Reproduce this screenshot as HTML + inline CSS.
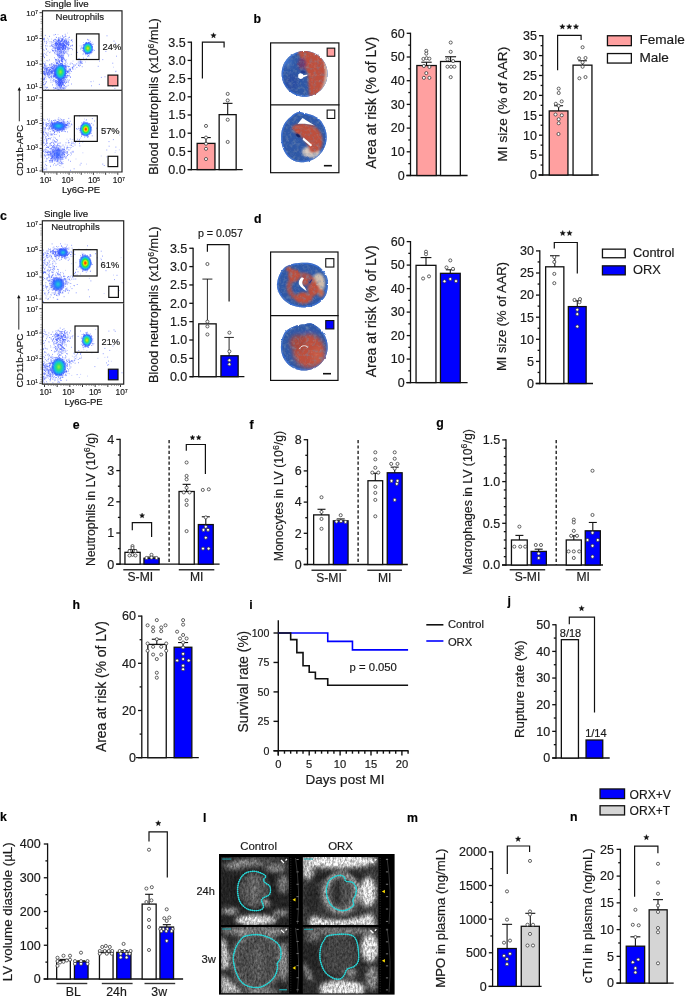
<!DOCTYPE html><html><head><meta charset="utf-8"><style>html,body{margin:0;padding:0;background:#fff;}svg{display:block;will-change:transform}text{stroke:#1a1a1a;stroke-width:0.18px}</style></head><body><svg width="685" height="998" viewBox="0 0 685 998" font-family='"Liberation Sans", sans-serif'>
<rect width="685" height="998" fill="#fff"/>
<defs><filter id="b05" x="-20%" y="-20%" width="140%" height="140%"><feGaussianBlur stdDeviation="0.5"/></filter><filter id="b1" x="-30%" y="-30%" width="160%" height="160%"><feGaussianBlur stdDeviation="1"/></filter><filter id="b2" x="-50%" y="-50%" width="200%" height="200%"><feGaussianBlur stdDeviation="2"/></filter><filter id="b3" x="-50%" y="-50%" width="200%" height="200%"><feGaussianBlur stdDeviation="3"/></filter><radialGradient id="gcore"><stop offset="0" stop-color="#f5f000"/><stop offset="0.3" stop-color="#50e050"/><stop offset="0.55" stop-color="#10d0e0"/><stop offset="0.8" stop-color="#2060ff" stop-opacity="0.7"/><stop offset="1" stop-color="#3050ff" stop-opacity="0"/></radialGradient><radialGradient id="gcoreR"><stop offset="0" stop-color="#ff2800"/><stop offset="0.12" stop-color="#ff5a00"/><stop offset="0.26" stop-color="#e8e800"/><stop offset="0.44" stop-color="#30e040"/><stop offset="0.62" stop-color="#10c8e0"/><stop offset="0.8" stop-color="#2060ff" stop-opacity="0.75"/><stop offset="1" stop-color="#3050ff" stop-opacity="0"/></radialGradient><radialGradient id="gcyan"><stop offset="0" stop-color="#20d0d0"/><stop offset="0.45" stop-color="#2080ff"/><stop offset="0.8" stop-color="#3050ff" stop-opacity="0.6"/><stop offset="1" stop-color="#3050ff" stop-opacity="0"/></radialGradient><radialGradient id="gblue"><stop offset="0" stop-color="#3060ff" stop-opacity="0.85"/><stop offset="0.7" stop-color="#4060ff" stop-opacity="0.4"/><stop offset="1" stop-color="#4060ff" stop-opacity="0"/></radialGradient><radialGradient id="ggreen"><stop offset="0" stop-color="#a0f030"/><stop offset="0.28" stop-color="#30e070"/><stop offset="0.55" stop-color="#10c0e0"/><stop offset="0.8" stop-color="#2060ff" stop-opacity="0.7"/><stop offset="1" stop-color="#3050ff" stop-opacity="0"/></radialGradient></defs>
<g>
<defs><linearGradient id="axg" x1="0" x2="1" y1="0" y2="0"><stop offset="0" stop-color="#1c3a8a"/><stop offset="0.4" stop-color="#1e6a3a"/><stop offset="0.75" stop-color="#2a4a6a"/><stop offset="1" stop-color="#222"/></linearGradient></defs>
<text x="44.5" y="7" font-size="9.7" text-anchor="start" fill="#111">Single live</text>
<text x="55.6" y="19.7" font-size="9.6" text-anchor="start" fill="#222">Neutrophils</text>
<clipPath id="clip1"><rect x="41.9" y="10.2" width="80.69999999999999" height="80.7"/></clipPath>
<g clip-path="url(#clip1)">
<path d="M61.2 75.2h0M59.9 41.5h0M60.4 45.0h0M85.3 49.5h0M62.6 59.5h0M61.1 83.5h0M64.6 37.2h0M54.6 75.4h0M68.2 66.7h0M65.8 49.4h0M52.2 71.1h0M64.5 45.0h0M63.3 86.3h0M92.1 51.0h0M61.3 69.5h0M56.8 80.9h0M58.1 48.6h0M58.7 42.8h0M87.5 44.3h0M59.4 69.4h0M55.1 53.9h0M86.5 42.4h0M52.8 82.2h0M66.6 45.3h0M64.5 45.0h0M85.8 46.1h0M65.7 65.5h0M62.0 71.6h0M54.2 70.7h0M61.8 66.7h0M56.8 44.8h0M44.7 75.1h0M59.5 41.9h0M60.1 42.6h0M60.7 47.8h0M48.2 77.8h0M52.7 72.5h0M53.2 67.0h0M58.1 88.9h0M66.2 87.1h0M88.1 48.4h0M90.0 51.8h0M60.5 41.4h0M53.2 68.3h0M54.4 75.0h0M56.0 66.4h0M54.8 64.6h0M59.0 81.8h0M88.5 45.3h0M62.4 72.9h0M85.3 50.7h0M48.1 72.1h0M52.4 71.6h0M48.1 68.0h0M59.2 72.5h0M61.8 43.6h0M55.8 45.8h0M47.3 69.7h0M55.9 60.4h0M48.9 69.8h0M59.7 85.4h0M65.3 42.6h0M62.0 88.8h0M55.4 41.9h0M45.0 77.7h0M85.3 44.0h0M90.8 47.7h0M63.0 67.1h0M69.0 68.8h0M55.3 67.5h0M62.8 42.6h0M58.8 69.8h0M69.0 47.0h0M60.3 73.3h0M58.6 65.4h0M66.5 75.6h0M89.8 50.0h0M44.1 42.9h0M58.2 44.9h0M64.7 70.9h0M52.6 63.6h0M59.0 46.1h0M61.2 69.7h0M59.5 76.0h0M87.9 52.1h0M56.6 48.3h0M73.0 61.1h0M84.6 48.2h0M92.6 48.0h0M55.3 76.3h0M85.8 44.8h0M87.8 48.9h0M44.3 66.1h0M58.2 61.6h0M63.9 74.4h0M88.4 52.1h0M62.9 74.4h0M45.8 70.1h0M51.1 71.9h0M64.1 42.0h0M61.2 41.4h0M58.1 83.5h0M65.7 72.7h0M61.6 69.7h0M61.7 85.0h0M58.4 73.2h0M66.9 76.5h0M58.5 64.4h0M56.6 72.4h0M86.3 49.9h0M65.7 51.6h0M89.0 47.9h0M84.9 47.2h0M57.9 42.2h0M87.8 48.1h0M44.6 70.1h0M60.3 75.1h0M64.0 81.9h0M57.4 52.6h0M58.7 61.4h0M59.9 82.8h0M70.5 69.3h0M55.9 42.6h0M62.6 49.6h0M87.0 51.2h0M58.6 39.6h0M44.6 73.3h0M51.8 68.2h0M87.2 45.1h0M60.8 47.7h0M49.0 72.7h0M57.1 86.2h0M64.5 73.5h0M68.2 44.4h0M62.7 44.0h0M63.8 46.4h0M62.4 63.9h0M49.4 74.0h0M44.4 81.3h0M88.3 47.7h0M50.4 73.5h0M43.6 68.2h0M64.5 44.8h0M87.5 49.3h0M89.5 49.5h0M80.6 62.2h0M63.2 80.6h0M55.7 71.6h0M93.6 81.2h0M61.7 66.6h0M56.9 61.6h0M47.5 74.3h0M63.2 77.7h0M59.6 78.8h0M52.7 42.9h0M56.0 82.8h0M61.0 53.8h0M60.8 46.7h0M54.6 77.1h0M43.1 82.7h0M82.9 47.8h0M64.8 69.4h0M62.2 82.6h0M87.8 49.5h0M61.5 66.1h0M63.8 73.0h0M53.4 71.2h0M65.6 75.4h0M60.8 69.4h0M91.8 52.4h0M68.0 71.5h0M64.1 47.1h0M58.0 84.9h0M58.9 50.2h0M55.8 42.0h0M50.7 71.9h0M67.6 63.4h0M57.7 44.0h0M65.6 43.7h0M87.0 51.7h0M45.0 79.4h0M60.8 71.7h0M63.0 46.1h0M53.7 71.9h0M44.4 85.1h0M60.3 68.6h0M45.0 68.5h0M51.6 43.1h0M64.2 80.2h0M53.7 79.3h0M59.4 71.1h0M59.0 80.5h0M51.5 72.0h0M43.7 71.4h0M62.6 88.1h0M56.6 70.4h0M89.4 50.2h0M56.9 78.1h0M44.3 74.4h0M88.6 50.3h0M66.1 73.7h0M59.8 37.7h0M54.1 73.5h0M59.5 54.9h0M89.0 56.3h0M51.9 68.5h0M73.4 66.5h0M59.0 81.5h0M90.1 50.5h0M80.7 63.7h0M50.4 69.5h0M57.6 44.1h0M44.0 71.8h0M49.4 75.2h0M56.6 77.6h0M55.9 68.9h0M64.3 42.0h0M88.3 47.9h0M80.0 45.9h0M55.4 69.1h0M52.8 80.7h0M50.7 71.6h0M52.3 69.6h0M61.2 60.2h0M52.8 68.3h0M63.9 70.2h0M88.0 44.2h0M59.5 49.6h0M58.0 34.5h0M86.3 50.8h0M54.7 74.4h0M58.8 81.1h0M60.3 83.0h0M43.5 84.9h0M62.9 75.7h0M49.2 74.8h0M65.2 42.5h0M57.7 81.3h0M60.5 68.7h0M53.1 41.9h0M46.0 69.9h0M62.2 66.0h0M48.9 72.6h0M54.8 63.9h0M56.2 37.1h0M62.1 39.7h0M58.7 46.7h0M90.3 48.1h0M56.6 67.2h0M87.1 43.6h0M52.8 49.2h0M62.5 82.4h0M61.1 87.5h0M86.7 50.2h0M93.0 49.4h0M53.6 76.4h0M60.5 88.1h0M54.3 76.5h0M59.6 48.2h0M55.0 47.2h0M65.4 65.1h0M56.1 39.8h0M52.8 71.6h0M58.6 82.5h0M89.2 47.2h0M57.9 55.0h0M56.0 76.7h0M68.9 47.7h0M62.1 44.9h0M89.1 44.5h0M61.9 74.7h0M86.1 51.2h0M45.7 54.5h0M46.3 72.4h0M63.2 51.3h0M72.4 67.0h0M58.6 78.3h0M86.4 49.1h0M63.1 80.4h0M70.1 40.6h0M91.3 44.0h0M92.2 42.3h0M58.4 82.1h0M58.6 46.7h0M67.4 75.2h0M52.3 73.6h0M52.2 73.7h0M62.3 43.5h0M58.6 82.5h0M60.3 62.1h0M55.5 83.0h0M88.9 43.0h0M86.1 48.6h0M62.1 51.2h0M54.8 79.8h0M60.0 68.5h0M70.7 45.8h0M56.0 46.5h0M58.4 66.7h0M58.9 74.6h0M47.1 65.7h0M62.6 62.4h0M85.2 52.1h0M91.2 44.4h0M57.2 62.7h0M56.4 74.6h0M58.5 87.4h0M63.5 37.6h0M46.8 67.3h0M64.6 39.6h0M63.9 49.5h0M86.3 46.9h0M60.6 45.3h0M59.8 75.8h0M60.8 70.1h0M62.4 57.6h0M56.2 84.5h0M55.8 81.6h0M48.3 70.6h0M62.9 75.7h0M89.5 42.1h0M63.3 43.1h0M84.3 48.5h0M60.1 70.5h0M61.6 57.5h0M74.1 66.4h0M51.6 72.9h0M55.6 65.7h0M59.1 63.3h0M57.0 60.3h0M65.6 82.6h0M65.7 73.8h0M59.8 79.3h0M91.0 47.4h0M67.1 43.5h0M62.0 43.5h0M55.8 47.7h0M55.6 72.9h0M64.4 74.8h0M62.2 61.6h0M54.7 70.9h0M53.7 62.6h0M50.7 52.0h0M57.5 47.4h0M46.4 88.5h0M65.3 67.2h0M53.5 42.2h0M64.5 42.2h0M61.6 59.0h0M88.2 47.6h0M58.1 89.3h0M46.8 68.1h0M61.3 57.3h0M86.3 46.5h0M45.3 84.1h0M55.6 47.4h0M55.9 71.1h0M67.5 44.6h0M78.7 65.3h0M68.8 72.0h0M60.3 49.9h0M87.5 47.8h0M56.5 42.7h0M91.5 52.4h0M60.9 41.2h0M91.2 51.7h0M84.5 47.3h0M58.3 86.6h0M60.2 51.5h0M89.1 41.0h0M52.2 71.2h0M63.0 54.1h0M60.2 50.9h0M71.3 54.4h0M55.9 53.7h0M61.9 45.0h0M64.8 40.4h0M67.6 44.6h0M47.3 68.1h0M68.2 44.5h0M58.4 60.8h0M61.6 89.0h0M62.7 84.1h0M64.7 70.2h0M89.2 42.6h0M60.5 68.6h0M90.1 48.7h0M58.5 76.0h0M69.5 44.5h0M85.4 45.9h0M59.8 61.2h0M63.7 72.7h0M58.9 72.8h0M59.9 85.2h0M60.1 58.6h0M60.3 73.2h0M55.9 48.8h0M45.7 54.3h0M115.6 71.7h0M63.2 47.4h0M65.4 66.8h0M87.8 49.4h0M88.7 44.8h0M62.2 80.1h0M85.5 62.0h0M63.7 83.0h0M88.7 50.4h0M61.5 67.2h0M59.5 51.3h0M54.8 45.6h0M59.0 68.7h0M84.8 51.2h0M61.7 48.2h0M55.4 44.2h0M44.7 73.1h0M48.5 39.3h0M57.0 89.7h0M55.6 75.0h0M56.6 73.4h0M88.1 46.4h0M59.1 82.0h0M63.7 57.2h0M87.1 50.8h0M66.0 36.4h0M55.8 49.8h0M89.5 42.8h0M62.4 77.7h0M48.3 71.2h0M85.2 51.7h0M62.3 55.2h0M90.5 48.0h0M85.9 46.8h0M65.2 65.3h0M88.6 43.8h0M61.1 56.0h0M87.6 54.1h0M62.9 52.3h0M48.2 76.3h0M62.8 39.3h0M88.3 48.8h0M89.2 45.3h0M88.9 39.7h0M58.8 63.0h0M69.4 71.0h0M51.9 75.6h0M57.4 58.3h0M44.1 68.2h0M64.8 80.3h0M52.8 51.4h0M87.6 49.8h0M58.7 48.6h0M44.0 71.1h0M62.6 72.4h0M51.7 39.1h0M57.6 81.0h0M89.6 50.7h0M68.2 48.1h0M44.1 73.7h0M86.1 50.0h0M59.0 39.6h0M89.2 51.9h0M43.5 73.4h0M83.4 44.7h0M55.9 67.8h0M62.1 53.5h0M86.7 48.4h0M62.4 65.3h0M59.6 73.0h0M60.7 73.2h0M56.1 74.6h0M57.8 87.6h0M61.1 52.0h0M89.4 48.3h0M89.5 48.8h0M59.5 84.4h0M60.7 67.1h0M54.8 64.2h0M65.7 63.3h0M51.4 74.5h0M58.0 72.5h0M90.6 42.8h0M61.8 56.8h0M63.0 69.9h0M86.5 43.0h0M52.8 47.0h0M64.4 78.9h0M64.2 63.8h0M88.0 53.2h0M61.9 40.5h0M63.6 48.4h0M51.1 66.1h0M58.8 42.7h0M90.0 47.2h0M68.7 41.6h0M43.5 80.0h0M59.7 43.9h0M60.9 73.9h0M62.9 83.8h0M59.1 57.3h0M54.5 76.5h0M73.6 69.2h0M46.2 71.3h0M90.1 52.1h0M60.1 70.9h0M54.7 75.5h0M60.5 60.4h0M63.8 73.5h0M64.5 47.3h0M61.4 50.1h0M63.8 80.0h0M70.4 68.2h0M63.6 37.1h0M62.9 46.4h0M72.2 68.2h0M57.5 54.9h0M55.9 85.2h0M58.7 64.0h0M58.1 44.4h0M63.1 81.4h0M61.5 69.1h0M60.7 54.6h0M91.8 50.9h0M57.0 77.7h0M61.8 77.6h0M59.0 44.8h0M58.5 50.0h0M88.6 45.3h0M87.3 48.5h0M90.1 48.9h0M82.0 48.0h0M61.9 85.7h0M52.8 48.5h0M85.7 54.2h0M59.9 67.2h0M60.7 41.6h0M88.9 45.3h0M85.8 44.4h0M63.4 48.2h0M56.3 78.4h0M45.2 66.8h0M118.4 85.9h0M59.4 70.6h0M46.4 78.9h0M62.2 75.7h0M62.0 43.8h0M68.6 73.2h0M59.9 43.2h0M67.4 33.1h0M90.8 47.8h0M79.9 61.9h0M47.7 73.6h0M66.3 70.5h0M68.6 67.2h0M47.5 38.3h0M58.7 85.9h0M56.8 84.3h0M88.3 45.4h0M44.5 64.2h0M45.3 68.2h0M61.8 54.1h0M60.5 66.3h0M60.5 88.4h0M67.4 79.4h0M63.1 77.0h0M59.7 57.8h0M60.8 83.0h0M59.6 78.4h0M62.2 69.7h0M60.5 68.9h0M92.6 47.1h0M83.5 42.5h0M65.3 77.2h0M68.0 43.9h0M60.9 72.6h0M59.2 85.7h0M89.4 45.0h0M83.7 44.7h0M86.3 47.3h0M61.7 74.9h0M89.2 45.1h0M88.8 52.6h0M60.0 75.8h0M48.9 74.1h0M59.5 44.8h0M88.5 52.4h0M55.1 81.6h0M59.6 84.9h0M89.3 46.6h0M60.2 77.1h0M53.5 69.3h0M67.0 43.0h0M113.4 67.2h0M66.2 73.9h0M44.7 71.7h0M64.2 44.4h0M88.9 50.6h0M49.3 41.6h0M46.8 52.4h0M64.7 42.4h0M48.1 61.0h0M64.8 72.7h0M57.1 70.9h0M59.4 78.9h0M85.5 45.4h0M58.0 71.9h0M83.8 48.5h0M58.4 61.3h0M55.8 69.3h0M58.0 78.1h0M86.9 43.5h0M58.5 66.9h0M86.5 47.8h0M65.5 48.7h0M56.7 47.0h0M44.8 76.1h0M60.0 80.2h0M79.3 59.3h0M63.2 47.4h0M57.1 48.7h0M60.3 73.3h0M48.1 71.3h0M87.0 44.9h0M47.1 42.5h0M89.5 52.1h0M60.3 50.7h0M60.9 81.4h0M51.1 42.8h0M89.5 44.4h0M61.5 70.6h0M58.9 49.3h0M56.7 54.5h0M46.5 74.5h0M44.8 66.2h0M60.9 63.9h0M67.8 46.5h0M62.6 78.7h0M45.4 47.0h0M87.6 45.7h0M69.4 69.9h0M65.1 77.4h0M69.2 39.6h0M68.5 43.6h0M86.8 46.8h0M60.4 68.3h0M58.8 67.7h0M85.4 47.9h0M60.5 43.9h0M49.9 70.4h0M48.1 40.8h0M46.3 42.6h0M63.8 84.8h0M56.2 72.5h0M68.0 45.1h0M86.7 50.4h0M61.2 84.7h0M63.1 85.3h0M62.9 67.3h0M64.9 59.9h0M52.3 69.9h0M61.9 88.7h0M49.3 65.0h0M62.7 44.0h0M66.1 78.8h0M56.8 48.5h0M64.6 72.2h0M57.8 72.3h0M61.1 73.3h0M53.9 70.3h0M89.0 44.4h0M68.7 44.2h0M65.1 52.1h0M65.8 70.1h0M88.7 45.9h0M86.5 47.5h0M45.1 74.5h0M59.6 64.8h0M57.3 71.7h0M86.5 44.2h0M45.5 68.0h0M70.2 71.4h0M88.1 52.1h0M67.9 49.3h0M86.5 49.0h0M52.7 74.3h0M59.1 78.4h0M64.3 59.0h0M85.2 49.6h0M49.9 43.2h0M55.1 65.0h0M57.6 53.2h0M88.0 51.8h0M56.0 67.2h0M47.1 72.3h0M62.1 75.6h0M58.5 83.3h0M65.3 75.7h0M57.7 83.9h0M58.0 78.9h0M49.9 70.0h0M52.8 73.6h0M66.8 86.3h0M61.5 79.8h0M64.7 46.3h0M44.8 61.5h0M75.2 69.0h0M54.6 76.3h0M44.4 70.0h0M57.0 46.0h0M57.5 81.8h0M57.8 84.8h0M85.7 54.9h0M62.8 49.9h0M66.1 66.3h0M59.0 67.1h0M65.5 72.2h0M60.4 74.3h0M66.8 86.2h0M57.8 39.1h0M64.1 80.3h0M61.1 75.1h0M87.4 52.4h0M53.7 75.0h0M88.9 44.9h0M44.5 39.3h0M87.9 49.1h0M88.0 47.9h0M56.4 43.5h0M58.1 74.5h0M53.7 77.5h0M58.6 59.2h0M55.2 69.2h0M63.1 44.6h0M58.5 73.4h0M89.5 48.7h0M51.7 49.4h0M83.0 54.6h0M50.8 76.4h0M54.4 72.9h0M65.4 82.0h0M59.9 86.4h0M66.7 77.4h0M65.8 46.5h0M59.5 86.0h0M58.3 84.4h0M89.8 51.2h0M58.3 43.1h0M44.2 86.2h0M55.9 82.8h0M52.1 42.4h0M64.6 48.6h0M79.7 64.8h0M57.8 41.5h0M46.3 53.8h0M49.9 65.6h0M54.7 71.2h0M56.9 53.4h0M59.8 46.9h0M86.8 42.9h0M56.2 52.2h0M58.4 68.8h0M57.7 68.7h0M52.4 64.4h0M54.1 79.2h0M60.3 73.6h0M91.5 53.0h0M59.3 77.0h0M68.3 44.8h0M90.9 52.6h0M61.2 52.3h0M61.2 71.3h0M58.3 67.2h0M81.5 61.1h0M56.6 63.1h0M52.8 72.5h0M60.6 36.8h0M58.7 70.5h0M62.2 43.8h0M58.5 81.1h0M53.8 68.0h0M43.2 77.0h0" stroke="#7f90ff" stroke-width="0.65" stroke-linecap="round" opacity="0.8"/>
<path d="M45.8 72.8h0M55.8 61.8h0M87.4 45.8h0M62.0 38.7h0M66.5 44.1h0M58.5 40.1h0M61.6 72.2h0M64.4 73.9h0M49.0 77.5h0M61.0 81.7h0M86.2 42.8h0M86.5 44.9h0M63.6 46.1h0M83.6 48.0h0M62.0 68.5h0M65.1 36.6h0M55.0 69.0h0M86.9 50.1h0M55.9 66.2h0M53.4 75.3h0M60.0 84.0h0M56.1 59.7h0M61.3 79.9h0M50.6 67.7h0M89.1 45.6h0M63.0 45.6h0M60.8 74.0h0M62.8 38.3h0M88.3 48.4h0M58.6 85.5h0M114.9 88.4h0M59.3 56.4h0M56.8 68.4h0M57.4 67.9h0M51.9 68.9h0M64.7 40.6h0M58.6 79.7h0M51.7 73.5h0M62.7 65.5h0M59.9 40.5h0M62.0 81.8h0M61.5 63.6h0M47.1 68.2h0M63.3 45.2h0M55.9 68.3h0M46.9 69.6h0M55.9 59.5h0M60.7 48.2h0M60.3 73.3h0M59.3 43.5h0M59.9 39.0h0M68.1 41.6h0M48.9 70.6h0M53.8 76.0h0M89.4 46.7h0M66.9 52.1h0M59.1 70.5h0M85.5 47.1h0M44.6 72.2h0M48.3 72.4h0M88.2 48.0h0M51.4 64.2h0M59.9 47.1h0M57.8 46.5h0M88.2 48.4h0M54.6 66.2h0M88.1 47.1h0M61.3 69.6h0M59.8 55.5h0M88.8 45.2h0M59.4 70.6h0M62.2 82.2h0M52.4 50.4h0M66.2 51.0h0M86.7 46.6h0M56.8 78.7h0M66.7 73.4h0M58.6 79.8h0M59.2 75.1h0M74.8 65.0h0M62.7 84.3h0M62.7 72.3h0M86.0 50.6h0M64.6 65.5h0M66.7 40.7h0M53.9 79.6h0M51.9 44.9h0M89.1 49.2h0M59.6 57.6h0M81.8 46.1h0M55.1 74.7h0M58.3 69.4h0M57.8 40.9h0M87.3 47.2h0M62.9 87.4h0M54.4 47.1h0M59.7 51.1h0M65.3 45.5h0M52.7 68.4h0M90.0 47.2h0M60.7 77.1h0M61.2 86.6h0M61.4 58.1h0M53.8 48.1h0M44.3 74.4h0M52.5 84.9h0M65.8 47.6h0M60.2 70.6h0M62.6 35.8h0M60.9 41.1h0M58.6 44.9h0M53.4 76.9h0M47.1 67.3h0M61.9 60.7h0M89.4 45.6h0M63.2 46.8h0M88.8 47.3h0M59.1 51.6h0M47.6 73.3h0M44.1 79.9h0M67.5 71.4h0M58.3 59.7h0M65.9 69.3h0M44.8 71.3h0M55.4 69.3h0M54.6 71.5h0M63.2 58.5h0M69.9 73.4h0M45.1 73.2h0M61.9 77.2h0M63.7 51.8h0M54.5 52.7h0M86.6 49.7h0M58.2 48.3h0M58.5 83.0h0M62.0 44.2h0M86.4 50.5h0M85.2 44.5h0M51.1 78.9h0M60.8 84.9h0M60.9 82.6h0M62.3 45.0h0M50.7 72.8h0M60.4 56.6h0M71.4 71.5h0M58.0 71.1h0M58.6 73.6h0M60.4 83.5h0M65.5 83.6h0M68.1 51.0h0M80.4 65.3h0M61.1 67.6h0M62.7 72.2h0M61.6 70.6h0M55.9 74.8h0M55.7 48.1h0M60.8 67.2h0M61.3 45.1h0M89.8 47.2h0M59.0 68.8h0M68.5 41.1h0M52.8 66.8h0M89.1 47.9h0M63.9 71.1h0M61.8 45.6h0M72.4 67.6h0M61.3 52.5h0M61.4 41.1h0M105.0 76.8h0M57.4 70.9h0M61.4 65.5h0M58.0 67.3h0M90.0 52.6h0M49.8 69.6h0M68.5 45.3h0M58.1 81.1h0M46.1 71.0h0M57.5 44.0h0M62.0 72.3h0M61.1 41.2h0M44.7 64.3h0M60.6 82.8h0M89.0 45.6h0M62.2 75.1h0M89.4 49.5h0M58.8 48.3h0M53.2 46.6h0M64.7 70.4h0M86.2 50.2h0M55.4 73.1h0M52.0 71.6h0M54.6 65.8h0M49.6 36.4h0M62.3 64.0h0M47.7 74.9h0M63.5 41.8h0M65.2 34.3h0M91.7 46.3h0M69.5 69.0h0M61.0 82.7h0M87.7 51.7h0M88.3 48.7h0M80.1 62.8h0M55.2 72.0h0M60.8 80.0h0M81.5 63.2h0M56.9 86.1h0M69.9 69.8h0M90.3 51.9h0M60.0 80.0h0M62.5 48.5h0M64.6 85.6h0M63.1 48.0h0M62.3 78.5h0M63.3 47.2h0M68.1 48.7h0M85.2 48.4h0M92.0 47.1h0M90.1 44.1h0M43.9 71.7h0M61.1 58.1h0M51.5 63.8h0M64.0 50.1h0M57.1 63.4h0M66.3 66.7h0M62.4 48.1h0M62.1 68.8h0M58.3 47.2h0M115.7 43.3h0M60.8 73.5h0M59.1 55.2h0M57.2 77.8h0M61.1 41.9h0M61.6 67.3h0M58.7 80.5h0M64.6 77.9h0M57.5 81.6h0M61.3 47.7h0M63.2 53.3h0M66.0 70.8h0M61.5 40.3h0M66.2 43.0h0M60.1 89.0h0M86.3 58.7h0M63.7 46.9h0M59.0 56.9h0M61.0 45.3h0M60.1 80.8h0M58.7 42.2h0M58.9 52.1h0M54.7 67.0h0M89.2 46.3h0M59.0 73.5h0M57.7 77.2h0M62.8 40.3h0M89.2 51.7h0M60.0 71.7h0M87.1 52.0h0M56.6 37.5h0M61.4 75.6h0M47.2 74.0h0M70.0 48.4h0M60.8 44.6h0M51.6 70.3h0M92.3 44.6h0M54.3 41.3h0M49.6 70.3h0M116.4 56.2h0M66.1 41.6h0M55.8 88.1h0M61.6 61.1h0M56.3 62.6h0M55.6 75.7h0M64.1 79.1h0M64.0 75.3h0M62.4 64.6h0M60.9 50.1h0M50.4 69.5h0M56.2 75.0h0M57.1 77.1h0M55.3 44.1h0M59.7 49.0h0M58.7 42.8h0M89.5 47.1h0M47.1 76.1h0M57.7 89.0h0M57.0 73.8h0M63.4 68.8h0M56.5 65.5h0M57.1 67.4h0M87.3 52.6h0M59.2 54.1h0M63.8 73.3h0M62.8 58.2h0M61.0 79.7h0M57.5 72.5h0M61.0 47.6h0M58.8 49.3h0M66.5 77.3h0M45.3 75.6h0M56.6 44.1h0M55.0 45.6h0M54.7 74.8h0M65.3 71.1h0M68.1 38.9h0M61.7 39.1h0M59.7 43.9h0M45.9 69.6h0M54.7 70.0h0M89.8 52.3h0M64.4 53.5h0M54.9 66.7h0M64.2 81.6h0M53.1 70.4h0M53.1 45.9h0M62.5 39.9h0M61.4 85.3h0M86.3 47.4h0M63.6 78.0h0M58.1 64.6h0M62.7 74.6h0M64.1 82.7h0M65.3 43.3h0M43.5 38.9h0M58.3 68.5h0M84.1 50.4h0M68.4 56.0h0M59.0 53.2h0M60.4 64.9h0M60.7 86.2h0M52.1 70.9h0M57.6 50.9h0M91.0 47.9h0M52.6 46.4h0M82.0 61.7h0M88.0 50.5h0M59.3 68.5h0M60.0 44.9h0M58.1 77.3h0M59.2 48.2h0M82.2 66.7h0M63.1 54.2h0M47.7 70.4h0M61.6 77.8h0M57.9 55.9h0M58.7 78.3h0M61.2 51.5h0M59.1 68.0h0M52.4 71.7h0M65.1 39.9h0M45.7 77.1h0M52.9 76.1h0M60.9 82.0h0M90.6 44.2h0M57.6 48.3h0M60.5 77.1h0M90.8 45.1h0M63.7 38.0h0M55.8 78.6h0M59.5 74.4h0M55.6 74.7h0M89.7 48.4h0M59.5 85.8h0M64.2 74.6h0M56.4 42.5h0M57.7 51.7h0M57.3 71.1h0M44.6 38.3h0M91.0 43.3h0M62.9 43.9h0M66.0 75.7h0M62.5 45.7h0M52.1 73.7h0M64.1 43.2h0M57.7 44.1h0M81.6 62.8h0M60.7 79.9h0M62.1 72.6h0M50.9 67.2h0M58.6 79.1h0M86.0 43.0h0M49.2 73.8h0M90.0 45.3h0M61.0 71.4h0M55.2 48.8h0M57.8 71.1h0M58.7 67.3h0M60.0 79.7h0M58.7 74.3h0M84.7 50.3h0M88.7 48.6h0M67.7 71.8h0M43.7 79.6h0M56.9 47.6h0M59.1 81.1h0M53.4 67.7h0M86.6 49.4h0M51.5 72.9h0M61.4 70.8h0M53.4 87.5h0M53.8 66.0h0M51.5 45.4h0M64.9 52.5h0M52.6 68.7h0M62.4 59.1h0M88.9 49.5h0M89.2 47.7h0M56.6 43.6h0M46.7 70.4h0M65.0 43.8h0M68.1 75.6h0M88.0 48.2h0M90.0 49.3h0M72.4 49.7h0M61.5 68.7h0M91.0 81.7h0M88.3 51.6h0M59.8 81.0h0M71.7 40.4h0M88.5 42.6h0M55.9 48.7h0M62.8 46.4h0M101.3 77.4h0M86.8 47.0h0M80.4 60.8h0M51.1 65.3h0M55.5 45.0h0M55.6 50.2h0M59.4 67.5h0M65.7 36.0h0M48.5 67.4h0M64.3 49.9h0M55.8 82.7h0M60.7 72.6h0M57.3 49.8h0M47.0 68.7h0M62.0 72.6h0M59.7 69.3h0M56.9 75.4h0M85.0 46.4h0M55.1 71.7h0M88.2 40.2h0M86.5 48.0h0M49.5 70.1h0M90.7 52.2h0M66.4 67.2h0M53.9 81.4h0M59.2 55.9h0M85.0 47.7h0M63.2 49.6h0M86.7 50.7h0M56.1 41.5h0M83.8 48.0h0M73.4 65.0h0M83.2 53.8h0M71.8 48.5h0M55.0 44.8h0M78.4 65.4h0M45.3 74.8h0M61.4 76.1h0M59.0 89.3h0M57.0 83.0h0M88.3 48.7h0M61.9 73.4h0M61.5 71.4h0M86.7 52.1h0M62.8 71.4h0M65.4 48.4h0M51.6 72.5h0M87.7 45.2h0M72.2 45.8h0M47.0 60.6h0M69.6 37.2h0M52.6 66.6h0M59.9 85.6h0M59.4 52.9h0M58.5 74.1h0M66.1 53.2h0M60.4 50.0h0M65.2 41.7h0M56.1 77.5h0M57.0 46.4h0M46.3 72.2h0M61.1 44.7h0M85.5 48.4h0M66.7 42.2h0M67.6 42.5h0M58.7 49.5h0M58.0 75.4h0M57.5 63.4h0M68.2 82.6h0M65.9 80.2h0M46.1 68.7h0M56.1 80.7h0M59.4 61.4h0M61.0 46.0h0M89.7 49.2h0M59.2 47.5h0M57.8 49.6h0M55.9 81.1h0M70.6 69.3h0M55.2 39.2h0M63.0 58.3h0M48.8 76.6h0M84.4 45.8h0M59.6 84.9h0M57.1 44.7h0M51.6 75.8h0M68.8 70.0h0M54.0 89.2h0M66.0 68.8h0M55.7 51.0h0M79.3 66.1h0M65.6 79.4h0M67.1 71.5h0M58.6 82.4h0M53.2 80.3h0M44.0 87.9h0M87.3 45.7h0M61.6 68.8h0M61.9 57.7h0M61.7 53.1h0M46.0 82.0h0M87.7 56.5h0M63.6 48.1h0M49.4 74.2h0M61.7 74.7h0M46.5 70.9h0M55.0 75.5h0M50.0 77.7h0M45.1 65.2h0M57.1 43.5h0M62.6 80.1h0M57.2 70.8h0M58.7 50.1h0M65.3 47.9h0M60.3 70.8h0M61.9 87.6h0M61.2 74.1h0M61.9 66.7h0M87.7 48.9h0M61.9 68.2h0M61.1 89.8h0M64.1 41.6h0M58.3 70.2h0M43.9 63.7h0M86.2 44.0h0M57.8 69.5h0M85.5 47.9h0M60.0 68.3h0M66.0 39.5h0M62.0 47.4h0M63.1 78.2h0M65.1 71.5h0M55.9 45.0h0M85.5 46.7h0M60.6 53.2h0M51.8 71.8h0M60.6 80.7h0M60.5 67.5h0M59.7 77.0h0M62.2 39.5h0M58.9 39.2h0M59.4 81.6h0M87.8 48.7h0M58.8 82.0h0M87.8 49.0h0M70.3 70.0h0M62.9 49.8h0M88.1 47.1h0M66.8 43.6h0M58.8 40.2h0M63.8 88.1h0M85.6 53.7h0M62.1 40.7h0M86.4 49.2h0M61.8 46.0h0M88.7 42.9h0M59.9 71.4h0M63.1 39.6h0M70.1 64.2h0M65.6 73.0h0M61.7 76.1h0M60.4 83.4h0M60.9 82.6h0M51.4 71.9h0M59.4 80.5h0M62.1 57.6h0M63.5 71.4h0M60.0 82.4h0M62.3 49.3h0M59.8 76.0h0M67.5 72.6h0M56.5 82.4h0M57.0 69.7h0M53.5 65.5h0M67.7 53.9h0M62.1 66.2h0M88.4 52.6h0M55.3 43.6h0M88.7 50.2h0M63.8 47.8h0M88.9 55.9h0M68.9 76.0h0M55.0 76.0h0M47.1 68.8h0M57.5 83.0h0M59.9 83.9h0M46.5 69.7h0M56.8 68.6h0M43.3 82.4h0M90.9 53.8h0M60.6 73.3h0M80.3 61.5h0M61.6 47.4h0M61.2 82.0h0M87.8 48.7h0M87.4 52.1h0M55.8 48.0h0M85.0 48.2h0M61.6 50.7h0M57.8 43.3h0M64.1 60.1h0M59.7 66.5h0M62.5 38.9h0M68.9 72.2h0M87.2 54.9h0M56.4 45.3h0M55.3 74.6h0M60.4 72.9h0M87.2 50.4h0M83.9 51.6h0M43.7 39.1h0M55.5 73.4h0M70.2 76.6h0M86.8 44.0h0M61.2 55.7h0M58.5 40.3h0M69.4 75.2h0M59.9 66.2h0M54.5 70.5h0M52.5 50.5h0M44.3 39.9h0M64.3 53.9h0M64.2 87.6h0M59.3 71.0h0M61.7 69.6h0M54.9 69.6h0M58.6 69.7h0M62.7 83.2h0M54.9 75.8h0M56.1 50.5h0M90.4 48.0h0M54.0 71.9h0M61.5 73.2h0M87.0 47.8h0M87.3 49.2h0M56.7 45.2h0M50.8 80.1h0M88.2 44.4h0M69.1 42.8h0M85.5 48.2h0M60.0 76.2h0M62.6 73.2h0M48.0 51.2h0M57.8 78.3h0M58.7 47.1h0M55.5 34.5h0M61.8 61.1h0M61.5 80.6h0M58.2 56.7h0M58.5 68.2h0M55.7 73.8h0M88.0 53.1h0M57.0 47.7h0M55.5 75.4h0M91.6 85.8h0M61.8 69.6h0M62.3 75.3h0M65.8 49.7h0M88.2 44.6h0M65.8 42.4h0M50.7 69.6h0M59.3 75.5h0M59.9 46.8h0M62.3 57.2h0M46.5 72.1h0M85.8 46.5h0M64.4 45.5h0M61.7 60.3h0M69.7 48.7h0M59.6 74.7h0M57.9 43.2h0M61.9 69.8h0M66.4 46.1h0M62.1 69.5h0M60.9 78.4h0M54.0 35.0h0M56.9 65.2h0M60.1 82.9h0M87.8 53.3h0M88.6 48.5h0M59.1 72.8h0M60.7 75.7h0M61.7 63.5h0M90.7 51.7h0M60.3 67.3h0M86.3 45.7h0M54.7 74.0h0M64.6 68.5h0M64.6 85.3h0M61.2 67.9h0M49.7 71.7h0M46.1 73.4h0M58.0 54.7h0M93.2 44.2h0M65.0 77.2h0M62.0 81.5h0M57.9 71.1h0M45.7 87.1h0M61.3 74.2h0M72.4 63.7h0M69.0 37.5h0M65.8 38.5h0M64.7 42.0h0M61.0 59.9h0M62.5 72.2h0M62.4 49.6h0M63.5 43.2h0M48.0 70.1h0M67.2 76.9h0M55.9 42.8h0M60.2 78.9h0M63.7 80.1h0M54.2 73.9h0M61.7 40.2h0M57.3 77.3h0M58.1 76.6h0M58.2 41.4h0M45.9 71.2h0M45.9 68.4h0M78.1 63.9h0M62.1 47.0h0M54.1 76.7h0M59.3 53.8h0M88.2 53.1h0M64.6 69.9h0M61.0 84.5h0M89.0 45.9h0M78.2 62.2h0M86.1 46.1h0M87.6 39.4h0M56.1 66.1h0M62.3 69.4h0M60.8 46.3h0M46.3 43.6h0M54.1 69.5h0M59.4 68.8h0M63.1 43.0h0M66.5 44.4h0M66.4 47.6h0M86.2 48.2h0M63.4 58.1h0M45.1 65.2h0M55.5 77.1h0M64.0 89.8h0M64.9 45.2h0M59.5 62.4h0M64.0 46.3h0M62.5 59.3h0M71.6 40.3h0M65.6 88.1h0M48.1 74.6h0M56.3 40.8h0M61.0 51.9h0M83.0 48.6h0M65.0 48.7h0M56.2 72.8h0M61.4 67.6h0M56.8 75.7h0M44.8 74.6h0M59.7 42.4h0M49.2 73.0h0M57.0 83.1h0M68.8 54.9h0M87.6 52.0h0M58.3 70.4h0M58.9 77.2h0M67.2 42.2h0M59.9 51.2h0M42.9 74.3h0M59.3 48.9h0M63.0 41.1h0M65.3 77.2h0M89.6 51.0h0M59.5 42.1h0M65.2 66.4h0M45.3 35.4h0M61.0 70.4h0M64.8 79.2h0M68.2 85.3h0M61.3 86.3h0M65.2 66.4h0M59.2 55.5h0M58.6 84.4h0M66.2 62.0h0M67.0 43.6h0M61.7 70.2h0M49.1 71.4h0M49.7 70.6h0M58.8 68.4h0M69.6 80.1h0M56.5 45.7h0M43.6 84.3h0M66.5 41.8h0M90.4 47.8h0M51.5 70.9h0M54.4 57.8h0M60.6 73.1h0M66.2 43.9h0M58.0 69.7h0M64.3 82.0h0M58.3 47.3h0M63.9 51.2h0M65.5 46.5h0M59.7 73.0h0M58.6 76.2h0M43.0 39.7h0M58.1 84.2h0M54.6 74.4h0M61.3 43.7h0M52.3 72.8h0M63.1 81.2h0M61.9 70.8h0M49.4 59.9h0M62.4 82.3h0M85.2 50.3h0M57.2 75.6h0M62.4 84.1h0M63.0 83.1h0M46.5 81.8h0M45.7 45.6h0M54.2 68.4h0M44.6 57.2h0M90.8 47.3h0M65.7 76.1h0M62.1 55.7h0M58.8 72.4h0M59.1 74.3h0M49.7 52.6h0M77.6 52.4h0M47.6 72.4h0M88.1 49.2h0M60.4 52.9h0M62.8 76.4h0M57.6 70.3h0M51.1 46.1h0M63.0 46.0h0M60.2 80.4h0M88.6 55.5h0M62.4 66.8h0M57.1 71.3h0M44.7 65.5h0M87.1 43.4h0M89.5 48.9h0M66.1 46.3h0M58.7 84.4h0M58.0 54.8h0M54.9 43.2h0M63.6 68.9h0M91.4 49.6h0M59.7 84.3h0M56.7 70.1h0M61.0 56.9h0M60.8 56.4h0M86.3 51.5h0M50.0 64.3h0M58.9 70.5h0M65.3 75.9h0M62.7 80.7h0M56.3 69.9h0M102.8 59.6h0M58.8 53.1h0M62.6 45.3h0M62.6 72.3h0M62.8 66.4h0M89.8 48.0h0M90.2 45.8h0M71.0 63.1h0M54.1 76.1h0M59.5 75.9h0M59.7 80.4h0M65.2 86.5h0M57.4 70.6h0M87.0 48.2h0M85.9 50.3h0M49.4 64.8h0M57.5 69.7h0M92.8 49.5h0M56.2 81.9h0M59.4 46.8h0M86.0 51.8h0M64.0 70.2h0M54.1 73.3h0M87.7 48.5h0M66.9 77.0h0M67.2 71.1h0M62.2 63.8h0M64.2 78.1h0M61.3 72.0h0M63.4 45.4h0M89.9 44.1h0M55.8 77.3h0M58.7 78.5h0M90.6 50.9h0M57.0 54.4h0M53.4 71.3h0M62.2 60.3h0M89.3 54.2h0M66.5 41.8h0M63.1 73.7h0M59.1 40.4h0M88.9 42.8h0M59.3 67.6h0M59.8 72.4h0M62.7 65.4h0M62.2 61.8h0M56.0 88.5h0M59.5 67.5h0M81.9 47.7h0M64.8 74.0h0M62.3 46.5h0M43.2 78.7h0M65.2 46.9h0M87.8 52.9h0M58.8 73.3h0M57.1 74.9h0M66.8 68.9h0M62.0 59.9h0M89.7 50.2h0M61.1 83.3h0M59.0 79.3h0M60.8 80.8h0M63.2 56.3h0M58.5 40.5h0M55.7 65.4h0M48.7 67.6h0M55.7 43.5h0M55.3 74.5h0M61.4 81.0h0M87.3 50.0h0M50.3 76.4h0M44.4 84.3h0M59.9 85.9h0M105.9 51.4h0M44.3 78.1h0M57.2 83.4h0M43.8 67.7h0M51.2 68.0h0M53.6 40.4h0M63.0 76.0h0M53.6 50.7h0M46.9 68.7h0M56.9 84.7h0M54.6 72.5h0M62.1 41.8h0M94.3 50.4h0M63.0 49.4h0M55.3 70.6h0M89.4 51.2h0M65.6 60.5h0M69.0 71.7h0M63.5 71.0h0M58.1 59.9h0M64.9 63.7h0M68.3 71.9h0M57.8 55.2h0M46.2 66.1h0M62.0 49.2h0M56.8 63.1h0M60.9 49.2h0M53.7 74.0h0M59.4 78.0h0M49.6 77.8h0M58.7 77.2h0M64.7 74.5h0M83.4 58.1h0M44.6 74.0h0M92.6 46.5h0M63.8 47.3h0M56.1 60.4h0M57.5 68.5h0M56.9 45.3h0M59.6 66.5h0M62.2 48.2h0M55.9 88.3h0M63.0 66.8h0M50.5 71.2h0M85.9 47.2h0M54.2 66.2h0M62.4 67.8h0M90.7 49.2h0M62.7 67.8h0M92.3 50.4h0M51.2 72.5h0M87.0 51.3h0M46.6 49.5h0M57.6 79.4h0M59.6 48.0h0M99.3 84.4h0M59.0 43.9h0M75.4 65.2h0M70.4 77.5h0M66.2 59.9h0M47.1 46.0h0M59.8 76.8h0M59.9 44.4h0M58.9 47.6h0M58.0 44.2h0M87.1 48.5h0M89.0 45.6h0M86.9 47.9h0M86.3 52.1h0M58.8 37.9h0M64.4 40.5h0M65.7 48.9h0M56.9 63.5h0M88.2 48.0h0M89.2 46.7h0M56.9 80.9h0M84.3 44.9h0M63.5 79.3h0M62.4 67.1h0M91.0 45.3h0M58.6 38.1h0M59.1 76.0h0M59.9 77.8h0M51.6 67.6h0M67.4 71.9h0M55.4 43.4h0M60.7 47.6h0M51.9 66.4h0M43.1 49.4h0M88.3 51.4h0M60.2 84.4h0M62.8 76.4h0M54.1 70.0h0M60.6 45.7h0M61.4 55.8h0M88.2 50.3h0M48.2 69.3h0M68.0 49.7h0M51.3 67.8h0M58.2 79.7h0M85.3 53.1h0M47.2 72.0h0M59.3 43.8h0M63.9 65.9h0M65.5 47.4h0M90.2 46.8h0M61.0 87.0h0M53.6 68.9h0M51.3 71.3h0M45.2 66.8h0M61.2 54.4h0M50.5 71.3h0M54.8 52.9h0M54.7 50.1h0M63.3 77.6h0M55.1 51.3h0M81.0 48.2h0M68.6 45.4h0M66.0 78.0h0M54.3 73.2h0M62.2 83.1h0M65.9 40.4h0M90.8 50.2h0M59.9 72.2h0M98.2 66.3h0M60.1 43.5h0M65.9 64.8h0M84.2 49.9h0M67.8 75.4h0M99.5 61.1h0M58.5 45.5h0M61.2 65.3h0M85.1 50.7h0M65.7 71.7h0M58.5 70.8h0M65.7 69.6h0M63.5 84.9h0M85.5 45.2h0M60.5 79.5h0M59.7 79.3h0M76.9 67.4h0M59.3 66.2h0M48.1 75.0h0M58.0 51.1h0M116.0 71.2h0M60.8 41.6h0M56.1 70.5h0M87.1 53.5h0M55.0 43.9h0M90.4 51.0h0M65.7 40.8h0M62.3 84.7h0M90.8 48.9h0M88.5 48.3h0M62.6 83.2h0M65.2 66.4h0M62.8 42.1h0M60.3 43.6h0M51.7 76.6h0M49.8 72.1h0M60.9 85.7h0M58.5 40.6h0M82.6 63.3h0M87.2 48.3h0M92.0 47.9h0M57.3 41.4h0M57.4 76.0h0M88.0 46.0h0M61.5 83.4h0M86.8 47.6h0M49.0 71.7h0M60.6 73.1h0M45.4 83.3h0M66.1 81.1h0M52.1 68.0h0M63.4 43.6h0M68.1 80.3h0M62.9 62.0h0M58.6 46.2h0M60.6 75.8h0M44.5 57.7h0M63.9 48.6h0M59.8 76.6h0M61.0 67.4h0M89.8 53.0h0M86.6 45.8h0M63.4 71.8h0M61.1 66.0h0M59.3 41.0h0M65.1 72.2h0M58.2 68.6h0M44.4 69.6h0M79.0 58.5h0M59.7 45.3h0M64.7 75.6h0M61.0 66.0h0M49.6 69.2h0M48.4 72.1h0M62.3 47.0h0M64.6 75.4h0M51.5 77.3h0M57.9 75.7h0M61.8 74.2h0M67.0 65.3h0M87.0 49.6h0M47.3 87.4h0M72.3 45.1h0M60.5 87.5h0M60.3 68.8h0M63.7 55.5h0M56.8 72.2h0M61.9 59.2h0M64.3 50.7h0M57.5 71.4h0M60.2 83.4h0M59.7 67.6h0M70.5 46.2h0M63.6 82.6h0M67.4 48.0h0M43.0 67.1h0M92.0 52.3h0M53.9 47.5h0M65.6 73.8h0M56.9 72.9h0M62.5 67.6h0M59.3 40.1h0M62.0 68.7h0M63.9 44.6h0M73.8 66.9h0M61.6 85.5h0M55.6 59.3h0M58.8 45.5h0M57.4 47.8h0M88.2 47.8h0M86.6 51.4h0M65.4 73.9h0M44.2 50.3h0M55.9 74.7h0M53.4 51.0h0M60.2 75.4h0M58.3 41.8h0M48.7 75.3h0M57.7 49.6h0M62.1 55.8h0M51.7 77.2h0M59.5 83.7h0M53.8 75.9h0M55.5 74.5h0M59.6 79.9h0M84.8 59.6h0M65.5 45.5h0M61.4 81.8h0M48.2 89.5h0M56.5 74.0h0M90.4 41.3h0M64.7 44.8h0M85.6 45.0h0M56.0 80.6h0M62.0 69.4h0M53.1 70.9h0M62.8 65.0h0M67.4 75.4h0M43.6 56.2h0M71.5 84.0h0M87.9 46.0h0M87.3 47.1h0M59.9 77.1h0M86.6 44.5h0M56.5 77.3h0M60.8 55.6h0M44.1 72.3h0M45.7 89.5h0M59.8 82.3h0M86.8 51.0h0M55.3 81.2h0M52.8 66.1h0M63.9 59.3h0M59.6 77.4h0M86.3 45.8h0M64.1 80.7h0M56.2 76.7h0M43.1 63.3h0M68.0 44.5h0M90.1 47.8h0M57.2 43.3h0M59.3 73.8h0M54.3 39.7h0M63.7 72.2h0M83.1 45.1h0M58.0 55.6h0M66.5 82.4h0M50.0 46.2h0M66.2 71.4h0M83.8 51.9h0M57.8 49.0h0M62.0 75.7h0M60.6 63.6h0M90.5 45.2h0M58.0 85.8h0M63.4 77.7h0M86.6 48.8h0M53.8 70.4h0M56.1 44.3h0M58.0 44.6h0M44.1 53.4h0M61.6 44.8h0M63.7 44.4h0M112.8 63.2h0M61.3 66.0h0M54.8 65.3h0M65.6 67.3h0M86.9 45.5h0M86.2 53.9h0M56.5 72.5h0M59.6 62.2h0M61.6 81.4h0M85.6 45.8h0M57.0 45.4h0M46.9 69.3h0M79.1 61.1h0M89.5 48.7h0M56.9 63.2h0M49.9 68.7h0M59.3 69.0h0M59.5 44.8h0M58.7 70.6h0M88.9 48.0h0M63.2 84.8h0M63.9 67.2h0M76.4 63.9h0M59.5 86.0h0M72.1 45.5h0M52.0 70.3h0M66.3 41.4h0M53.6 64.5h0M114.0 41.1h0M49.7 67.2h0M67.3 72.6h0M60.7 83.0h0M72.0 39.8h0M64.0 41.4h0M88.5 50.8h0M61.4 60.2h0M61.6 79.7h0M64.0 77.4h0M50.7 73.1h0M68.6 42.6h0M80.7 62.4h0M59.1 82.3h0M64.3 59.1h0M60.8 81.2h0M46.2 48.5h0M44.7 41.4h0M61.0 77.9h0M89.1 43.0h0M85.6 46.4h0M88.3 47.9h0M57.8 61.0h0M45.3 74.0h0M59.0 68.1h0M89.8 52.5h0M64.8 45.7h0M52.7 68.2h0M62.3 78.2h0M87.3 52.2h0M90.5 51.4h0M61.1 78.2h0M59.3 83.4h0M62.3 75.0h0M61.1 79.6h0M44.7 78.7h0M59.0 57.9h0M85.7 43.2h0M60.8 85.0h0M63.1 45.2h0M64.6 82.0h0M59.6 78.1h0M60.5 42.2h0M62.9 88.9h0M66.3 82.1h0M80.8 49.1h0M58.3 40.0h0M50.2 74.6h0M46.0 73.4h0M89.4 51.4h0M58.8 80.1h0M60.5 73.0h0M52.8 70.0h0M58.7 78.4h0M63.9 75.1h0M58.9 54.7h0M83.8 44.7h0M59.4 82.9h0M60.7 57.4h0M59.6 44.6h0M44.9 68.8h0M54.6 76.1h0M58.2 63.3h0M63.7 75.4h0M44.1 73.5h0M53.2 68.0h0M57.6 62.8h0M86.7 53.4h0M55.3 39.6h0M61.5 71.8h0M54.8 71.8h0M57.8 40.9h0M56.1 69.6h0M63.5 52.0h0M90.7 43.7h0M61.1 82.0h0M87.0 44.0h0M58.8 71.8h0M65.3 61.9h0M56.5 71.6h0M46.8 87.4h0M67.8 47.5h0M87.8 47.3h0M65.8 46.3h0M58.5 76.6h0M68.9 42.9h0M54.2 88.1h0M63.5 83.2h0M60.7 63.5h0M49.8 75.1h0M61.9 70.7h0M60.4 43.9h0M57.4 47.9h0M59.6 84.7h0M62.7 49.0h0M72.3 41.8h0M64.0 72.1h0M60.2 76.5h0M90.6 51.0h0M61.0 44.0h0M83.9 47.9h0M62.4 82.6h0M61.7 71.8h0M88.9 46.6h0M55.8 43.0h0M51.1 41.5h0M86.3 43.8h0M59.6 81.6h0M107.0 35.8h0M43.5 71.4h0M55.6 76.2h0M56.0 46.6h0M53.8 69.8h0M67.1 71.0h0M65.1 45.3h0M65.9 67.4h0M87.7 48.3h0M61.9 48.2h0M59.1 49.4h0M56.6 64.1h0M46.3 41.4h0M63.1 43.9h0M45.0 68.0h0M89.3 50.0h0M57.4 75.4h0M90.1 47.1h0M64.9 48.6h0M87.9 46.6h0M47.2 74.0h0M58.4 78.6h0M61.0 52.0h0M43.4 73.2h0M61.5 86.1h0M63.7 45.3h0M59.5 71.8h0M62.9 39.8h0M53.6 44.4h0M60.9 43.0h0M54.6 71.1h0M86.8 48.1h0M43.6 54.9h0M58.7 81.9h0M60.1 48.6h0M60.7 84.3h0M64.1 45.2h0M85.8 49.6h0M56.7 71.6h0M62.7 36.2h0M64.4 75.3h0M42.9 45.1h0M86.3 47.4h0M56.2 72.4h0M57.1 87.6h0M60.2 79.8h0M44.0 67.3h0M68.7 44.8h0M62.4 76.8h0M63.6 52.7h0M59.9 42.9h0M59.7 48.6h0M56.9 42.7h0M85.9 53.6h0M63.4 65.6h0M58.8 83.3h0M55.2 77.2h0M59.3 61.2h0M62.5 71.4h0M65.2 65.9h0M45.7 63.1h0M59.0 76.2h0M61.4 85.0h0M47.3 74.1h0M61.4 71.8h0M72.2 67.4h0M64.2 69.9h0M59.3 46.8h0M56.1 40.1h0M57.6 53.2h0M65.9 73.0h0M82.7 50.6h0M60.9 38.3h0M64.2 88.4h0M48.8 73.4h0M58.8 89.3h0M60.2 77.4h0M55.6 88.0h0M89.5 46.9h0M61.9 61.7h0M51.0 82.2h0M61.6 59.2h0M59.6 81.6h0M62.3 61.5h0M93.0 50.9h0M62.5 51.9h0M91.1 45.8h0M60.0 45.1h0M63.0 55.1h0M72.8 68.1h0M61.3 82.7h0M53.6 40.8h0M61.3 77.4h0M68.1 66.5h0M52.8 78.2h0M58.8 69.2h0M56.3 69.1h0M66.9 40.2h0M68.1 66.3h0M54.9 68.1h0M43.8 72.8h0M54.6 67.3h0M52.4 72.2h0M61.1 84.9h0M63.2 46.8h0M70.3 70.3h0M63.9 45.3h0M61.5 79.9h0M83.1 48.6h0M64.8 41.6h0M57.7 49.3h0M44.2 78.3h0M58.5 69.5h0M46.9 55.5h0M63.5 88.3h0M62.2 81.2h0M86.6 42.7h0M72.5 69.0h0M63.8 48.3h0M59.4 87.4h0M64.3 44.6h0M79.9 63.3h0M61.6 58.2h0M59.5 60.3h0M89.1 49.9h0M58.2 71.3h0M112.8 86.4h0M54.3 73.3h0M55.8 71.3h0M60.5 44.1h0M60.0 72.1h0M54.0 68.0h0M69.3 66.5h0M63.7 57.4h0M64.7 68.3h0M59.8 71.9h0M62.7 56.8h0M55.3 70.9h0M65.2 51.9h0M56.3 51.8h0M87.2 46.6h0M56.2 59.7h0M60.1 81.9h0M62.2 65.8h0M60.7 71.4h0M55.2 80.3h0M60.1 49.5h0M60.1 88.2h0M88.8 48.7h0M44.2 79.4h0M64.3 47.1h0M48.9 73.1h0M68.2 49.0h0M52.2 44.9h0M62.5 43.3h0M68.1 81.5h0M58.7 85.2h0M68.3 70.7h0M67.5 43.9h0M64.1 65.8h0M88.6 46.5h0M54.8 48.4h0M63.5 43.1h0" stroke="#2440ff" stroke-width="0.7" stroke-linecap="round" opacity="0.85"/>
<ellipse cx="87.8" cy="48.3" rx="5.6" ry="6.6" fill="url(#gcore)" filter="url(#b05)"/>
<ellipse cx="60.5" cy="72" rx="6.5" ry="9" fill="url(#ggreen)" filter="url(#b05)"/>
</g>
<rect x="42.5" y="10.8" width="79.5" height="79.5" fill="none" stroke="#222" stroke-width="1.2"/>
<line x1="43.1" y1="90.3" x2="101.9" y2="90.3" stroke="url(#axg)" stroke-width="1.2"/>
<rect x="76.5" y="33.9" width="22.5" height="25.6" fill="none" stroke="#111" stroke-width="1.2"/>
<text x="102.6" y="50.2" font-size="9.3" text-anchor="start" fill="#222">24%</text>
<rect x="108" y="75.1" width="9.8" height="10.7" fill="#ffa0a0" stroke="#111" stroke-width="1.2"/>
<line x1="39.5" y1="12.7" x2="41.9" y2="12.7" stroke="#222" stroke-width="0.9"/>
<line x1="39.5" y1="38.5" x2="41.9" y2="38.5" stroke="#222" stroke-width="0.9"/>
<line x1="39.5" y1="64.2" x2="41.9" y2="64.2" stroke="#222" stroke-width="0.9"/>
<line x1="39.5" y1="87.6" x2="41.9" y2="87.6" stroke="#222" stroke-width="0.9"/>
<line x1="40.6" y1="16.45" x2="41.9" y2="16.45" stroke="#555" stroke-width="0.6"/>
<line x1="40.6" y1="19.19" x2="41.9" y2="19.19" stroke="#555" stroke-width="0.6"/>
<line x1="40.6" y1="21.44" x2="41.9" y2="21.44" stroke="#555" stroke-width="0.6"/>
<line x1="40.6" y1="23.31" x2="41.9" y2="23.31" stroke="#555" stroke-width="0.6"/>
<line x1="40.6" y1="28.93" x2="41.9" y2="28.93" stroke="#555" stroke-width="0.6"/>
<line x1="40.6" y1="31.67" x2="41.9" y2="31.67" stroke="#555" stroke-width="0.6"/>
<line x1="40.6" y1="33.92" x2="41.9" y2="33.92" stroke="#555" stroke-width="0.6"/>
<line x1="40.6" y1="35.79" x2="41.9" y2="35.79" stroke="#555" stroke-width="0.6"/>
<line x1="40.6" y1="41.41" x2="41.9" y2="41.41" stroke="#555" stroke-width="0.6"/>
<line x1="40.6" y1="44.16" x2="41.9" y2="44.16" stroke="#555" stroke-width="0.6"/>
<line x1="40.6" y1="46.4" x2="41.9" y2="46.4" stroke="#555" stroke-width="0.6"/>
<line x1="40.6" y1="48.28" x2="41.9" y2="48.28" stroke="#555" stroke-width="0.6"/>
<line x1="40.6" y1="53.89" x2="41.9" y2="53.89" stroke="#555" stroke-width="0.6"/>
<line x1="40.6" y1="56.64" x2="41.9" y2="56.64" stroke="#555" stroke-width="0.6"/>
<line x1="40.6" y1="58.89" x2="41.9" y2="58.89" stroke="#555" stroke-width="0.6"/>
<line x1="40.6" y1="60.76" x2="41.9" y2="60.76" stroke="#555" stroke-width="0.6"/>
<line x1="40.6" y1="66.38" x2="41.9" y2="66.38" stroke="#555" stroke-width="0.6"/>
<line x1="40.6" y1="69.12" x2="41.9" y2="69.12" stroke="#555" stroke-width="0.6"/>
<line x1="40.6" y1="71.37" x2="41.9" y2="71.37" stroke="#555" stroke-width="0.6"/>
<line x1="40.6" y1="73.24" x2="41.9" y2="73.24" stroke="#555" stroke-width="0.6"/>
<line x1="40.6" y1="78.86" x2="41.9" y2="78.86" stroke="#555" stroke-width="0.6"/>
<line x1="40.6" y1="81.61" x2="41.9" y2="81.61" stroke="#555" stroke-width="0.6"/>
<line x1="40.6" y1="83.85" x2="41.9" y2="83.85" stroke="#555" stroke-width="0.6"/>
<line x1="40.6" y1="85.73" x2="41.9" y2="85.73" stroke="#555" stroke-width="0.6"/>
<text x="35.2" y="15.6" font-size="8" text-anchor="end" fill="#1a1a1a">10</text>
<text x="35.3" y="13.6" font-size="4.6" fill="#1a1a1a">7</text>
<text x="35.2" y="40.57" font-size="8" text-anchor="end" fill="#1a1a1a">10</text>
<text x="35.3" y="38.57" font-size="4.6" fill="#1a1a1a">5</text>
<text x="35.2" y="65.53" font-size="8" text-anchor="end" fill="#1a1a1a">10</text>
<text x="35.3" y="63.53" font-size="4.6" fill="#1a1a1a">3</text>
<text x="35.2" y="89.4" font-size="8" text-anchor="end" fill="#1a1a1a">10</text>
<text x="35.3" y="87.4" font-size="4.6" fill="#1a1a1a">1</text>
<clipPath id="clip2"><rect x="41.9" y="90.9" width="80.69999999999999" height="81.69999999999999"/></clipPath>
<g clip-path="url(#clip2)">
<path d="M86.0 132.9h0M45.6 124.7h0M63.3 129.0h0M56.3 127.4h0M59.1 123.5h0M44.9 128.2h0M59.0 131.5h0M52.2 153.3h0M45.4 138.2h0M65.6 125.2h0M85.0 133.7h0M56.0 158.2h0M57.7 129.7h0M86.5 129.2h0M45.1 123.5h0M82.6 128.5h0M46.1 167.6h0M85.3 122.3h0M48.7 157.3h0M58.1 125.1h0M60.2 130.4h0M57.6 132.9h0M47.0 133.9h0M83.4 130.6h0M84.0 129.8h0M50.4 135.2h0M64.0 153.9h0M52.9 160.6h0M69.6 150.0h0M63.7 129.2h0M57.8 154.8h0M63.0 144.6h0M60.9 130.6h0M68.3 126.1h0M58.0 162.4h0M56.3 153.6h0M62.6 128.5h0M84.5 128.3h0M54.5 124.2h0M57.9 163.8h0M58.3 155.2h0M77.8 141.7h0M52.1 127.5h0M54.5 137.3h0M44.3 158.3h0M80.2 128.3h0M64.3 125.9h0M54.3 125.5h0M86.2 123.6h0M57.4 151.7h0M51.2 122.5h0M63.2 155.0h0M57.7 144.7h0M88.1 128.4h0M64.1 123.0h0M44.0 135.7h0M55.5 149.7h0M63.7 126.4h0M76.0 159.0h0M52.8 152.6h0M87.5 122.4h0M64.3 147.8h0M73.1 142.8h0M53.9 142.3h0M73.2 142.3h0M64.3 150.2h0M87.2 133.7h0M66.1 156.3h0M88.5 129.5h0M87.7 129.5h0M58.3 131.1h0M65.9 153.7h0M83.9 127.2h0M56.9 150.3h0M86.4 128.2h0M55.0 127.8h0M49.8 148.8h0M52.3 157.4h0M84.6 122.8h0M83.4 129.7h0M55.0 125.0h0M60.0 127.5h0M51.5 126.0h0M59.2 129.6h0M87.1 131.9h0M50.5 126.4h0M85.2 129.8h0M44.0 128.1h0M44.0 120.1h0M65.0 155.7h0M55.6 153.5h0M45.2 157.0h0M63.0 127.9h0M90.3 125.9h0M85.2 126.7h0M80.4 138.0h0M86.0 120.3h0M57.6 119.3h0M57.3 127.1h0M85.1 127.4h0M86.8 132.6h0M46.5 142.7h0M85.6 123.9h0M61.9 123.0h0M86.6 164.1h0M86.8 128.6h0M53.0 153.4h0M85.2 131.2h0M56.2 130.2h0M59.2 153.2h0M67.9 123.7h0M84.6 128.4h0M71.5 145.3h0M57.9 125.3h0M54.5 132.8h0M83.4 128.5h0M85.4 128.3h0M59.4 126.3h0M61.1 126.3h0M59.5 123.8h0M60.1 123.6h0M85.1 126.1h0M50.2 129.5h0M106.4 156.8h0M84.4 131.5h0M62.2 149.8h0M55.4 127.7h0M80.7 126.2h0M55.4 128.5h0M87.2 128.1h0M81.1 129.8h0M87.6 131.0h0M85.1 130.0h0M50.4 144.7h0M64.0 120.1h0M87.4 126.5h0M58.8 122.6h0M60.9 165.9h0M49.2 155.8h0M69.8 142.6h0M59.5 126.1h0M83.8 129.8h0M53.3 137.1h0M60.2 157.4h0M86.0 125.8h0M85.0 125.7h0M51.9 121.4h0M50.5 153.4h0M53.5 127.2h0M57.9 153.4h0M88.2 131.6h0M67.2 124.4h0M70.7 126.1h0M63.1 126.8h0M86.0 131.4h0M57.6 140.8h0M58.4 143.3h0M51.6 160.6h0M85.5 126.9h0M89.7 129.9h0M60.8 123.2h0M59.4 143.0h0M86.3 126.0h0M43.7 162.2h0M52.5 124.3h0M53.0 127.7h0M90.1 125.5h0M83.8 129.8h0M49.7 152.5h0M85.0 131.4h0M54.8 155.2h0M44.6 154.4h0M56.0 128.2h0M69.9 124.9h0M66.2 124.8h0M72.2 143.1h0M54.4 153.1h0M61.2 129.2h0M55.2 125.9h0M63.5 128.1h0M82.6 133.9h0M63.0 158.3h0M82.9 152.8h0M55.9 148.1h0M57.2 129.0h0M60.0 127.9h0M65.8 126.5h0M86.5 135.7h0M83.4 130.4h0M46.5 141.9h0M56.2 155.4h0M58.4 126.7h0M84.9 129.2h0M85.2 125.5h0M84.0 129.6h0M83.5 141.4h0M87.6 130.4h0M87.4 133.0h0M58.4 153.7h0M88.4 131.6h0M86.4 127.5h0M50.8 126.8h0M65.6 157.0h0M54.1 153.3h0M88.3 136.7h0M64.4 125.5h0M91.4 127.6h0M44.5 131.9h0M85.4 124.9h0M60.8 125.6h0M56.6 150.0h0M65.5 144.9h0M58.4 126.3h0M53.5 152.5h0M51.7 121.3h0M59.3 127.5h0M84.1 127.3h0M63.4 125.0h0M68.4 126.9h0M50.7 154.0h0M51.4 123.6h0M46.9 165.6h0M45.3 138.1h0M45.7 153.2h0M63.8 125.7h0M45.1 156.2h0M88.2 131.8h0M61.3 164.2h0M51.7 152.7h0M48.6 154.9h0M82.0 133.8h0M87.6 132.9h0M79.8 142.3h0M43.1 123.0h0M53.8 147.6h0M52.3 157.4h0M57.6 156.4h0M86.8 128.4h0M63.5 163.6h0M46.4 123.6h0M89.3 128.6h0M55.7 151.5h0M47.7 140.7h0M62.4 150.6h0M65.8 125.4h0M63.3 152.1h0M69.7 126.4h0M43.3 125.1h0M51.4 123.0h0M46.8 125.8h0M56.8 123.3h0M65.0 124.3h0M60.0 129.0h0M46.1 147.4h0M49.5 128.3h0M67.0 139.2h0M82.0 132.7h0M60.5 123.1h0M88.0 132.6h0M45.0 135.1h0M83.0 130.7h0M87.6 131.6h0M63.0 130.7h0M89.3 125.7h0M50.8 126.9h0M58.4 128.4h0M86.6 130.4h0M86.6 126.3h0M59.9 157.6h0M66.4 152.7h0M72.2 139.5h0M50.5 166.3h0M63.2 167.3h0M86.8 124.9h0M63.9 128.5h0M45.9 150.4h0M64.9 128.7h0M60.4 123.5h0M50.6 150.2h0M53.5 127.5h0M51.9 135.4h0M58.0 150.5h0M63.7 124.4h0M82.8 128.8h0M83.9 130.1h0M63.2 149.1h0M115.9 150.7h0M63.1 154.8h0M84.4 119.0h0M89.5 131.7h0M83.2 127.8h0M87.3 128.0h0M51.8 128.9h0M58.6 125.9h0M56.2 126.3h0M52.2 123.6h0M119.7 135.0h0M52.6 156.7h0M83.4 131.6h0M82.9 125.5h0M87.6 133.4h0M115.1 152.5h0M50.2 158.9h0M46.7 159.6h0M54.6 122.1h0M57.8 159.6h0M59.2 124.1h0M57.0 124.3h0M57.8 123.9h0M60.7 118.5h0M64.1 129.5h0M54.9 158.7h0M88.7 131.8h0M50.0 138.2h0M85.1 127.8h0M50.0 144.4h0M89.0 130.4h0M54.8 154.6h0M81.1 131.5h0M63.6 149.7h0M59.9 123.7h0M53.3 127.7h0M66.3 151.3h0M53.6 123.9h0M87.3 130.6h0M57.2 159.3h0M58.0 155.1h0M54.3 160.5h0M51.3 151.1h0M64.5 157.0h0M101.2 156.0h0M47.5 153.1h0M89.0 128.5h0M59.1 123.7h0M60.2 129.9h0M84.1 126.8h0M83.3 129.6h0M85.3 126.8h0M54.1 158.3h0M84.0 130.2h0M45.5 143.9h0M58.8 125.6h0M55.0 124.9h0M82.6 127.0h0M64.2 152.7h0M54.0 120.5h0M59.1 154.8h0M51.7 128.3h0M57.6 124.9h0M52.8 154.4h0M66.8 128.6h0M83.4 131.2h0M60.5 123.1h0M52.3 146.1h0M46.5 170.1h0M61.8 127.7h0M46.8 152.5h0M54.7 120.1h0M64.6 152.0h0M55.0 155.3h0M81.3 128.0h0M63.1 161.6h0M89.9 134.6h0M59.6 128.3h0M68.8 123.2h0M49.9 148.9h0M52.2 150.9h0M58.0 127.2h0M87.4 129.9h0M63.7 159.5h0M119.3 149.8h0M48.6 123.5h0M87.5 136.0h0M61.0 127.4h0M47.6 146.4h0M86.7 127.9h0M72.7 143.3h0M87.7 132.1h0M84.5 133.5h0M55.1 126.8h0M62.7 126.4h0M85.2 129.5h0M57.3 146.2h0M58.1 149.9h0M51.9 149.2h0M44.7 166.2h0M43.3 141.7h0M85.4 130.4h0M54.4 128.2h0M56.4 127.8h0M83.1 126.5h0M86.0 127.5h0M105.6 129.3h0M56.8 145.7h0M55.8 165.2h0M84.0 126.2h0M71.8 141.4h0M57.5 132.0h0M57.9 143.1h0M51.5 127.7h0M50.8 133.2h0M89.0 131.7h0M61.0 127.5h0M62.8 130.0h0M57.5 125.7h0M64.8 122.3h0M60.4 158.0h0M86.2 127.4h0M87.1 125.0h0M87.9 137.3h0M58.6 128.3h0M43.7 134.6h0M52.3 149.2h0M55.9 131.1h0M50.2 154.6h0M56.0 158.1h0M59.0 126.2h0M58.5 130.0h0M83.9 129.4h0M50.6 143.1h0M86.9 127.3h0M49.5 123.0h0M90.1 127.6h0M48.7 128.4h0M43.4 140.6h0M55.4 152.6h0M87.4 131.8h0M85.8 132.1h0M58.9 143.7h0M66.6 152.0h0M60.5 159.2h0M58.9 158.3h0M89.3 133.0h0M51.5 161.1h0M70.7 155.6h0M44.4 134.6h0M87.4 133.7h0M52.7 124.6h0M84.0 124.9h0M61.8 159.9h0M81.1 125.5h0M61.7 163.8h0M85.3 127.4h0M67.2 153.4h0M70.5 148.8h0M69.9 127.1h0M78.8 127.0h0M43.6 128.2h0M49.4 118.9h0M83.0 134.7h0M51.6 137.6h0M85.3 125.6h0M52.1 130.6h0M53.4 139.2h0M60.0 123.3h0M44.2 135.1h0M46.3 140.2h0M85.6 128.5h0M50.8 125.0h0M59.7 124.5h0M85.9 134.8h0M85.9 129.9h0M58.9 155.4h0M88.0 129.9h0M60.6 127.8h0M46.1 160.6h0M43.0 150.2h0M89.5 132.7h0M74.9 135.3h0M82.6 125.2h0M83.1 126.7h0M54.5 120.3h0M82.3 131.6h0M90.4 127.9h0M60.8 162.8h0M67.4 125.9h0M58.4 125.8h0M45.7 131.0h0M83.7 127.1h0M51.6 135.0h0" stroke="#7f90ff" stroke-width="0.65" stroke-linecap="round" opacity="0.8"/>
<path d="M59.7 126.0h0M51.6 126.2h0M52.6 146.5h0M48.5 138.6h0M57.4 158.3h0M85.3 131.4h0M70.4 170.3h0M62.2 123.9h0M58.1 145.5h0M46.1 122.6h0M80.1 129.7h0M54.1 150.9h0M53.0 155.5h0M57.9 126.2h0M55.7 126.3h0M46.1 136.5h0M83.7 131.4h0M85.2 129.2h0M88.5 126.8h0M89.6 129.8h0M44.1 139.6h0M44.1 150.0h0M57.0 121.5h0M87.0 135.0h0M55.8 120.7h0M84.7 126.5h0M50.7 152.0h0M70.2 139.0h0M83.2 134.3h0M60.2 163.5h0M64.7 151.8h0M87.9 123.8h0M60.4 123.9h0M58.1 128.3h0M61.1 126.4h0M62.3 120.2h0M55.8 142.0h0M64.3 154.6h0M91.2 133.2h0M86.8 132.6h0M55.1 124.9h0M51.6 145.4h0M83.1 131.0h0M62.0 154.2h0M63.9 121.8h0M56.3 161.6h0M90.2 129.0h0M56.3 157.7h0M86.3 134.1h0M57.5 127.1h0M51.3 125.9h0M53.0 130.9h0M54.9 151.2h0M56.8 141.8h0M46.5 139.1h0M82.5 128.1h0M55.3 150.6h0M87.2 129.6h0M83.4 130.5h0M52.2 125.5h0M52.2 147.5h0M87.0 131.4h0M88.0 131.3h0M81.5 125.5h0M85.9 124.1h0M58.8 117.9h0M64.5 149.3h0M70.4 161.3h0M84.4 126.6h0M86.3 130.5h0M58.4 124.2h0M77.7 139.2h0M61.9 125.8h0M46.4 155.0h0M59.9 129.8h0M85.2 128.7h0M88.4 127.5h0M82.2 123.1h0M58.1 129.8h0M80.1 165.0h0M62.9 121.9h0M65.3 158.0h0M56.1 153.8h0M48.4 151.9h0M61.1 150.8h0M54.7 144.3h0M84.0 128.6h0M50.5 160.1h0M63.2 151.8h0M86.5 119.8h0M81.1 163.3h0M66.1 124.9h0M87.4 134.6h0M46.1 124.4h0M46.0 133.1h0M61.4 162.4h0M53.1 126.8h0M84.7 124.2h0M92.2 135.8h0M58.1 152.9h0M61.0 123.7h0M50.8 143.4h0M88.6 129.5h0M87.8 128.0h0M52.8 123.4h0M57.9 150.9h0M45.1 149.8h0M53.6 151.3h0M60.2 159.2h0M113.3 139.6h0M87.0 133.1h0M51.5 153.7h0M50.9 125.1h0M49.5 127.3h0M88.8 127.9h0M43.1 143.2h0M58.5 157.5h0M59.2 150.3h0M64.3 149.2h0M86.0 131.3h0M109.0 141.6h0M53.0 149.7h0M84.5 129.4h0M54.7 147.9h0M83.7 126.2h0M52.7 155.4h0M85.3 128.0h0M57.9 147.2h0M88.0 127.1h0M59.4 146.1h0M54.8 156.2h0M84.8 131.4h0M56.1 129.7h0M84.1 131.3h0M51.6 157.9h0M58.1 156.1h0M51.7 123.1h0M86.5 130.8h0M52.1 123.7h0M68.8 154.5h0M94.6 121.0h0M50.6 153.8h0M53.3 145.5h0M63.5 124.4h0M59.6 127.0h0M52.9 150.0h0M47.4 152.3h0M87.1 128.2h0M90.6 128.8h0M52.3 129.0h0M53.9 126.3h0M48.7 121.1h0M86.5 125.1h0M61.4 131.5h0M86.4 128.7h0M54.1 126.0h0M71.7 145.2h0M51.5 122.6h0M59.1 126.2h0M61.4 122.8h0M58.9 125.1h0M84.3 129.7h0M55.9 126.4h0M65.1 150.6h0M81.0 128.3h0M57.9 153.0h0M52.7 160.0h0M83.5 130.6h0M55.5 138.2h0M57.2 127.0h0M60.8 129.6h0M56.1 156.8h0M56.9 152.7h0M87.4 131.3h0M88.2 126.2h0M53.1 133.5h0M57.2 126.5h0M84.4 129.0h0M46.6 145.5h0M87.7 130.5h0M58.4 121.6h0M57.9 155.6h0M58.5 119.8h0M56.2 125.7h0M61.1 128.1h0M63.8 153.3h0M82.4 131.3h0M53.5 151.4h0M86.7 133.3h0M56.9 154.5h0M44.3 155.2h0M52.2 122.7h0M64.1 149.7h0M77.1 129.4h0M45.3 127.8h0M60.6 124.0h0M56.7 155.3h0M106.8 150.0h0M54.7 157.5h0M50.5 126.7h0M48.2 123.5h0M64.5 154.5h0M46.8 143.2h0M54.2 124.8h0M55.0 147.5h0M60.1 126.0h0M49.0 126.7h0M58.4 154.6h0M83.2 130.5h0M67.7 125.6h0M59.5 130.1h0M82.2 132.6h0M87.3 128.2h0M81.8 122.9h0M85.8 129.9h0M96.7 128.2h0M45.2 169.1h0M58.1 148.6h0M50.2 131.6h0M52.7 158.8h0M50.0 122.0h0M58.8 158.3h0M57.4 145.2h0M86.3 127.9h0M44.1 143.0h0M59.4 132.3h0M50.3 139.1h0M50.6 153.4h0M46.5 158.3h0M47.3 147.2h0M64.0 119.6h0M70.2 121.2h0M84.0 130.4h0M43.5 123.2h0M67.0 147.5h0M69.7 123.6h0M63.6 128.8h0M60.4 156.4h0M66.7 125.5h0M57.5 161.4h0M88.1 128.6h0M62.0 126.7h0M57.5 130.5h0M59.5 125.5h0M85.8 131.6h0M58.2 150.8h0M88.7 127.1h0M57.4 152.6h0M43.7 134.1h0M87.8 127.2h0M83.6 121.9h0M65.0 152.3h0M48.9 138.5h0M63.9 125.4h0M84.8 126.8h0M86.5 131.8h0M44.3 145.5h0M49.6 160.7h0M43.5 124.6h0M60.1 124.4h0M86.6 134.4h0M50.5 148.7h0M63.3 123.0h0M52.7 123.4h0M58.6 155.0h0M56.9 157.3h0M59.9 150.9h0M49.3 160.5h0M57.1 130.6h0M51.4 120.7h0M85.8 133.5h0M49.8 162.0h0M63.5 126.8h0M68.9 142.7h0M86.2 129.7h0M54.6 132.5h0M57.3 160.8h0M57.2 156.6h0M67.8 121.3h0M52.9 122.3h0M61.2 125.6h0M60.3 124.3h0M83.6 131.4h0M49.8 154.0h0M46.4 124.4h0M91.6 127.1h0M91.7 123.4h0M83.1 124.7h0M85.2 126.8h0M43.7 137.9h0M85.9 128.8h0M47.8 139.0h0M55.1 127.2h0M61.8 126.2h0M86.0 127.1h0M52.7 156.8h0M53.4 145.3h0M62.9 124.7h0M84.5 133.5h0M53.9 147.4h0M45.5 144.4h0M90.1 132.2h0M54.3 154.9h0M82.2 130.3h0M57.3 154.4h0M47.5 143.0h0M45.4 151.5h0M51.1 148.7h0M48.9 134.0h0M53.2 130.8h0M79.6 115.9h0M83.0 128.6h0M49.3 152.4h0M50.0 145.8h0M64.4 122.2h0M89.9 130.8h0M48.2 154.9h0M68.9 122.4h0M85.3 128.3h0M68.4 140.8h0M83.9 128.0h0M46.9 125.7h0M51.0 134.4h0M47.5 119.2h0M58.6 151.1h0M62.6 125.4h0M90.8 129.7h0M84.6 124.7h0M83.7 123.3h0M75.1 145.0h0M46.3 139.2h0M62.1 130.0h0M45.3 164.4h0M54.8 146.5h0M87.7 133.9h0M86.3 124.3h0M59.2 124.3h0M83.7 129.8h0M85.1 128.7h0M52.3 142.1h0M56.2 124.3h0M83.5 124.7h0M43.4 131.6h0M50.4 124.0h0M67.9 123.4h0M52.1 124.7h0M56.3 150.5h0M85.9 126.0h0M86.3 127.0h0M88.2 136.6h0M59.7 149.4h0M61.4 163.0h0M51.2 145.6h0M89.5 131.8h0M58.3 149.1h0M54.1 140.7h0M49.8 151.8h0M56.7 131.0h0M59.8 165.4h0M61.1 125.6h0M59.5 153.2h0M84.7 129.1h0M89.2 131.0h0M50.7 125.2h0M84.9 133.5h0M104.2 165.5h0M59.3 149.9h0M84.6 127.6h0M46.1 125.8h0M89.0 129.5h0M56.5 150.2h0M67.1 151.8h0M65.2 152.2h0M84.1 128.2h0M68.5 125.0h0M45.7 128.7h0M56.3 146.3h0M54.2 126.5h0M56.3 126.1h0M55.7 120.1h0M88.3 125.4h0M48.1 132.9h0M86.3 131.2h0M52.3 161.4h0M46.6 140.5h0M62.6 163.1h0M52.2 124.4h0M60.6 127.6h0M85.2 131.4h0M42.9 127.3h0M56.1 148.4h0M85.9 134.2h0M54.6 141.1h0M52.9 147.4h0M48.0 147.4h0M55.1 159.4h0M86.9 134.0h0M87.5 131.1h0M51.6 158.5h0M74.1 168.8h0M64.0 127.4h0M62.2 127.5h0M85.0 125.7h0M57.0 122.5h0M67.7 151.9h0M88.0 127.0h0M67.5 155.5h0M49.4 128.8h0M84.4 121.9h0M60.9 124.0h0M84.7 127.1h0M43.9 151.1h0M56.2 152.6h0M51.8 147.9h0M61.4 151.0h0M47.7 135.1h0M45.8 132.5h0M52.9 123.4h0M86.4 129.1h0M67.2 123.2h0M68.8 118.4h0M49.6 125.5h0M63.0 149.6h0M62.9 149.1h0M84.4 133.6h0M45.8 137.1h0M83.6 130.0h0M85.7 124.5h0M62.2 123.5h0M83.5 130.0h0M83.6 127.6h0M86.2 131.4h0M47.6 123.6h0M50.2 162.0h0M85.3 125.5h0M59.0 145.7h0M86.0 129.3h0M86.1 132.6h0M59.7 150.9h0M79.2 140.9h0M59.2 154.1h0M88.3 129.1h0M86.2 132.0h0M89.5 129.4h0M86.7 128.0h0M48.9 146.4h0M74.0 143.7h0M81.5 136.4h0M50.7 160.6h0M66.1 129.1h0M64.9 126.4h0M61.3 124.7h0M62.2 158.9h0M70.2 145.1h0M63.6 120.2h0M85.3 125.7h0M86.3 130.0h0M62.1 159.4h0M82.7 134.5h0M52.3 157.9h0M61.5 119.8h0M86.4 129.4h0M88.2 126.9h0M81.8 135.1h0M64.0 126.7h0M84.8 130.0h0M85.1 128.3h0M82.8 129.1h0M87.1 130.4h0M45.3 156.0h0M51.2 156.6h0M64.4 131.1h0M88.3 129.3h0M86.4 126.8h0M91.1 128.3h0M85.4 128.7h0M51.1 129.2h0M50.7 155.9h0M45.1 128.2h0M52.9 126.8h0M51.9 159.6h0M64.8 126.7h0M58.1 161.2h0M61.0 128.0h0M54.8 161.0h0M60.0 155.9h0M60.0 124.9h0M54.6 124.2h0M55.1 131.3h0M55.1 127.1h0M52.6 128.8h0M54.7 145.1h0M47.9 151.5h0M58.0 149.3h0M88.9 128.5h0M82.8 133.1h0M60.1 123.8h0M67.9 127.8h0M84.3 131.1h0M49.1 127.1h0M67.1 124.0h0M56.8 155.9h0M51.9 160.7h0M64.4 129.7h0M52.4 160.5h0M59.3 162.2h0M65.5 124.9h0M60.3 127.7h0M53.7 143.1h0M54.0 128.0h0M90.2 127.5h0M64.8 128.9h0M90.2 124.8h0M83.4 122.8h0M75.5 142.6h0M76.7 128.5h0M86.7 130.3h0M82.8 124.8h0M59.1 120.0h0M87.2 128.8h0M46.5 147.5h0M63.5 127.9h0M48.7 136.1h0M57.1 157.7h0M87.0 125.4h0M54.7 123.8h0M53.5 165.0h0M69.0 147.5h0M53.9 147.0h0M53.8 159.1h0M82.4 129.9h0M54.4 134.5h0M85.1 126.1h0M56.3 153.2h0M48.4 129.9h0M53.8 124.3h0M84.8 126.8h0M66.4 125.2h0M55.9 142.3h0M82.7 125.7h0M62.9 153.5h0M84.2 131.3h0M54.7 150.7h0M65.6 127.6h0M57.0 124.9h0M57.1 122.3h0M88.6 126.0h0M87.1 136.0h0M93.2 125.0h0M54.3 131.0h0M59.3 130.2h0M110.6 162.0h0M83.3 130.1h0M54.0 125.3h0M59.5 123.0h0M89.4 128.4h0M66.7 124.7h0M58.0 154.6h0M55.5 160.0h0M44.0 130.3h0M86.2 124.0h0M84.9 125.5h0M87.1 135.6h0M87.5 130.8h0M54.4 123.9h0M71.0 147.4h0M58.8 148.4h0M51.3 158.3h0M60.5 160.9h0M57.2 149.4h0M91.8 130.0h0M43.7 127.1h0M59.5 152.0h0M51.4 148.8h0M80.1 132.2h0M89.8 123.7h0M88.0 132.6h0M55.9 125.8h0M60.9 146.2h0M52.8 134.7h0M61.2 126.3h0M88.9 130.0h0M82.4 128.2h0M56.9 153.0h0M55.2 123.5h0M51.9 134.6h0M88.1 129.8h0M86.3 133.6h0M54.7 122.1h0M87.0 126.4h0M53.4 120.5h0M88.0 128.5h0M56.5 128.2h0M49.1 128.7h0M57.4 144.1h0M79.9 130.5h0M89.6 127.9h0M83.8 124.2h0M85.4 126.3h0M59.9 129.4h0M83.1 126.1h0M78.6 128.7h0M89.2 132.7h0M57.5 127.0h0M59.2 127.0h0M87.6 127.7h0M66.4 125.3h0M63.0 152.8h0M83.9 130.1h0M50.4 166.2h0M43.2 129.2h0M56.4 147.5h0M46.4 126.4h0M87.5 124.5h0M109.1 146.2h0M58.3 124.7h0M61.4 126.7h0M62.7 129.0h0M51.9 128.4h0M86.8 129.8h0M70.7 152.9h0M46.3 151.9h0M67.4 131.9h0M56.7 157.2h0M58.3 126.2h0M53.3 146.6h0M62.0 157.5h0M57.7 149.9h0M48.0 150.7h0M54.0 154.5h0M82.8 130.1h0M66.1 158.1h0M86.9 124.8h0M43.4 151.4h0M61.2 130.4h0M58.8 128.2h0M46.5 141.6h0M86.0 128.7h0M53.6 130.5h0M52.9 129.1h0M82.5 130.8h0M82.3 127.2h0M62.2 152.5h0M56.1 165.2h0M84.6 126.8h0M43.2 133.8h0M83.8 129.2h0M47.6 125.2h0M43.5 132.5h0M85.3 131.4h0M62.0 124.5h0M57.5 155.8h0M65.5 131.6h0M43.5 169.9h0M45.0 129.6h0M61.5 157.7h0M71.4 154.0h0M85.2 130.7h0M52.4 151.1h0M63.6 121.7h0M61.8 125.5h0M50.0 138.3h0M53.8 143.2h0M83.9 125.7h0M85.0 128.5h0M86.8 126.8h0M53.6 127.7h0M61.1 126.1h0M60.7 151.9h0M62.0 125.8h0M48.9 157.3h0M59.2 123.9h0M68.4 160.0h0M83.1 128.8h0M62.2 163.9h0M73.0 146.4h0M64.3 125.7h0M80.6 130.2h0M57.9 164.3h0M82.8 128.9h0M48.2 152.5h0M85.8 128.1h0M55.2 148.3h0M50.9 155.0h0M88.5 129.9h0M84.6 130.4h0M58.7 122.9h0M86.9 130.9h0M83.1 130.7h0M62.6 124.3h0M52.3 151.0h0M50.4 158.8h0M85.4 126.8h0M89.3 128.6h0M82.8 142.0h0M45.0 152.5h0M61.4 155.0h0M79.9 145.9h0M115.9 147.1h0M55.1 141.5h0M66.7 156.8h0M52.9 140.1h0M66.5 125.0h0M51.4 156.0h0M87.1 132.7h0M50.1 123.8h0M57.0 131.3h0M65.1 124.4h0M49.3 120.3h0M55.6 129.3h0M60.5 157.3h0M65.6 124.0h0M55.5 129.0h0M53.2 152.6h0M84.2 127.5h0M84.7 137.1h0M84.4 131.6h0M56.0 124.8h0M68.3 142.8h0M66.8 149.0h0M44.9 120.1h0M62.7 128.9h0M83.0 128.7h0M53.0 125.5h0M43.2 168.2h0M55.9 124.0h0M87.6 137.2h0M53.1 130.3h0M49.0 151.4h0M56.1 134.5h0M58.4 149.5h0M87.7 128.6h0M87.2 129.1h0M86.0 131.4h0M83.6 133.9h0M54.4 132.7h0M67.7 147.5h0M56.5 127.6h0M89.7 128.0h0M85.7 125.0h0M64.4 156.3h0M51.6 142.5h0M46.8 168.9h0M57.6 140.1h0M63.4 129.5h0M57.7 150.9h0M50.5 152.2h0M53.7 126.5h0M52.7 161.9h0M83.1 124.4h0M50.1 154.6h0M48.8 154.0h0M81.0 128.0h0M87.8 132.7h0M43.6 122.3h0M89.0 129.7h0M60.3 123.6h0M58.1 157.6h0M61.0 119.8h0M67.6 155.1h0M46.3 165.6h0M53.9 125.4h0M47.9 155.3h0M64.6 123.9h0M57.3 121.6h0M59.6 124.9h0M58.1 128.3h0M86.7 128.5h0M58.9 123.9h0M90.9 133.4h0M85.0 129.0h0M85.2 131.2h0M84.5 129.9h0M60.7 157.0h0M56.7 151.4h0M48.3 154.7h0M56.8 124.1h0M64.2 154.4h0M58.2 148.0h0M58.3 149.9h0M82.8 131.9h0M60.9 150.2h0M45.0 155.2h0M54.4 153.7h0M46.8 143.7h0M44.5 169.7h0M83.5 124.5h0M62.5 155.0h0M52.0 162.3h0M59.9 120.6h0M50.1 124.1h0M46.7 133.9h0M54.9 126.4h0M67.0 148.3h0M83.3 132.3h0M86.4 128.0h0M59.5 136.0h0M80.0 128.6h0M63.8 121.9h0M87.1 130.6h0M60.0 125.5h0M57.1 125.2h0M73.0 151.3h0M43.1 136.6h0M84.5 128.6h0M52.5 124.0h0M54.9 158.6h0M54.4 153.3h0M52.4 124.5h0M72.0 152.1h0M51.5 154.2h0M86.4 125.8h0M81.1 129.2h0M88.3 128.6h0M84.3 135.0h0M51.2 133.9h0M88.8 127.2h0M89.2 123.8h0M57.2 156.5h0M48.5 124.9h0M92.3 118.6h0M86.9 127.5h0M89.8 130.0h0M83.9 134.8h0M87.8 125.2h0M102.8 164.1h0M85.8 132.5h0M49.8 155.0h0M89.2 126.1h0M79.4 143.6h0M58.9 150.9h0M61.5 122.5h0M59.7 127.8h0M67.2 146.1h0M69.1 123.3h0M47.2 152.5h0M57.3 160.4h0M62.4 130.8h0M83.1 131.1h0M52.6 157.0h0M66.0 142.8h0M52.1 155.7h0M48.5 147.6h0M64.3 147.0h0M83.8 129.6h0M54.0 124.2h0M87.1 131.5h0M74.2 139.2h0M88.2 128.9h0M43.6 132.3h0M63.4 151.0h0M63.0 131.1h0M71.5 124.1h0M87.2 131.4h0M68.3 149.9h0M55.2 149.5h0M86.2 123.0h0M67.1 124.7h0M84.2 132.6h0M46.8 149.8h0M82.1 129.7h0M84.5 128.4h0M45.7 149.0h0M62.0 121.5h0M47.4 135.2h0M59.8 154.8h0M66.1 127.5h0M46.0 161.5h0M89.8 127.5h0M57.5 121.5h0M50.2 151.8h0M59.4 122.6h0M57.4 130.1h0M58.0 159.8h0M76.0 141.2h0M66.6 127.2h0M71.5 143.2h0M55.8 124.1h0M43.1 119.1h0M81.2 133.3h0M89.4 132.8h0M86.2 130.6h0M63.3 126.7h0M63.1 153.1h0M48.2 147.5h0M57.0 157.6h0M55.1 126.4h0M87.9 124.7h0M67.5 121.7h0M51.1 128.2h0M47.0 152.5h0M60.9 161.5h0M60.9 122.6h0M87.5 127.8h0M54.2 131.3h0M49.9 143.6h0M86.9 126.9h0M67.0 153.6h0M51.9 121.9h0M58.5 155.5h0M62.0 127.8h0M56.6 156.9h0M90.9 131.3h0M47.8 158.7h0M82.7 129.6h0M53.4 156.5h0M61.6 127.4h0M53.1 151.4h0M54.4 153.4h0M62.8 126.5h0M63.0 157.3h0M85.0 127.9h0M67.4 152.3h0M81.7 134.6h0M60.8 129.0h0M54.6 154.7h0M83.6 130.9h0M90.1 126.7h0M54.7 155.5h0M60.4 125.3h0M60.3 143.0h0M43.7 142.3h0M52.2 156.3h0M73.2 152.1h0M53.3 127.9h0M56.6 139.5h0M89.8 129.2h0M84.1 132.0h0M59.8 150.6h0M54.7 163.4h0M88.3 131.4h0M52.1 157.5h0M62.0 129.7h0M60.8 147.0h0M87.1 129.9h0M62.9 148.9h0M53.5 149.0h0M56.0 145.7h0M53.3 157.9h0M58.6 130.4h0M57.3 150.4h0M54.4 126.0h0M57.6 127.2h0M87.1 125.7h0M63.0 145.8h0M62.9 157.1h0M66.0 122.2h0M52.7 152.3h0M47.5 154.1h0M79.6 139.4h0M59.1 163.1h0M51.3 158.7h0M54.2 152.0h0M59.7 155.9h0M86.8 129.7h0M66.0 125.0h0M59.1 131.8h0M71.9 124.8h0M47.3 128.8h0M83.9 129.6h0" stroke="#2440ff" stroke-width="0.7" stroke-linecap="round" opacity="0.85"/>
<ellipse cx="85.8" cy="129.2" rx="6.4" ry="7.8" fill="url(#gcoreR)" filter="url(#b05)"/>
<ellipse cx="58.5" cy="126" rx="8.5" ry="5" fill="url(#gcyan)" filter="url(#b05)"/>
<ellipse cx="57.5" cy="154" rx="8" ry="8" fill="url(#gblue)" filter="url(#b05)"/>
</g>
<path d="M42.5 90.9 V172 H122 V90.9" fill="none" stroke="#222" stroke-width="1.2"/>
<line x1="43.1" y1="172" x2="101.9" y2="172" stroke="url(#axg)" stroke-width="1.2"/>
<rect x="74.4" y="115.8" width="22.9" height="25.6" fill="none" stroke="#111" stroke-width="1.2"/>
<text x="101" y="133.5" font-size="9.3" text-anchor="start" fill="#222">57%</text>
<rect x="108.1" y="156.3" width="9.6" height="10.3" fill="#fff" stroke="#111" stroke-width="1.2"/>
<line x1="39.5" y1="97.8" x2="41.9" y2="97.8" stroke="#222" stroke-width="0.9"/>
<line x1="39.5" y1="123.5" x2="41.9" y2="123.5" stroke="#222" stroke-width="0.9"/>
<line x1="39.5" y1="148.4" x2="41.9" y2="148.4" stroke="#222" stroke-width="0.9"/>
<line x1="39.5" y1="171" x2="41.9" y2="171" stroke="#222" stroke-width="0.9"/>
<line x1="40.6" y1="101.46" x2="41.9" y2="101.46" stroke="#555" stroke-width="0.6"/>
<line x1="40.6" y1="104.14" x2="41.9" y2="104.14" stroke="#555" stroke-width="0.6"/>
<line x1="40.6" y1="106.34" x2="41.9" y2="106.34" stroke="#555" stroke-width="0.6"/>
<line x1="40.6" y1="108.17" x2="41.9" y2="108.17" stroke="#555" stroke-width="0.6"/>
<line x1="40.6" y1="113.66" x2="41.9" y2="113.66" stroke="#555" stroke-width="0.6"/>
<line x1="40.6" y1="116.34" x2="41.9" y2="116.34" stroke="#555" stroke-width="0.6"/>
<line x1="40.6" y1="118.54" x2="41.9" y2="118.54" stroke="#555" stroke-width="0.6"/>
<line x1="40.6" y1="120.37" x2="41.9" y2="120.37" stroke="#555" stroke-width="0.6"/>
<line x1="40.6" y1="125.86" x2="41.9" y2="125.86" stroke="#555" stroke-width="0.6"/>
<line x1="40.6" y1="128.54" x2="41.9" y2="128.54" stroke="#555" stroke-width="0.6"/>
<line x1="40.6" y1="130.74" x2="41.9" y2="130.74" stroke="#555" stroke-width="0.6"/>
<line x1="40.6" y1="132.57" x2="41.9" y2="132.57" stroke="#555" stroke-width="0.6"/>
<line x1="40.6" y1="138.06" x2="41.9" y2="138.06" stroke="#555" stroke-width="0.6"/>
<line x1="40.6" y1="140.74" x2="41.9" y2="140.74" stroke="#555" stroke-width="0.6"/>
<line x1="40.6" y1="142.94" x2="41.9" y2="142.94" stroke="#555" stroke-width="0.6"/>
<line x1="40.6" y1="144.77" x2="41.9" y2="144.77" stroke="#555" stroke-width="0.6"/>
<line x1="40.6" y1="150.26" x2="41.9" y2="150.26" stroke="#555" stroke-width="0.6"/>
<line x1="40.6" y1="152.94" x2="41.9" y2="152.94" stroke="#555" stroke-width="0.6"/>
<line x1="40.6" y1="155.14" x2="41.9" y2="155.14" stroke="#555" stroke-width="0.6"/>
<line x1="40.6" y1="156.97" x2="41.9" y2="156.97" stroke="#555" stroke-width="0.6"/>
<line x1="40.6" y1="162.46" x2="41.9" y2="162.46" stroke="#555" stroke-width="0.6"/>
<line x1="40.6" y1="165.14" x2="41.9" y2="165.14" stroke="#555" stroke-width="0.6"/>
<line x1="40.6" y1="167.34" x2="41.9" y2="167.34" stroke="#555" stroke-width="0.6"/>
<line x1="40.6" y1="169.17" x2="41.9" y2="169.17" stroke="#555" stroke-width="0.6"/>
<text x="35.2" y="100.7" font-size="8" text-anchor="end" fill="#1a1a1a">10</text>
<text x="35.3" y="98.7" font-size="4.6" fill="#1a1a1a">7</text>
<text x="35.2" y="125.1" font-size="8" text-anchor="end" fill="#1a1a1a">10</text>
<text x="35.3" y="123.1" font-size="4.6" fill="#1a1a1a">5</text>
<text x="35.2" y="149.5" font-size="8" text-anchor="end" fill="#1a1a1a">10</text>
<text x="35.3" y="147.5" font-size="4.6" fill="#1a1a1a">3</text>
<text x="35.2" y="172.8" font-size="8" text-anchor="end" fill="#1a1a1a">10</text>
<text x="35.3" y="170.8" font-size="4.6" fill="#1a1a1a">1</text>
<text x="45.7" y="183" font-size="8.4" text-anchor="middle" fill="#1a1a1a">10<tspan font-size="4.6" dy="-2.4">1</tspan></text>
<text x="67.4" y="183" font-size="8.4" text-anchor="middle" fill="#1a1a1a">10<tspan font-size="4.6" dy="-2.4">3</tspan></text>
<text x="93.9" y="183" font-size="8.4" text-anchor="middle" fill="#1a1a1a">10<tspan font-size="4.6" dy="-2.4">5</tspan></text>
<text x="118.8" y="183" font-size="8.4" text-anchor="middle" fill="#1a1a1a">10<tspan font-size="4.6" dy="-2.4">7</tspan></text>
<line x1="44.7" y1="172.6" x2="44.7" y2="174.8" stroke="#222" stroke-width="0.9"/>
<line x1="48.36" y1="172.6" x2="48.36" y2="173.8" stroke="#555" stroke-width="0.6"/>
<line x1="51.04" y1="172.6" x2="51.04" y2="173.8" stroke="#555" stroke-width="0.6"/>
<line x1="53.23" y1="172.6" x2="53.23" y2="173.8" stroke="#555" stroke-width="0.6"/>
<line x1="55.06" y1="172.6" x2="55.06" y2="173.8" stroke="#555" stroke-width="0.6"/>
<line x1="56.88" y1="172.6" x2="56.88" y2="174.8" stroke="#222" stroke-width="0.9"/>
<line x1="60.54" y1="172.6" x2="60.54" y2="173.8" stroke="#555" stroke-width="0.6"/>
<line x1="63.22" y1="172.6" x2="63.22" y2="173.8" stroke="#555" stroke-width="0.6"/>
<line x1="65.41" y1="172.6" x2="65.41" y2="173.8" stroke="#555" stroke-width="0.6"/>
<line x1="67.24" y1="172.6" x2="67.24" y2="173.8" stroke="#555" stroke-width="0.6"/>
<line x1="69.07" y1="172.6" x2="69.07" y2="174.8" stroke="#222" stroke-width="0.9"/>
<line x1="72.72" y1="172.6" x2="72.72" y2="173.8" stroke="#555" stroke-width="0.6"/>
<line x1="75.4" y1="172.6" x2="75.4" y2="173.8" stroke="#555" stroke-width="0.6"/>
<line x1="77.59" y1="172.6" x2="77.59" y2="173.8" stroke="#555" stroke-width="0.6"/>
<line x1="79.42" y1="172.6" x2="79.42" y2="173.8" stroke="#555" stroke-width="0.6"/>
<line x1="81.25" y1="172.6" x2="81.25" y2="174.8" stroke="#222" stroke-width="0.9"/>
<line x1="84.91" y1="172.6" x2="84.91" y2="173.8" stroke="#555" stroke-width="0.6"/>
<line x1="87.59" y1="172.6" x2="87.59" y2="173.8" stroke="#555" stroke-width="0.6"/>
<line x1="89.78" y1="172.6" x2="89.78" y2="173.8" stroke="#555" stroke-width="0.6"/>
<line x1="91.61" y1="172.6" x2="91.61" y2="173.8" stroke="#555" stroke-width="0.6"/>
<line x1="93.43" y1="172.6" x2="93.43" y2="174.8" stroke="#222" stroke-width="0.9"/>
<line x1="97.09" y1="172.6" x2="97.09" y2="173.8" stroke="#555" stroke-width="0.6"/>
<line x1="99.77" y1="172.6" x2="99.77" y2="173.8" stroke="#555" stroke-width="0.6"/>
<line x1="101.96" y1="172.6" x2="101.96" y2="173.8" stroke="#555" stroke-width="0.6"/>
<line x1="103.79" y1="172.6" x2="103.79" y2="173.8" stroke="#555" stroke-width="0.6"/>
<line x1="105.62" y1="172.6" x2="105.62" y2="174.8" stroke="#222" stroke-width="0.9"/>
<line x1="109.27" y1="172.6" x2="109.27" y2="173.8" stroke="#555" stroke-width="0.6"/>
<line x1="111.95" y1="172.6" x2="111.95" y2="173.8" stroke="#555" stroke-width="0.6"/>
<line x1="114.15" y1="172.6" x2="114.15" y2="173.8" stroke="#555" stroke-width="0.6"/>
<line x1="115.97" y1="172.6" x2="115.97" y2="173.8" stroke="#555" stroke-width="0.6"/>
<line x1="117.8" y1="172.6" x2="117.8" y2="174.8" stroke="#222" stroke-width="0.9"/>
<text x="62" y="193.4" font-size="9.5" text-anchor="start" fill="#111">Ly6G-PE</text>
<text x="22.6" y="150.4" font-size="9.4" text-anchor="middle" fill="#111" transform="rotate(-90 22.6 150.4)">CD11b-APC</text>
<line x1="19.3" y1="121.3" x2="19.3" y2="89.8" stroke="#111" stroke-width="0.9"/>
<path d="M17.6 90.5 L19.3 86.9 L21.0 90.5z" fill="#111"/>
<text x="44" y="216.8" font-size="9.7" text-anchor="start" fill="#111">Single live</text>
<text x="51.2" y="230.1" font-size="9.6" text-anchor="start" fill="#222">Neutrophils</text>
<clipPath id="clip3"><rect x="41.75" y="220.2" width="82.55" height="83.10000000000002"/></clipPath>
<g clip-path="url(#clip3)">
<path d="M53.0 289.8h0M63.7 278.3h0M48.3 277.5h0M60.0 260.3h0M56.6 283.2h0M44.2 292.4h0M85.0 258.5h0M50.7 252.9h0M87.4 255.4h0M85.8 263.3h0M63.1 288.1h0M81.3 266.0h0M85.2 270.0h0M80.8 263.9h0M52.6 261.5h0M65.0 285.0h0M52.7 279.4h0M48.0 280.2h0M46.3 257.8h0M50.3 249.9h0M60.2 279.6h0M50.6 254.9h0M58.4 251.3h0M48.1 250.7h0M80.7 268.8h0M84.6 261.2h0M45.2 252.3h0M69.4 253.6h0M87.0 257.7h0M84.8 259.9h0M67.0 281.7h0M87.4 271.1h0M61.6 279.0h0M86.5 261.8h0M53.2 277.2h0M85.3 260.9h0M54.6 292.3h0M63.4 251.6h0M66.1 282.7h0M86.0 259.2h0M87.1 259.0h0M46.9 262.3h0M60.8 250.5h0M57.9 279.8h0M56.2 263.6h0M70.5 286.8h0M63.8 253.6h0M88.3 264.0h0M47.5 253.4h0M51.8 267.6h0M44.4 269.5h0M52.4 269.2h0M69.4 252.6h0M65.0 255.1h0M60.7 252.4h0M44.3 254.5h0M52.8 258.7h0M48.8 275.2h0M70.6 252.0h0M53.4 283.5h0M54.2 282.5h0M85.4 258.6h0M51.7 287.6h0M88.9 263.6h0M49.1 267.1h0M62.7 252.3h0M65.7 289.0h0M62.4 251.5h0M58.7 275.4h0M82.2 264.0h0M64.5 252.2h0M83.5 264.3h0M65.6 280.3h0M85.0 257.3h0M55.0 281.0h0M119.6 290.5h0M53.4 279.4h0M67.6 249.4h0M122.2 282.7h0M70.0 280.4h0M57.4 284.6h0M65.7 291.0h0M84.4 263.7h0M53.6 288.4h0M66.6 251.6h0M121.1 257.6h0M45.5 273.2h0M47.8 286.4h0M48.4 267.0h0M50.5 277.2h0M87.7 269.8h0M87.0 259.2h0M88.9 267.7h0M55.9 251.2h0M63.6 251.7h0M81.5 260.6h0M47.4 264.8h0M55.7 274.1h0M43.8 266.7h0M43.7 255.2h0M65.1 279.2h0M89.6 263.5h0M66.1 247.6h0M61.6 280.2h0M47.1 251.1h0M56.2 260.0h0M83.6 263.6h0M85.4 263.7h0M61.9 251.8h0M82.4 265.3h0M80.8 260.4h0M48.4 251.1h0M63.0 250.7h0M59.6 252.8h0M62.6 253.7h0M52.3 253.0h0M62.1 285.1h0M60.0 256.8h0M60.2 293.0h0M60.3 283.9h0M87.0 263.7h0M52.9 247.8h0M87.8 267.9h0M88.4 262.4h0M55.4 292.4h0M55.6 284.7h0M58.3 284.1h0M63.8 252.4h0M58.5 274.5h0M84.7 262.3h0M68.3 282.4h0M89.3 278.4h0M57.5 282.5h0M56.1 285.0h0M53.9 294.2h0M67.2 251.7h0M62.5 252.2h0M44.4 259.5h0M104.1 293.5h0M52.3 251.5h0M47.3 264.9h0M58.0 249.1h0M58.3 281.7h0M56.2 287.0h0M85.8 264.3h0M64.7 251.8h0M71.2 251.3h0M57.7 274.7h0M61.7 281.5h0M49.1 254.9h0M59.8 279.7h0M49.2 288.0h0M100.9 258.3h0M49.9 289.3h0M58.3 281.1h0M60.6 286.7h0M67.2 255.8h0M53.5 292.8h0M54.1 266.7h0M84.3 264.9h0M45.4 258.5h0M57.5 251.1h0M60.0 251.3h0M90.7 270.4h0M62.9 253.5h0M83.3 266.9h0M83.6 259.4h0M64.6 252.5h0M85.9 257.2h0M84.3 265.8h0M83.9 264.4h0M61.4 250.3h0M86.9 264.8h0M61.9 281.6h0M43.0 274.8h0M85.4 265.2h0M60.8 253.7h0M47.5 280.5h0M84.7 266.2h0M82.6 257.8h0M90.2 259.6h0M56.7 249.5h0M57.9 253.4h0M55.3 292.7h0M54.7 279.4h0M89.0 265.3h0M85.4 262.5h0M57.7 247.4h0M58.6 249.9h0M45.9 272.3h0M65.4 270.4h0M82.5 259.7h0M62.9 253.8h0M62.4 281.4h0M56.0 277.2h0M55.9 250.7h0M47.9 263.3h0M85.8 264.4h0M45.1 256.6h0M62.6 291.4h0M85.3 265.8h0M60.2 292.4h0M61.3 285.9h0M62.9 272.4h0M54.8 269.0h0M56.6 286.7h0M58.9 250.0h0M60.6 252.8h0M87.1 260.1h0M44.8 260.9h0M84.6 265.3h0M87.4 267.1h0M46.7 277.9h0M62.8 255.0h0M66.0 282.0h0M66.9 283.7h0M42.9 271.0h0M62.1 256.1h0M83.7 270.9h0M46.3 278.9h0M86.8 262.1h0M55.5 263.9h0M54.8 254.5h0M64.1 290.8h0M83.8 262.1h0M60.5 288.2h0M86.5 262.5h0M60.0 284.5h0M86.0 260.8h0M46.8 296.0h0M113.6 275.1h0M56.4 283.2h0M83.0 264.7h0M55.5 286.1h0M65.5 255.5h0M87.2 255.6h0M64.2 284.7h0M60.6 252.8h0M48.6 263.3h0M59.8 277.2h0M82.5 264.6h0M61.6 258.4h0M88.7 259.6h0M53.4 289.2h0M56.8 259.7h0M62.4 254.1h0M59.9 253.4h0M64.9 252.2h0M84.3 263.6h0M62.0 254.4h0M82.3 268.4h0M57.4 273.2h0M45.4 268.3h0M55.3 253.5h0M50.7 285.7h0M82.3 255.1h0M60.5 251.0h0M49.1 280.7h0M52.5 275.8h0M83.1 267.1h0M85.2 265.6h0M65.0 252.2h0M63.6 253.4h0M53.6 252.3h0M49.2 289.3h0M59.9 249.6h0M86.2 266.4h0M84.5 266.2h0M59.7 292.3h0M66.7 253.3h0M82.2 259.7h0M55.3 252.7h0M82.3 256.1h0M88.0 265.1h0M87.6 262.9h0M82.4 262.4h0M83.8 263.3h0M55.5 287.7h0M52.3 286.7h0M54.1 283.4h0M58.6 284.9h0M86.7 259.0h0M84.6 258.3h0M60.6 253.4h0M44.7 269.7h0M53.8 282.1h0M49.0 277.2h0M85.1 266.9h0M89.0 259.3h0M63.8 253.5h0M61.5 281.5h0M50.9 283.6h0M46.6 255.1h0M51.1 288.4h0M85.9 265.5h0M47.1 257.1h0M54.9 248.6h0M71.7 263.7h0M85.7 259.5h0M53.6 288.8h0M82.0 253.0h0M84.7 262.1h0M88.0 264.0h0M43.0 286.6h0M59.0 249.8h0M69.0 290.7h0M81.1 262.2h0M81.6 263.5h0M62.2 293.0h0M61.9 249.9h0M56.0 293.1h0M61.3 254.4h0M59.9 250.2h0M84.1 263.6h0M52.9 250.6h0M64.7 280.7h0M50.2 251.7h0M55.7 262.1h0M69.2 278.6h0M87.3 260.9h0M57.1 251.7h0M60.8 252.7h0M43.1 256.2h0M81.4 261.8h0M87.1 263.0h0M51.5 279.9h0M59.5 294.7h0M58.2 252.3h0M57.1 249.4h0M53.9 280.7h0M83.7 265.9h0M61.3 254.2h0M85.0 260.2h0M85.4 264.4h0M65.6 248.8h0M58.5 285.6h0M65.1 244.2h0M54.7 252.2h0M86.4 258.4h0M53.2 250.9h0M59.0 281.5h0M45.3 287.4h0M66.8 257.7h0M65.7 289.0h0M82.5 256.8h0M56.4 251.1h0M54.2 281.6h0M62.2 251.1h0M88.1 260.3h0M52.6 282.5h0M59.2 253.4h0M87.0 261.9h0M83.6 260.0h0M52.3 290.4h0M61.0 251.7h0M75.9 262.6h0M81.3 263.1h0M64.9 250.0h0M45.8 295.2h0M50.3 260.3h0M62.8 286.0h0M48.0 251.4h0M86.6 258.3h0M55.5 291.1h0M57.8 293.0h0M56.1 255.0h0M56.4 286.9h0M65.7 255.4h0M60.3 290.6h0M82.8 268.9h0M59.3 260.3h0M73.4 285.5h0M54.3 283.6h0M62.7 252.0h0M59.2 252.0h0M56.3 284.3h0M58.1 254.5h0M57.5 277.3h0M63.3 251.7h0M69.1 251.9h0M63.0 287.5h0M86.4 262.5h0M54.2 284.0h0M61.9 285.9h0M45.8 292.8h0M47.8 262.4h0M59.5 253.0h0M86.3 258.3h0M50.3 278.7h0M62.2 252.9h0M85.8 262.3h0M54.1 254.7h0M53.8 290.3h0M61.2 252.8h0M68.8 252.0h0M60.4 283.2h0M81.9 261.2h0M58.3 251.6h0M69.2 277.1h0M66.6 250.7h0M84.2 266.4h0M86.4 267.4h0M63.4 287.9h0M65.5 251.2h0M59.9 286.3h0M59.1 254.3h0M58.2 280.0h0M84.6 254.2h0M58.7 246.5h0M81.0 264.2h0M46.8 251.0h0M66.1 252.1h0M61.6 255.9h0M52.5 277.0h0M87.7 261.9h0M56.9 287.4h0M81.8 257.7h0M57.1 253.0h0M80.4 259.2h0M55.1 289.2h0M82.7 262.2h0M58.9 252.0h0M54.7 283.4h0M85.3 262.8h0M60.0 250.5h0M57.5 251.5h0M59.6 290.5h0M59.3 284.0h0M64.7 252.2h0M83.4 261.3h0M62.1 278.1h0M83.3 267.3h0M55.9 258.1h0M85.4 262.0h0M60.0 273.8h0M78.9 249.0h0M48.4 290.3h0M73.7 250.4h0M48.5 266.9h0M64.5 256.7h0M56.3 254.2h0M69.2 283.1h0M55.6 275.0h0M51.5 284.0h0M82.8 263.4h0M85.2 261.5h0M71.1 275.6h0M89.0 260.5h0M53.7 251.7h0M55.9 287.3h0M52.0 257.5h0M65.6 255.6h0M117.2 291.3h0M88.2 261.5h0M65.2 279.2h0M62.6 250.9h0M84.9 264.3h0M51.6 256.0h0M51.4 295.2h0M57.1 278.1h0M44.0 252.7h0M86.8 264.1h0M45.5 267.1h0M58.7 251.2h0M61.9 251.0h0M85.3 266.9h0M61.2 293.2h0M58.6 253.1h0M43.3 276.1h0M48.9 272.1h0M46.9 251.0h0M84.6 265.3h0M82.0 265.4h0M59.0 257.1h0M63.2 253.6h0M58.3 250.7h0M61.2 290.6h0M51.4 289.6h0M43.9 288.6h0M61.1 279.8h0M58.0 286.5h0M43.8 258.0h0M84.9 268.8h0M61.3 249.8h0M87.5 259.3h0M54.1 293.1h0M85.4 259.0h0M83.7 262.5h0M60.0 292.7h0M55.6 293.7h0M62.0 289.8h0M85.9 267.4h0M85.5 266.0h0M85.9 260.6h0M56.3 252.7h0M54.7 282.5h0M80.6 274.1h0M44.2 272.4h0M54.3 279.6h0M57.5 253.0h0M64.1 257.3h0M54.0 271.3h0M87.0 259.0h0M84.7 266.1h0M60.8 255.4h0M58.6 282.2h0M55.3 286.8h0M61.9 255.0h0M57.0 291.4h0M86.6 263.6h0M85.3 264.1h0M48.8 260.1h0M61.4 252.6h0" stroke="#7f90ff" stroke-width="0.65" stroke-linecap="round" opacity="0.8"/>
<path d="M52.5 288.0h0M83.8 263.2h0M58.2 287.7h0M45.3 264.1h0M83.6 266.3h0M62.1 255.7h0M43.1 267.5h0M63.0 253.8h0M44.7 260.5h0M60.0 292.3h0M87.5 268.5h0M61.4 285.9h0M59.1 254.1h0M57.5 287.5h0M88.6 259.9h0M56.4 288.5h0M83.3 262.1h0M56.9 281.0h0M56.6 289.8h0M64.0 251.7h0M60.3 252.2h0M63.9 276.1h0M85.4 259.5h0M84.7 265.5h0M117.0 275.3h0M48.1 269.4h0M86.8 259.6h0M81.6 262.4h0M55.4 252.5h0M43.8 257.6h0M59.3 252.0h0M74.0 251.7h0M85.6 265.1h0M61.6 254.9h0M87.4 264.2h0M58.1 249.0h0M62.8 279.6h0M86.0 265.5h0M54.9 281.7h0M58.2 253.1h0M63.2 283.4h0M52.2 251.2h0M59.8 291.1h0M45.2 259.6h0M86.8 266.5h0M48.4 248.9h0M43.3 272.3h0M65.2 250.3h0M89.4 296.8h0M53.5 283.5h0M45.5 285.2h0M83.8 261.6h0M87.2 265.3h0M53.4 253.6h0M58.4 273.8h0M87.0 264.8h0M42.9 262.0h0M82.1 268.3h0M49.8 256.7h0M87.8 262.0h0M53.6 281.2h0M82.1 262.3h0M85.4 269.3h0M60.0 249.8h0M63.7 252.1h0M83.2 259.2h0M64.3 250.6h0M49.1 271.4h0M85.5 263.5h0M59.4 254.0h0M86.0 262.9h0M63.5 285.0h0M86.6 262.0h0M86.7 258.5h0M58.1 283.9h0M49.3 273.3h0M55.5 252.8h0M67.9 282.8h0M54.3 284.1h0M65.9 284.0h0M58.7 293.8h0M64.1 255.7h0M87.3 260.2h0M90.1 254.6h0M52.3 286.4h0M86.2 267.5h0M84.2 262.3h0M80.5 255.8h0M60.8 252.0h0M60.5 249.4h0M60.8 283.8h0M54.1 251.7h0M114.6 279.6h0M84.9 266.7h0M59.9 251.7h0M65.6 250.2h0M48.9 281.4h0M84.1 261.7h0M54.5 289.1h0M76.2 292.8h0M64.4 251.7h0M63.1 249.8h0M59.3 278.2h0M87.6 263.1h0M64.7 257.9h0M54.2 248.8h0M82.9 267.8h0M47.2 270.8h0M58.0 284.2h0M68.3 293.0h0M53.9 249.5h0M59.6 285.3h0M64.9 256.6h0M60.5 280.7h0M88.2 262.9h0M63.4 252.1h0M88.0 260.9h0M57.8 255.7h0M66.1 281.3h0M67.4 248.4h0M83.3 260.2h0M65.4 247.8h0M56.8 272.4h0M57.6 269.4h0M52.1 243.9h0M91.5 263.2h0M61.1 286.3h0M65.7 253.7h0M52.1 272.3h0M65.6 251.8h0M52.3 264.0h0M58.4 254.8h0M81.6 266.9h0M64.5 256.1h0M61.2 284.2h0M54.4 266.4h0M86.5 260.9h0M48.3 298.7h0M62.1 254.6h0M85.1 265.1h0M84.0 264.2h0M57.0 284.7h0M97.2 257.8h0M54.5 278.5h0M60.3 252.8h0M50.1 264.3h0M87.9 262.4h0M83.1 259.1h0M64.3 253.9h0M46.5 255.4h0M61.4 253.6h0M63.7 290.7h0M89.4 267.7h0M58.2 252.0h0M65.8 259.0h0M46.8 286.7h0M87.8 264.6h0M82.9 266.5h0M86.2 265.6h0M68.6 276.6h0M68.9 279.2h0M48.4 274.8h0M63.1 253.5h0M55.3 254.1h0M45.0 262.1h0M63.8 253.5h0M48.1 290.7h0M82.0 261.5h0M66.0 248.5h0M83.6 260.8h0M56.8 280.9h0M89.8 262.2h0M51.6 277.5h0M65.8 283.5h0M58.1 288.8h0M86.1 269.5h0M84.0 262.5h0M81.9 257.2h0M50.4 251.5h0M84.0 264.1h0M50.0 255.4h0M64.3 253.4h0M46.7 256.7h0M86.7 264.1h0M83.5 260.9h0M84.7 268.1h0M62.2 289.0h0M53.7 280.8h0M43.1 265.6h0M83.7 264.3h0M84.1 268.2h0M66.4 254.8h0M58.9 255.6h0M58.7 283.2h0M85.4 259.5h0M63.6 249.1h0M50.1 285.7h0M87.1 256.0h0M43.2 273.1h0M58.7 250.6h0M62.9 280.2h0M83.4 263.6h0M63.7 252.5h0M84.8 259.7h0M85.0 259.3h0M56.5 279.7h0M61.8 248.5h0M82.6 260.4h0M53.9 288.8h0M61.3 276.8h0M64.3 278.9h0M88.2 262.3h0M65.0 256.5h0M84.9 262.8h0M51.6 277.2h0M62.8 282.9h0M90.9 255.9h0M87.8 265.0h0M65.8 250.1h0M54.5 251.4h0M61.2 255.5h0M46.6 288.8h0M58.9 281.7h0M89.4 266.6h0M52.7 250.6h0M86.2 261.9h0M86.4 266.5h0M82.8 255.7h0M50.9 294.7h0M52.8 290.0h0M84.6 261.5h0M66.8 252.7h0M53.2 250.9h0M65.7 279.2h0M58.8 279.9h0M49.5 283.5h0M53.8 282.7h0M86.1 265.5h0M50.0 279.8h0M58.1 252.8h0M63.8 279.9h0M55.5 291.0h0M48.8 276.2h0M60.6 253.4h0M60.5 251.8h0M86.9 266.5h0M51.7 283.4h0M59.6 281.2h0M63.9 283.6h0M88.3 289.8h0M85.7 268.5h0M47.9 294.0h0M86.3 261.3h0M58.3 288.8h0M59.6 274.5h0M43.5 262.8h0M58.3 286.3h0M53.2 284.1h0M61.7 257.2h0M82.0 262.2h0M63.6 251.6h0M56.9 286.3h0M51.7 287.1h0M101.3 259.7h0M90.2 254.6h0M59.7 253.2h0M83.8 262.5h0M58.3 279.0h0M75.4 272.7h0M52.7 275.3h0M84.3 261.5h0M64.6 253.9h0M84.2 264.5h0M85.1 264.2h0M70.5 254.6h0M53.1 265.6h0M57.9 295.7h0M61.4 289.6h0M55.2 284.2h0M59.1 253.2h0M115.3 287.6h0M48.2 257.1h0M43.3 255.1h0M69.2 259.1h0M87.2 264.7h0M58.5 280.8h0M84.1 267.5h0M83.3 268.4h0M85.8 259.1h0M62.8 248.0h0M84.9 267.3h0M62.5 253.3h0M88.9 266.3h0M84.4 265.8h0M49.1 274.8h0M66.0 249.0h0M85.7 265.1h0M61.1 277.4h0M83.9 269.6h0M83.0 254.9h0M55.7 283.6h0M58.8 252.1h0M59.0 279.9h0M47.7 255.6h0M56.4 281.7h0M85.0 262.7h0M65.1 291.1h0M69.1 253.2h0M61.0 279.4h0M50.8 283.7h0M88.0 262.2h0M84.8 261.6h0M65.9 254.8h0M84.7 259.6h0M59.1 281.9h0M54.6 294.6h0M49.5 262.1h0M82.5 254.6h0M86.3 249.4h0M80.7 257.8h0M66.1 248.9h0M52.9 263.2h0M64.6 251.8h0M60.1 252.1h0M49.3 276.0h0M58.2 256.8h0M71.8 279.1h0M86.2 272.1h0M51.4 251.4h0M55.7 253.4h0M66.3 288.9h0M56.2 282.4h0M47.0 274.0h0M84.1 268.8h0M83.1 264.3h0M66.8 255.8h0M59.2 286.3h0M90.3 271.5h0M50.7 287.3h0M73.1 256.3h0M46.9 255.4h0M61.7 252.6h0M60.3 274.9h0M87.3 261.8h0M90.7 256.3h0M55.3 255.9h0M61.9 249.3h0M54.8 294.1h0M55.1 281.6h0M87.7 269.6h0M63.0 285.9h0M46.1 253.8h0M53.9 288.4h0M87.3 260.0h0M85.8 266.2h0M52.7 279.5h0M54.3 281.6h0M85.4 262.6h0M85.3 260.1h0M79.5 266.4h0M83.0 257.1h0M61.1 286.4h0M60.6 248.7h0M89.1 261.7h0M60.4 243.8h0M60.1 287.5h0M85.6 263.8h0M87.7 264.5h0M61.6 248.9h0M83.7 257.5h0M84.8 261.2h0M58.6 291.7h0M46.5 265.3h0M79.5 261.0h0M63.1 254.3h0M51.5 285.5h0M57.4 288.1h0M64.1 253.9h0M82.6 259.2h0M57.3 282.0h0M87.6 264.0h0M65.7 281.7h0M74.4 285.7h0M53.3 278.6h0M61.5 250.5h0M80.5 266.2h0M62.4 257.6h0M66.5 246.8h0M55.9 283.1h0M63.2 248.7h0M81.8 263.6h0M58.4 292.8h0M64.4 249.1h0M92.0 264.4h0M85.9 263.8h0M53.1 253.7h0M71.7 245.3h0M52.2 253.9h0M82.5 271.1h0M58.3 284.6h0M43.6 273.4h0M50.0 284.7h0M84.9 260.1h0M60.1 290.6h0M83.3 267.6h0M61.2 249.6h0M49.5 267.2h0M64.9 279.5h0M58.4 253.6h0M65.1 278.5h0M54.4 287.1h0M85.5 264.8h0M63.8 254.9h0M64.0 276.4h0M86.6 262.2h0M49.2 261.0h0M52.2 258.8h0M59.3 293.3h0M44.2 272.0h0M67.6 255.0h0M62.0 255.2h0M57.7 255.5h0M90.3 264.9h0M64.9 250.2h0M66.9 281.1h0M57.2 299.3h0M86.0 263.9h0M88.4 264.4h0M62.8 252.0h0M84.1 262.6h0M83.5 261.5h0M90.9 280.9h0M56.0 277.9h0M55.9 284.7h0M86.5 261.5h0M83.1 253.9h0M84.9 260.7h0M72.1 248.2h0M60.4 280.6h0M68.6 253.7h0M45.4 272.6h0M86.3 258.0h0M83.8 265.3h0M62.6 254.3h0M55.6 284.8h0M84.7 265.0h0M88.9 258.9h0M59.3 250.3h0M85.7 259.1h0M64.5 247.8h0M85.5 263.6h0M61.8 255.2h0M59.6 282.9h0M54.2 261.6h0M55.3 290.4h0M81.9 260.5h0M85.5 264.5h0M43.6 277.6h0M56.1 258.2h0M61.4 245.7h0M53.9 260.3h0M49.5 280.6h0M83.8 266.0h0M61.8 284.5h0M65.7 284.2h0M91.1 262.9h0M62.6 292.6h0M64.6 250.3h0M61.0 255.2h0M85.0 261.4h0M63.0 254.2h0M47.4 263.0h0M86.4 267.0h0M54.2 278.6h0M52.1 252.7h0M83.2 261.3h0M46.2 279.0h0M77.1 275.0h0M66.8 252.5h0M65.7 252.5h0M64.5 249.1h0M60.3 252.4h0M51.1 285.9h0M87.6 261.8h0M56.3 294.9h0M102.7 262.3h0M44.6 293.7h0M53.3 297.7h0M60.6 253.8h0M64.1 255.4h0M85.4 264.3h0M61.2 253.9h0M65.5 250.9h0M68.1 276.6h0M90.6 260.6h0M63.4 273.8h0M59.9 291.5h0M59.1 255.2h0M70.8 283.5h0M81.0 261.4h0M86.9 260.2h0M82.0 257.4h0M83.3 267.9h0M87.4 260.5h0M53.5 253.4h0M64.2 257.8h0M81.4 265.0h0M65.2 251.0h0M60.7 272.6h0M43.5 253.6h0M60.9 253.6h0M46.3 287.3h0M65.9 280.3h0M55.8 289.0h0M65.2 251.0h0M58.7 252.9h0M85.8 259.6h0M52.7 275.1h0M75.5 272.2h0M61.9 281.0h0M61.4 286.3h0M88.8 257.2h0M53.0 282.2h0M66.4 255.1h0M57.2 280.9h0M67.6 277.5h0M47.9 299.3h0M54.4 289.1h0M102.5 256.1h0M61.6 285.0h0M55.2 254.1h0M58.2 279.4h0M64.9 255.5h0M74.9 254.5h0M60.8 249.2h0M59.5 294.9h0M89.6 256.1h0M57.4 250.3h0M57.6 283.2h0M83.9 259.3h0M65.3 256.8h0M51.2 281.5h0M55.4 281.7h0M61.1 279.6h0M56.7 246.5h0M68.2 260.4h0M58.5 271.8h0M51.8 284.9h0M60.7 253.4h0M67.1 255.0h0M72.6 276.6h0M59.1 248.8h0M67.6 255.1h0M45.9 286.4h0M55.3 256.5h0M53.0 272.8h0M57.5 251.9h0M89.3 266.3h0M53.2 274.6h0M43.8 264.9h0M86.9 268.0h0M81.9 259.6h0M46.9 264.9h0M63.3 256.4h0M46.0 298.1h0M51.6 256.6h0M95.4 253.7h0M53.2 281.2h0M55.2 252.7h0M57.5 255.0h0M52.9 272.4h0M50.7 250.9h0M56.0 252.2h0M79.6 265.8h0M83.7 259.4h0M86.7 261.6h0M75.8 279.0h0M58.3 289.2h0M66.5 251.5h0M85.9 260.3h0M83.1 266.1h0M60.7 253.1h0M67.5 255.2h0M55.0 254.9h0M59.8 255.1h0M84.7 266.8h0M56.0 280.9h0M78.0 271.8h0M48.8 280.6h0M60.3 252.6h0M64.6 251.4h0M88.1 265.8h0M61.8 284.9h0M64.2 282.9h0M85.9 263.7h0M57.2 278.5h0M45.2 253.0h0M49.2 249.6h0M62.8 252.8h0M90.7 255.7h0M55.6 286.5h0M61.9 253.7h0M43.3 250.2h0M66.5 249.7h0M51.2 256.1h0M64.1 256.0h0M42.8 271.0h0M72.8 277.4h0M70.2 276.9h0M77.2 284.5h0M76.7 269.3h0M84.3 258.9h0M67.3 252.2h0M88.9 264.7h0M57.6 249.8h0M68.8 249.3h0M64.4 252.5h0M86.5 263.3h0M60.3 284.6h0M56.9 259.5h0M56.7 290.4h0M61.5 246.4h0M59.1 294.0h0M84.6 262.1h0M61.8 252.1h0M51.5 282.1h0M80.9 266.6h0M85.6 259.8h0M53.4 268.8h0M82.8 264.1h0M62.2 249.6h0M60.1 275.8h0M83.0 269.3h0M56.0 248.9h0M57.6 283.7h0M54.9 287.8h0M58.9 287.2h0M49.0 292.1h0M62.0 254.3h0M85.1 270.0h0M59.4 254.0h0M63.4 248.2h0M53.7 252.1h0M47.6 278.8h0M63.8 251.1h0M47.1 252.8h0M62.6 254.3h0M62.0 254.8h0M54.6 277.4h0M56.5 287.5h0M61.7 250.0h0M49.8 270.6h0M86.5 264.8h0M71.0 254.5h0M82.7 264.8h0M67.1 279.1h0M60.0 279.7h0M61.6 257.1h0M85.1 259.8h0M84.2 266.6h0M64.0 249.9h0M84.4 260.3h0M54.4 266.9h0M53.5 251.0h0M60.9 249.7h0M60.1 292.1h0M61.6 280.3h0M85.5 258.3h0M56.8 255.5h0M73.8 253.6h0M61.1 255.1h0M67.3 290.5h0M90.2 264.0h0M63.5 250.4h0M55.6 277.9h0M67.3 254.6h0M42.9 288.4h0M66.0 282.4h0M64.8 251.2h0M66.5 253.6h0M65.9 253.2h0M52.9 266.9h0M52.2 269.5h0M80.6 261.6h0M56.9 285.8h0M83.7 259.5h0M85.5 262.1h0M49.1 265.1h0M51.3 275.9h0M64.0 256.3h0M43.4 301.4h0M86.1 265.9h0M57.8 299.4h0M48.6 292.7h0M66.7 257.9h0M64.0 250.7h0M64.6 278.3h0M45.1 271.8h0M50.5 267.6h0M55.2 251.9h0M44.3 268.6h0M43.0 254.7h0M61.3 285.9h0M63.6 252.5h0M65.5 291.0h0M59.8 250.9h0M61.3 259.5h0M65.9 248.3h0M57.2 253.9h0M85.9 262.7h0M82.7 262.8h0M75.1 275.2h0M81.5 265.3h0M90.3 261.9h0M85.9 261.5h0M62.2 249.6h0M62.1 251.5h0M82.8 266.4h0M54.2 254.7h0M63.5 286.2h0M62.7 247.1h0M51.5 287.5h0M86.4 261.8h0M66.9 253.3h0M62.9 252.1h0M89.5 264.5h0M83.6 262.6h0M84.5 257.8h0M83.5 263.5h0M56.4 295.5h0M47.3 277.6h0M59.5 254.2h0M66.8 250.8h0M59.8 249.1h0M65.7 254.6h0M81.7 258.0h0M89.1 260.6h0M62.5 252.6h0M85.3 254.8h0M85.5 267.4h0M88.7 267.5h0M69.3 290.7h0M73.9 279.1h0M53.0 284.2h0M84.8 259.7h0M85.2 256.3h0M60.3 251.7h0M86.1 257.5h0M85.4 262.2h0M55.1 286.1h0M57.6 273.5h0M59.2 256.8h0M81.2 263.7h0M42.9 254.3h0M44.5 278.5h0M61.3 253.2h0M86.0 258.1h0M56.1 249.1h0M86.1 265.0h0M61.9 282.6h0M65.6 251.2h0M85.1 263.8h0M61.4 282.5h0M47.5 286.9h0M55.7 251.6h0M84.3 266.7h0M54.4 269.1h0M60.4 286.2h0M86.0 265.1h0M59.7 255.7h0M61.8 251.8h0M57.2 288.4h0M51.9 271.9h0M86.4 263.3h0M58.5 258.5h0M65.1 254.8h0M58.3 287.6h0M60.6 249.4h0M85.7 255.9h0M81.7 259.2h0M48.0 270.4h0M62.8 252.0h0M80.5 264.3h0M86.7 259.7h0M50.1 297.1h0M83.1 259.3h0M85.2 262.3h0M69.0 252.8h0M67.3 284.2h0M60.7 292.1h0M86.8 265.1h0M60.3 284.2h0M55.3 256.7h0M60.2 289.3h0M64.1 296.7h0M64.9 276.4h0M51.5 286.3h0M60.9 251.1h0M54.5 280.9h0M55.9 256.6h0M87.6 261.7h0M55.7 278.3h0M65.0 249.9h0M83.5 265.6h0M84.7 264.3h0M67.2 245.0h0M58.1 293.9h0M84.2 257.5h0M87.0 270.0h0M82.7 271.1h0M85.6 262.0h0M86.7 263.1h0M56.3 266.6h0M57.1 255.6h0M50.1 282.8h0M61.0 255.5h0M64.6 250.8h0M47.4 257.8h0M85.0 266.4h0M86.3 262.1h0M63.8 287.3h0M49.5 276.2h0M81.8 265.6h0M43.1 268.0h0M85.1 261.9h0M83.8 260.9h0M44.9 272.5h0M50.3 252.5h0M58.9 287.2h0M101.2 251.2h0M53.1 250.2h0M58.5 280.8h0M59.5 249.3h0M64.1 254.5h0M54.1 283.8h0M61.1 249.7h0M86.3 264.0h0M72.0 288.6h0M56.6 255.0h0M88.6 265.5h0M47.5 253.7h0M87.2 259.9h0M63.5 280.0h0M84.1 261.9h0M53.8 252.9h0M43.7 290.4h0M86.1 260.0h0M85.3 264.9h0M82.5 262.0h0M82.3 255.0h0M51.8 279.4h0M43.6 279.8h0M50.1 270.4h0M87.7 260.8h0M85.3 267.8h0M65.7 257.1h0M85.1 262.8h0M83.3 262.9h0M60.3 251.3h0M54.6 280.4h0M52.1 292.9h0M57.0 280.0h0M58.8 253.1h0M57.9 254.1h0M59.9 252.3h0M62.2 252.6h0M89.3 259.7h0M71.4 252.1h0M55.9 251.7h0M80.4 262.6h0M79.3 259.4h0M68.9 248.0h0M82.9 263.1h0M53.2 270.3h0M55.6 284.2h0M62.4 257.1h0M84.0 255.3h0M59.1 255.8h0M84.2 268.0h0M66.0 289.4h0M60.3 281.2h0M63.5 281.9h0M86.5 265.9h0M67.0 288.1h0M53.8 280.8h0M85.6 258.8h0M90.6 249.6h0M86.2 263.2h0M56.7 281.1h0M63.5 250.4h0M81.6 265.9h0M56.9 255.0h0M92.0 264.5h0M50.3 280.9h0M63.1 285.1h0M53.9 281.3h0M86.3 263.9h0M84.9 261.5h0M52.7 253.3h0M83.0 264.4h0M82.9 266.5h0M89.5 260.0h0M62.1 255.9h0M60.2 254.3h0M61.3 251.9h0M74.4 273.6h0M61.2 288.2h0M62.4 251.8h0M87.9 265.1h0M89.8 263.1h0M56.4 277.3h0M53.2 289.5h0M45.9 282.7h0M72.1 253.0h0M48.4 253.6h0M60.8 253.6h0M83.6 259.9h0M90.2 263.6h0M88.6 261.6h0M59.8 249.2h0M61.7 280.6h0M57.6 289.2h0M63.5 253.4h0M68.3 254.5h0M78.2 267.1h0M61.5 280.5h0M82.6 265.2h0M43.2 260.5h0M87.0 256.7h0M58.0 282.7h0M87.5 261.5h0M62.3 254.4h0M63.9 253.1h0M85.8 262.2h0M54.4 256.3h0M84.3 255.9h0M85.1 259.7h0M43.7 285.7h0M62.7 253.4h0M64.6 253.7h0M51.0 257.9h0M53.9 279.8h0M90.6 262.1h0M59.6 253.9h0M53.7 277.6h0M60.4 279.2h0M84.8 262.5h0M54.9 255.4h0M60.8 251.7h0M85.2 261.6h0M45.1 293.9h0M84.0 266.1h0M57.2 251.5h0M60.3 286.8h0M88.1 261.7h0M87.3 263.9h0M44.2 271.9h0M71.1 256.3h0M51.6 276.7h0M61.5 281.5h0M61.7 283.1h0M83.2 265.0h0M63.0 292.9h0M80.0 267.3h0M84.0 265.9h0M67.8 289.8h0M87.6 245.8h0M56.1 287.1h0M57.9 274.6h0M54.9 284.2h0M62.1 253.3h0M87.7 266.1h0M59.1 254.9h0M52.1 280.7h0M65.2 286.5h0M53.9 247.1h0M69.4 279.5h0M84.3 260.1h0M43.9 272.4h0M58.6 269.8h0M61.9 249.2h0M68.0 257.3h0M53.9 268.1h0M88.1 260.4h0M50.5 249.1h0M52.2 252.0h0M57.6 285.7h0M53.3 278.9h0M85.7 269.7h0M85.6 261.1h0M60.6 254.3h0M63.4 251.9h0M60.9 254.2h0M60.5 249.0h0M49.3 277.7h0M54.7 282.0h0M64.1 253.2h0M50.7 269.3h0M57.1 281.1h0M68.2 254.2h0M65.0 258.5h0M83.5 261.6h0M83.3 266.7h0M85.4 262.2h0M62.0 250.9h0M86.3 265.6h0M59.5 249.9h0M88.3 264.9h0M52.2 285.1h0M53.7 286.1h0M56.6 256.8h0M106.0 270.7h0M84.9 261.9h0M63.7 276.4h0M44.5 263.2h0M85.5 256.8h0M86.7 258.6h0M87.5 266.2h0M65.8 255.8h0M60.2 250.8h0M56.0 275.6h0M65.6 254.0h0M60.8 254.5h0M64.7 251.7h0M61.2 288.0h0M54.4 281.9h0M64.3 250.2h0" stroke="#2440ff" stroke-width="0.7" stroke-linecap="round" opacity="0.85"/>
<ellipse cx="85.3" cy="263" rx="6.8" ry="8.6" fill="url(#gcoreR)" filter="url(#b05)"/>
<ellipse cx="63" cy="252.5" rx="5.5" ry="4.5" fill="url(#gcyan)" filter="url(#b05)"/>
<ellipse cx="58" cy="284.2" rx="7" ry="7.5" fill="url(#gcyan)" filter="url(#b05)"/>
</g>
<rect x="42.35" y="220.8" width="81.35" height="81.9" fill="none" stroke="#222" stroke-width="1.2"/>
<line x1="42.95" y1="302.7" x2="101.75" y2="302.7" stroke="url(#axg)" stroke-width="1.2"/>
<rect x="73.3" y="249.7" width="23.8" height="26.3" fill="none" stroke="#111" stroke-width="1.2"/>
<text x="100.6" y="268" font-size="9.3" text-anchor="start" fill="#222">61%</text>
<rect x="108.8" y="286.3" width="9.6" height="11.1" fill="#fff" stroke="#111" stroke-width="1.2"/>
<line x1="39.35" y1="224.4" x2="41.75" y2="224.4" stroke="#222" stroke-width="0.9"/>
<line x1="39.35" y1="250.6" x2="41.75" y2="250.6" stroke="#222" stroke-width="0.9"/>
<line x1="39.35" y1="277" x2="41.75" y2="277" stroke="#222" stroke-width="0.9"/>
<line x1="39.35" y1="299" x2="41.75" y2="299" stroke="#222" stroke-width="0.9"/>
<line x1="40.45" y1="228.13" x2="41.75" y2="228.13" stroke="#555" stroke-width="0.6"/>
<line x1="40.45" y1="230.87" x2="41.75" y2="230.87" stroke="#555" stroke-width="0.6"/>
<line x1="40.45" y1="233.1" x2="41.75" y2="233.1" stroke="#555" stroke-width="0.6"/>
<line x1="40.45" y1="234.97" x2="41.75" y2="234.97" stroke="#555" stroke-width="0.6"/>
<line x1="40.45" y1="240.56" x2="41.75" y2="240.56" stroke="#555" stroke-width="0.6"/>
<line x1="40.45" y1="243.3" x2="41.75" y2="243.3" stroke="#555" stroke-width="0.6"/>
<line x1="40.45" y1="245.54" x2="41.75" y2="245.54" stroke="#555" stroke-width="0.6"/>
<line x1="40.45" y1="247.4" x2="41.75" y2="247.4" stroke="#555" stroke-width="0.6"/>
<line x1="40.45" y1="253" x2="41.75" y2="253" stroke="#555" stroke-width="0.6"/>
<line x1="40.45" y1="255.73" x2="41.75" y2="255.73" stroke="#555" stroke-width="0.6"/>
<line x1="40.45" y1="257.97" x2="41.75" y2="257.97" stroke="#555" stroke-width="0.6"/>
<line x1="40.45" y1="259.84" x2="41.75" y2="259.84" stroke="#555" stroke-width="0.6"/>
<line x1="40.45" y1="265.43" x2="41.75" y2="265.43" stroke="#555" stroke-width="0.6"/>
<line x1="40.45" y1="268.17" x2="41.75" y2="268.17" stroke="#555" stroke-width="0.6"/>
<line x1="40.45" y1="270.4" x2="41.75" y2="270.4" stroke="#555" stroke-width="0.6"/>
<line x1="40.45" y1="272.27" x2="41.75" y2="272.27" stroke="#555" stroke-width="0.6"/>
<line x1="40.45" y1="277.86" x2="41.75" y2="277.86" stroke="#555" stroke-width="0.6"/>
<line x1="40.45" y1="280.6" x2="41.75" y2="280.6" stroke="#555" stroke-width="0.6"/>
<line x1="40.45" y1="282.84" x2="41.75" y2="282.84" stroke="#555" stroke-width="0.6"/>
<line x1="40.45" y1="284.7" x2="41.75" y2="284.7" stroke="#555" stroke-width="0.6"/>
<line x1="40.45" y1="290.3" x2="41.75" y2="290.3" stroke="#555" stroke-width="0.6"/>
<line x1="40.45" y1="293.03" x2="41.75" y2="293.03" stroke="#555" stroke-width="0.6"/>
<line x1="40.45" y1="295.27" x2="41.75" y2="295.27" stroke="#555" stroke-width="0.6"/>
<line x1="40.45" y1="297.13" x2="41.75" y2="297.13" stroke="#555" stroke-width="0.6"/>
<text x="35.2" y="227.3" font-size="8" text-anchor="end" fill="#1a1a1a">10</text>
<text x="35.3" y="225.3" font-size="4.6" fill="#1a1a1a">7</text>
<text x="35.2" y="252.17" font-size="8" text-anchor="end" fill="#1a1a1a">10</text>
<text x="35.3" y="250.17" font-size="4.6" fill="#1a1a1a">5</text>
<text x="35.2" y="277.03" font-size="8" text-anchor="end" fill="#1a1a1a">10</text>
<text x="35.3" y="275.03" font-size="4.6" fill="#1a1a1a">3</text>
<text x="35.2" y="300.8" font-size="8" text-anchor="end" fill="#1a1a1a">10</text>
<text x="35.3" y="298.8" font-size="4.6" fill="#1a1a1a">1</text>
<clipPath id="clip4"><rect x="41.75" y="303.3" width="82.55" height="81.5"/></clipPath>
<g clip-path="url(#clip4)">
<path d="M48.9 371.7h0M50.0 373.4h0M84.1 343.1h0M53.5 365.1h0M47.7 359.4h0M86.0 343.9h0M86.2 342.7h0M54.2 351.9h0M81.7 341.6h0M88.2 340.6h0M51.9 371.7h0M88.1 346.9h0M44.7 345.3h0M85.7 340.2h0M53.6 339.1h0M61.1 365.3h0M53.0 371.8h0M59.9 372.0h0M63.7 336.2h0M52.3 363.6h0M48.7 335.6h0M59.9 375.4h0M58.0 366.4h0M59.0 343.7h0M92.8 343.5h0M67.3 350.5h0M84.3 344.0h0M85.3 342.8h0M85.7 344.1h0M55.8 368.7h0M59.9 355.5h0M57.5 364.0h0M52.6 371.8h0M59.3 342.8h0M85.9 340.4h0M58.1 368.7h0M51.5 363.5h0M86.8 339.4h0M60.3 341.4h0M89.6 339.9h0M63.6 350.7h0M55.6 368.3h0M88.5 341.0h0M55.5 374.2h0M87.4 341.3h0M66.2 345.8h0M87.2 343.6h0M55.2 361.4h0M50.4 365.7h0M53.2 359.2h0M87.6 342.1h0M59.2 348.0h0M83.9 339.1h0M60.0 355.1h0M63.9 362.2h0M61.3 348.0h0M84.9 338.9h0M59.1 337.9h0M55.9 346.3h0M88.9 340.3h0M43.0 369.8h0M51.6 369.3h0M63.6 362.8h0M62.9 363.4h0M61.0 345.9h0M95.5 329.4h0M54.5 380.8h0M43.8 361.8h0M63.8 351.1h0M44.1 382.1h0M65.5 342.4h0M45.9 366.8h0M67.5 371.4h0M57.1 371.1h0M60.5 340.2h0M54.7 366.9h0M77.7 354.1h0M59.1 352.8h0M58.1 361.6h0M53.4 374.9h0M60.3 371.5h0M64.9 331.1h0M58.8 345.7h0M64.9 375.3h0M55.1 362.0h0M49.5 374.1h0M61.7 366.9h0M86.6 339.8h0M88.3 335.0h0M59.3 373.1h0M85.6 343.7h0M67.9 335.8h0M58.3 360.5h0M57.6 339.1h0M82.6 342.6h0M85.7 346.3h0M68.0 373.4h0M50.8 363.7h0M58.7 361.7h0M61.5 345.4h0M82.9 342.3h0M56.9 362.0h0M58.1 362.1h0M61.3 349.1h0M57.7 339.3h0M62.8 372.3h0M44.5 366.9h0M85.9 340.9h0M57.2 361.9h0M42.8 373.1h0M58.6 366.3h0M89.3 337.5h0M63.2 346.7h0M63.4 368.0h0M63.8 335.1h0M63.7 362.2h0M53.6 357.5h0M97.9 358.3h0M89.6 341.1h0M72.6 337.9h0M87.2 340.0h0M85.3 338.3h0M56.6 369.7h0M53.8 336.5h0M55.0 369.8h0M88.2 340.9h0M87.8 339.9h0M71.8 375.4h0M57.9 368.7h0M88.5 336.7h0M64.7 340.6h0M50.1 373.0h0M58.5 374.4h0M57.3 350.8h0M61.3 345.3h0M56.7 359.8h0M90.2 336.9h0M51.7 367.6h0M65.0 337.4h0M76.1 358.9h0M54.9 365.1h0M64.1 339.2h0M59.5 364.5h0M58.1 360.0h0M54.8 379.0h0M53.0 371.9h0M55.2 372.8h0M45.5 369.2h0M72.3 356.2h0M87.0 341.6h0M63.5 362.6h0M47.1 377.6h0M56.7 362.5h0M62.0 364.7h0M87.0 346.0h0M43.1 367.6h0M88.4 337.3h0M50.7 361.2h0M91.9 352.9h0M59.1 334.6h0M90.1 341.4h0M59.5 364.8h0M57.0 337.1h0M59.6 366.9h0M85.3 343.9h0M59.3 363.2h0M52.5 358.3h0M63.2 347.9h0M85.5 344.0h0M58.8 347.8h0M63.8 361.6h0M48.6 372.9h0M57.2 372.5h0M49.8 366.1h0M50.7 376.5h0M87.2 344.0h0M89.5 334.7h0M52.0 372.9h0M57.7 349.1h0M85.4 338.3h0M54.2 373.1h0M50.5 334.5h0M62.4 367.0h0M63.9 367.0h0M57.7 350.6h0M85.6 340.4h0M52.2 375.8h0M62.1 377.4h0M64.7 345.4h0M54.6 368.8h0M89.8 339.6h0M62.9 372.3h0M46.3 334.7h0M45.8 373.9h0M86.3 332.6h0M53.3 364.6h0M61.9 345.0h0M88.2 341.0h0M50.9 357.2h0M90.1 336.9h0M104.9 357.4h0M69.4 373.7h0M88.3 338.2h0M87.9 339.3h0M63.2 352.1h0M57.6 366.2h0M59.9 335.0h0M79.3 377.5h0M87.1 342.9h0M54.6 365.4h0M64.4 343.2h0M62.1 376.0h0M53.4 338.9h0M61.6 373.1h0M84.0 340.9h0M51.6 362.0h0M56.8 364.6h0M53.5 364.3h0M62.4 377.1h0M85.7 340.8h0M49.4 362.8h0M62.7 336.7h0M61.2 358.9h0M43.9 354.0h0M65.5 371.8h0M50.5 360.6h0M87.2 341.3h0M67.8 359.7h0M58.9 334.9h0M56.1 348.6h0M60.7 366.8h0M60.1 333.7h0M48.4 356.9h0M56.9 371.1h0M86.1 336.3h0M57.5 357.7h0M91.4 339.4h0M74.2 361.0h0M54.4 369.7h0M55.5 371.9h0M85.4 338.9h0M61.8 335.3h0M49.6 379.8h0M87.3 340.2h0M58.2 345.9h0M60.2 332.9h0M65.9 373.4h0M45.4 367.4h0M60.4 377.4h0M61.0 349.2h0M64.8 348.7h0M87.7 341.6h0M59.0 375.0h0M61.7 334.8h0M88.4 344.2h0M62.7 362.5h0M88.3 340.1h0M61.7 368.2h0M85.7 340.5h0M57.7 381.0h0M88.1 338.9h0M86.2 343.0h0M58.6 337.3h0M73.4 353.1h0M49.5 366.3h0M89.5 338.1h0M50.7 369.4h0M55.6 337.7h0M89.8 340.3h0M80.5 358.4h0M60.6 363.8h0M55.7 378.8h0M60.9 361.4h0M87.0 339.1h0M44.4 345.9h0M54.8 360.0h0M65.5 337.2h0M44.6 377.8h0M59.7 371.7h0M61.0 368.6h0M59.5 378.7h0M84.9 335.8h0M55.1 363.0h0M64.4 368.2h0M60.7 360.6h0M63.1 377.0h0M61.2 335.6h0M44.0 363.4h0M65.6 368.1h0M91.1 342.0h0M66.0 365.2h0M87.9 338.7h0M65.7 370.8h0M57.8 348.1h0M58.0 362.6h0M56.4 372.7h0M60.5 334.4h0M85.0 341.2h0M91.0 339.1h0M87.1 341.2h0M60.7 363.5h0M55.7 375.3h0M56.8 361.9h0M91.3 336.2h0M66.9 364.9h0M86.3 346.9h0M63.7 366.1h0M54.8 369.6h0M60.7 369.9h0M87.7 338.0h0M55.3 375.0h0M62.4 331.8h0M85.0 342.6h0M55.2 341.3h0M57.6 376.2h0M62.1 350.2h0M60.9 334.1h0M45.1 379.9h0M61.5 344.4h0M85.7 346.7h0M89.0 335.4h0M57.3 372.3h0M56.8 366.0h0M87.4 340.9h0M86.8 333.3h0M110.4 370.0h0M57.1 368.3h0M57.9 330.9h0M87.6 376.1h0M63.7 370.6h0M61.0 372.7h0M58.5 365.0h0M58.0 372.9h0M83.8 349.7h0M65.7 362.6h0M58.2 368.2h0M56.3 350.0h0M64.1 365.1h0M61.2 341.4h0M58.2 329.7h0M85.9 339.0h0M87.2 337.4h0M57.6 339.7h0M81.1 338.1h0M61.3 369.8h0M59.3 372.3h0M89.7 338.5h0M87.5 346.2h0M87.7 339.2h0M65.8 349.9h0M62.9 333.8h0M62.7 331.8h0M84.0 339.1h0M60.2 379.1h0M56.6 371.6h0M62.4 362.3h0M63.5 335.0h0M90.1 343.3h0M50.6 370.0h0M88.6 338.9h0M59.2 366.6h0M87.9 339.9h0M61.5 374.3h0M61.3 336.2h0M55.0 371.8h0M59.2 351.0h0M61.6 372.0h0M59.1 352.9h0M55.9 365.9h0M55.3 371.6h0M82.0 344.0h0M52.9 378.8h0M65.2 369.1h0M88.3 340.8h0M44.4 351.5h0M60.2 338.3h0M86.0 340.3h0M45.7 373.0h0M58.2 344.4h0M53.7 358.8h0M58.5 369.7h0M58.5 335.7h0M55.1 368.9h0M56.7 366.2h0M46.9 377.1h0M61.3 347.5h0M89.1 337.8h0M63.5 331.7h0M61.0 345.5h0M60.0 338.2h0M57.0 340.4h0M62.6 369.5h0M52.9 356.8h0M66.5 344.4h0M87.4 340.3h0M46.0 364.2h0M50.5 365.6h0M60.0 346.1h0M56.9 366.3h0M66.5 346.0h0M51.1 370.5h0M50.1 381.4h0M55.5 370.8h0M88.3 344.0h0M87.2 342.4h0M87.2 336.1h0M88.8 338.5h0M60.5 358.3h0M51.9 370.2h0M57.6 359.8h0M50.6 345.5h0M52.7 368.5h0M57.0 375.2h0M89.3 340.0h0M91.9 340.9h0M57.0 330.5h0M88.3 340.7h0M87.7 342.4h0M86.9 350.6h0M81.3 344.5h0M67.3 338.8h0M60.9 365.3h0M57.9 378.5h0M63.0 372.7h0M59.3 357.4h0M61.1 335.2h0M56.1 373.2h0M57.5 365.6h0M58.2 370.6h0M56.7 369.1h0M66.1 366.9h0M87.6 339.3h0M55.1 365.9h0M84.7 340.7h0M55.4 357.4h0M61.7 349.5h0M48.5 378.2h0M87.4 339.1h0M89.6 343.9h0M56.2 364.5h0M90.9 341.1h0M57.4 366.1h0M85.6 338.4h0M51.6 366.8h0M53.2 347.7h0M52.3 365.5h0M58.5 335.3h0M59.0 371.6h0M58.9 336.7h0M53.9 372.9h0M87.4 341.0h0M56.4 340.9h0M81.5 356.0h0M59.1 364.7h0M87.0 334.2h0M52.7 365.6h0M68.9 336.2h0M51.6 367.1h0M58.7 334.6h0M47.7 335.0h0M59.9 373.7h0M53.0 368.4h0M75.3 334.0h0M57.6 357.9h0M50.9 378.6h0M48.5 341.8h0M61.3 363.0h0M83.1 340.6h0M80.7 374.4h0M65.6 369.4h0M60.3 365.2h0M54.3 347.2h0M62.6 363.3h0M63.3 340.1h0M52.5 376.7h0M64.3 366.8h0M50.5 376.0h0M51.1 361.6h0M57.5 370.5h0M52.8 368.9h0M59.5 363.6h0M62.2 345.7h0M46.4 353.0h0M69.2 338.6h0M54.3 364.1h0M43.2 337.2h0M64.4 364.5h0M90.4 339.0h0M89.7 337.7h0M87.0 343.3h0M57.5 368.6h0M52.0 368.4h0M88.1 336.8h0M85.7 338.5h0M53.5 373.2h0M62.7 339.1h0M54.3 370.0h0M82.3 344.2h0M63.5 350.1h0M89.7 336.9h0M48.4 372.9h0M43.9 370.3h0M111.3 361.3h0M50.0 377.3h0M56.8 333.4h0M86.2 340.2h0M67.1 332.5h0M57.2 371.5h0M69.1 361.9h0M53.7 367.2h0M54.8 352.5h0M60.4 358.7h0M56.5 360.5h0M87.3 340.8h0M58.4 358.1h0M57.9 349.9h0M49.5 369.6h0M55.3 359.6h0M57.3 342.4h0M85.5 340.9h0M84.4 343.8h0M57.7 332.0h0M90.6 337.5h0M76.9 357.3h0M43.3 367.5h0M47.0 369.6h0" stroke="#7f90ff" stroke-width="0.65" stroke-linecap="round" opacity="0.8"/>
<path d="M56.5 377.5h0M66.7 360.4h0M61.2 333.4h0M56.1 338.7h0M84.4 344.2h0M53.0 372.5h0M68.7 369.7h0M56.9 336.5h0M56.6 357.6h0M58.5 335.6h0M50.0 364.8h0M62.6 342.0h0M52.2 374.6h0M52.5 372.7h0M45.6 364.8h0M86.6 340.5h0M67.3 366.6h0M87.3 332.3h0M48.6 372.7h0M91.6 336.9h0M84.8 336.4h0M87.4 341.5h0M64.5 331.4h0M59.3 337.8h0M59.2 374.2h0M62.8 368.0h0M89.2 344.5h0M56.1 374.1h0M59.1 362.7h0M70.2 362.7h0M85.1 346.7h0M42.8 371.7h0M57.8 365.2h0M65.2 339.2h0M64.5 332.2h0M62.8 353.4h0M67.6 368.5h0M62.6 367.1h0M92.3 339.7h0M88.4 335.3h0M69.1 359.1h0M46.9 365.7h0M63.7 373.5h0M86.0 332.8h0M86.2 333.2h0M65.1 344.3h0M87.4 338.5h0M62.1 364.9h0M47.2 374.1h0M43.9 356.6h0M84.6 338.3h0M88.1 338.8h0M88.1 343.2h0M50.5 363.3h0M59.1 365.3h0M58.5 363.7h0M78.1 336.4h0M44.2 378.9h0M87.1 346.0h0M64.6 361.7h0M60.4 349.5h0M92.0 340.1h0M65.2 330.5h0M55.4 370.2h0M89.1 341.7h0M56.4 366.3h0M47.9 366.6h0M60.3 377.9h0M64.3 366.4h0M78.8 350.5h0M86.1 342.9h0M88.5 345.4h0M88.5 344.5h0M42.9 363.8h0M85.4 340.1h0M54.9 337.9h0M62.8 361.6h0M52.3 363.7h0M59.3 372.0h0M64.0 359.8h0M43.2 379.0h0M89.1 344.7h0M71.3 361.2h0M55.4 334.4h0M42.9 358.3h0M85.1 347.1h0M51.6 361.8h0M61.1 337.1h0M60.1 375.9h0M58.8 346.3h0M59.8 366.6h0M94.9 366.6h0M87.2 339.4h0M54.2 341.4h0M49.5 365.5h0M52.8 366.7h0M45.4 371.4h0M62.4 356.8h0M91.0 342.9h0M70.3 338.5h0M56.9 368.7h0M58.5 355.9h0M81.9 338.5h0M85.5 339.9h0M57.0 357.3h0M61.2 366.1h0M60.6 338.6h0M55.4 372.4h0M59.4 373.5h0M48.7 370.3h0M58.6 372.2h0M60.6 380.4h0M61.1 345.4h0M61.1 370.9h0M44.2 373.2h0M61.1 366.2h0M60.9 367.8h0M49.2 355.2h0M56.0 362.8h0M50.7 378.5h0M81.8 337.0h0M84.5 339.3h0M62.3 347.9h0M88.9 340.5h0M59.0 362.4h0M53.0 367.1h0M48.8 374.0h0M59.8 339.8h0M54.4 351.2h0M61.3 374.7h0M50.7 377.0h0M57.3 361.4h0M87.6 338.4h0M63.8 372.1h0M86.2 344.7h0M54.7 360.9h0M52.4 354.4h0M44.1 379.5h0M85.2 345.9h0M74.2 360.3h0M80.7 353.6h0M60.0 363.6h0M73.1 362.2h0M45.1 368.9h0M62.9 368.2h0M53.3 371.4h0M55.3 336.8h0M42.9 364.8h0M59.3 371.0h0M88.7 342.8h0M60.3 364.8h0M85.1 346.2h0M64.5 335.5h0M86.5 339.4h0M62.1 340.6h0M88.7 339.2h0M62.6 350.0h0M61.3 336.2h0M62.8 343.2h0M66.0 356.9h0M62.1 369.9h0M50.8 359.3h0M58.3 361.9h0M62.5 357.7h0M88.1 343.6h0M62.8 377.3h0M59.9 374.6h0M74.2 357.0h0M87.9 347.0h0M82.1 341.1h0M44.3 342.9h0M90.0 337.5h0M87.6 339.3h0M43.8 365.9h0M60.0 342.1h0M87.0 342.2h0M85.1 335.8h0M49.5 365.8h0M86.8 339.6h0M84.4 340.0h0M65.9 371.5h0M85.0 339.5h0M46.6 366.0h0M58.7 373.1h0M66.3 360.0h0M61.7 336.6h0M62.7 338.4h0M60.7 338.4h0M89.3 345.5h0M53.9 369.0h0M55.5 339.6h0M60.9 339.0h0M59.9 336.0h0M63.6 340.2h0M86.7 340.6h0M59.6 365.1h0M43.4 369.2h0M43.4 349.1h0M87.8 339.4h0M60.1 337.7h0M45.0 334.2h0M52.5 336.5h0M62.9 363.0h0M89.1 340.0h0M49.2 342.0h0M88.2 347.5h0M60.5 364.7h0M91.5 340.6h0M58.2 372.9h0M86.6 341.5h0M59.5 357.5h0M50.1 369.6h0M85.8 344.6h0M63.2 363.8h0M63.5 334.8h0M59.4 370.7h0M67.4 363.9h0M60.9 366.4h0M63.5 362.1h0M58.1 366.5h0M86.8 339.9h0M52.7 363.8h0M64.4 372.5h0M85.7 340.8h0M56.4 339.8h0M43.4 376.6h0M82.4 345.4h0M88.0 342.4h0M52.9 369.4h0M43.1 381.0h0M53.5 338.9h0M83.4 340.7h0M86.3 338.7h0M86.4 339.7h0M47.2 337.0h0M86.0 343.9h0M44.3 367.8h0M122.0 372.8h0M49.6 375.9h0M87.5 341.7h0M56.4 343.2h0M63.8 340.2h0M48.0 361.1h0M62.9 370.3h0M63.1 350.2h0M56.9 371.7h0M68.4 340.7h0M48.0 376.6h0M56.8 336.8h0M57.6 342.4h0M72.0 360.6h0M58.3 335.0h0M84.7 340.3h0M66.6 371.3h0M57.7 369.8h0M79.4 358.3h0M61.5 372.3h0M62.7 365.5h0M43.9 361.3h0M61.3 368.7h0M72.1 336.5h0M47.0 375.8h0M89.9 337.4h0M90.3 334.0h0M61.3 346.3h0M55.6 362.7h0M53.4 342.7h0M80.6 354.3h0M58.2 335.1h0M45.9 348.6h0M52.4 376.1h0M88.7 340.7h0M87.9 333.8h0M89.1 337.6h0M43.7 340.9h0M86.5 338.8h0M62.3 337.4h0M84.1 334.7h0M69.5 332.9h0M88.1 346.1h0M62.4 347.1h0M58.4 356.3h0M69.6 360.8h0M84.6 335.2h0M57.4 340.1h0M85.4 336.5h0M43.2 380.9h0M86.2 338.8h0M47.9 367.0h0M65.5 357.9h0M63.4 368.9h0M47.7 375.4h0M67.5 364.7h0M63.9 339.5h0M43.6 363.8h0M45.7 332.1h0M67.2 340.3h0M59.7 360.6h0M59.3 331.1h0M66.2 375.1h0M58.4 362.3h0M57.2 334.4h0M85.2 336.5h0M46.6 338.7h0M61.3 374.0h0M67.8 334.7h0M86.8 340.2h0M56.2 347.2h0M63.8 364.7h0M56.4 334.7h0M44.8 362.7h0M62.6 333.5h0M57.2 364.8h0M63.4 367.0h0M84.5 337.9h0M51.8 370.7h0M53.4 344.0h0M64.1 348.4h0M48.9 370.0h0M89.1 338.1h0M85.7 335.6h0M57.8 346.8h0M61.3 362.7h0M65.4 374.6h0M48.6 375.5h0M64.2 366.8h0M84.4 339.9h0M54.7 370.9h0M65.9 363.7h0M68.7 360.2h0M59.6 359.8h0M43.4 349.0h0M47.1 372.4h0M57.7 374.7h0M75.1 363.2h0M60.2 355.0h0M48.8 371.1h0M57.3 334.7h0M58.4 339.1h0M62.0 346.9h0M63.6 348.3h0M50.6 367.9h0M55.5 348.8h0M87.4 338.3h0M86.4 334.3h0M69.4 362.6h0M54.4 371.9h0M50.3 379.5h0M53.9 366.4h0M47.2 366.4h0M59.1 369.2h0M54.2 367.0h0M59.3 371.5h0M53.9 370.5h0M88.2 339.7h0M89.4 343.0h0M61.6 380.4h0M60.1 365.3h0M84.9 343.9h0M66.2 337.3h0M62.7 329.6h0M59.0 368.8h0M45.3 352.2h0M66.8 361.9h0M59.3 374.2h0M84.6 339.4h0M60.2 372.3h0M55.7 357.7h0M52.6 340.0h0M62.8 338.1h0M85.4 345.6h0M86.3 343.8h0M56.7 365.6h0M67.2 331.8h0M90.4 339.3h0M56.0 372.8h0M63.1 363.1h0M103.2 353.7h0M51.9 369.0h0M69.4 364.2h0M60.6 342.7h0M64.0 357.9h0M61.1 355.0h0M59.1 335.8h0M47.8 366.2h0M60.1 331.6h0M55.6 364.9h0M54.2 376.6h0M54.6 343.2h0M90.8 338.3h0M64.9 363.7h0M91.9 336.8h0M62.8 339.8h0M62.7 347.3h0M58.2 353.1h0M56.3 332.6h0M60.3 336.2h0M83.9 340.2h0M45.7 367.2h0M63.8 337.1h0M54.4 364.7h0M89.2 341.6h0M50.6 370.2h0M52.6 362.3h0M51.6 369.6h0M62.8 343.0h0M61.5 331.9h0M63.5 367.6h0M57.0 340.6h0M59.3 355.8h0M57.3 360.9h0M62.8 343.8h0M85.6 336.8h0M54.2 368.1h0M86.4 339.7h0M60.0 362.9h0M58.7 365.0h0M89.1 337.1h0M62.0 377.2h0M57.5 359.2h0M55.6 366.7h0M56.4 342.3h0M58.5 334.6h0M55.3 370.3h0M46.8 367.9h0M85.5 343.0h0M64.2 348.6h0M89.0 335.9h0M57.7 363.0h0M86.3 343.2h0M115.2 331.3h0M57.5 336.2h0M87.4 340.6h0M50.8 363.4h0M71.1 363.7h0M49.6 376.3h0M50.6 375.3h0M85.7 336.3h0M46.5 370.1h0M66.3 332.7h0M88.2 341.4h0M85.4 343.4h0M55.1 336.9h0M51.0 337.9h0M56.1 367.7h0M55.1 368.5h0M65.3 364.3h0M59.7 369.9h0M57.6 345.6h0M50.6 374.1h0M63.0 339.5h0M62.4 344.6h0M81.4 352.2h0M65.2 334.1h0M89.4 339.8h0M52.2 358.2h0M56.7 369.3h0M85.0 342.3h0M52.8 332.0h0M57.6 341.0h0M44.7 352.3h0M56.8 366.8h0M58.4 370.9h0M58.2 344.1h0M50.8 347.0h0M61.0 331.4h0M45.8 370.3h0M49.9 371.9h0M62.8 371.0h0M57.3 370.1h0M85.9 338.9h0M45.9 378.3h0M55.0 347.4h0M90.3 339.8h0M90.2 342.5h0M69.6 361.4h0M65.4 335.5h0M107.6 365.2h0M62.1 351.6h0M66.4 371.0h0M53.8 370.4h0M45.8 371.3h0M60.0 366.0h0M57.2 365.2h0M54.0 368.9h0M60.0 340.4h0M59.8 371.9h0M86.0 342.4h0M59.7 349.7h0M48.3 373.5h0M91.7 345.5h0M88.4 342.4h0M58.6 377.2h0M56.4 374.8h0M65.4 355.7h0M69.3 341.3h0M86.8 343.8h0M91.2 338.4h0M58.6 347.6h0M62.0 367.4h0M57.0 370.0h0M51.7 357.7h0M62.3 375.3h0M47.7 370.6h0M50.3 363.0h0M65.7 339.5h0M45.0 378.1h0M45.2 366.9h0M52.3 341.3h0M83.1 342.7h0M63.4 362.4h0M58.4 369.3h0M84.5 338.4h0M49.7 374.3h0M53.7 339.0h0M64.4 332.6h0M88.7 340.6h0M86.9 334.7h0M57.0 374.4h0M44.2 329.9h0M66.7 372.2h0M56.6 364.0h0M62.3 359.4h0M44.3 366.0h0M65.0 336.5h0M58.7 341.5h0M64.2 363.1h0M53.2 367.7h0M44.1 372.7h0M61.0 372.3h0M56.4 366.4h0M50.9 368.5h0M86.9 340.4h0M85.5 340.2h0M85.2 338.6h0M62.5 336.5h0M61.4 353.3h0M60.7 367.3h0M84.3 337.8h0M65.1 372.3h0M59.1 370.8h0M86.4 336.4h0M53.3 363.8h0M45.1 348.0h0M58.0 370.0h0M88.4 340.1h0M45.3 359.4h0M52.8 340.4h0M44.5 370.4h0M66.5 353.6h0M54.5 367.3h0M55.1 380.2h0M84.8 337.3h0M54.2 367.1h0M47.5 354.9h0M74.3 353.9h0M61.9 364.0h0M59.2 364.1h0M84.1 337.4h0M43.0 335.6h0M75.2 358.5h0M78.5 362.7h0M117.7 341.4h0M62.0 342.7h0M60.9 351.9h0M52.1 372.2h0M91.3 337.8h0M78.2 359.5h0M66.6 371.4h0M62.8 365.6h0M89.7 335.6h0M55.7 334.2h0M51.8 370.5h0M59.7 354.5h0M88.3 337.1h0M71.8 360.8h0M67.5 341.5h0M59.8 348.4h0M51.5 371.6h0M92.9 341.1h0M61.1 375.5h0M55.1 370.6h0M64.8 369.4h0M66.7 365.7h0M88.1 341.0h0M46.5 369.0h0M53.5 368.2h0M64.7 348.4h0M50.4 376.0h0M58.6 366.9h0M53.7 362.7h0M87.8 335.7h0M60.3 378.7h0M48.9 370.5h0M52.9 372.9h0M56.7 367.1h0M56.5 350.7h0M66.5 371.1h0M60.6 371.7h0M53.0 367.8h0M54.8 371.3h0M87.7 336.2h0M55.7 343.3h0M62.6 362.1h0M57.3 335.8h0M62.5 339.5h0M52.6 366.8h0M57.0 373.4h0M86.6 339.2h0M56.2 367.2h0M58.2 338.4h0M88.2 340.1h0M85.0 339.6h0M57.0 349.4h0M44.5 365.6h0M104.9 348.4h0M89.0 340.8h0M63.3 336.1h0M86.4 341.6h0M57.6 368.6h0M87.1 338.1h0M89.8 342.6h0M55.3 377.5h0M60.0 374.8h0M57.4 333.9h0M85.1 339.7h0M65.9 351.2h0M87.6 343.5h0M44.2 374.5h0M61.4 374.2h0M55.9 371.0h0M90.7 340.1h0M57.2 369.6h0M53.3 374.8h0M58.4 364.4h0M59.4 368.9h0M85.6 344.7h0M86.1 339.3h0M81.3 357.9h0M64.8 369.7h0M62.8 359.7h0M61.2 336.8h0M84.4 334.7h0M44.0 378.7h0M64.4 339.5h0M60.0 362.5h0M47.2 349.0h0M50.3 369.2h0M51.9 356.2h0M84.4 344.1h0M84.8 338.3h0M52.2 363.6h0M52.2 370.9h0M64.7 333.3h0M43.5 343.6h0M56.7 366.2h0M58.3 372.4h0M49.2 372.1h0M54.8 367.6h0M58.7 364.4h0M85.9 341.2h0M77.4 353.4h0M66.1 371.8h0M62.2 362.1h0M57.6 362.8h0M52.7 362.7h0M86.9 346.5h0M66.1 363.1h0M57.9 338.5h0M65.4 333.2h0M51.2 377.0h0M53.9 360.2h0M55.8 331.1h0M57.6 372.2h0M50.3 364.3h0M88.6 338.9h0M54.4 362.8h0M56.5 363.3h0M56.6 335.3h0M84.2 342.5h0M58.6 370.7h0M58.0 366.2h0M52.9 379.2h0M56.9 366.8h0M114.0 329.9h0M60.0 344.5h0M58.8 338.1h0M59.0 371.8h0M48.9 358.4h0M90.4 338.8h0M55.5 373.9h0M87.4 337.4h0M45.7 355.3h0M56.6 366.5h0M56.5 340.1h0M57.8 370.7h0M48.4 363.3h0M63.1 375.1h0M60.1 352.0h0M59.7 364.3h0M82.1 334.5h0M84.6 338.0h0M55.0 372.4h0M84.8 346.3h0M60.2 328.1h0M57.4 361.5h0M57.6 361.5h0M43.7 364.7h0M49.3 365.1h0M56.1 371.5h0M58.5 368.3h0M71.6 347.3h0M61.9 337.0h0M58.2 360.2h0M59.9 358.4h0M89.3 340.9h0M43.0 336.5h0M68.9 362.5h0M58.5 367.2h0M89.0 342.8h0M48.8 366.3h0M56.1 339.5h0M90.3 336.3h0M50.1 374.0h0M56.9 374.1h0M62.6 341.4h0M49.3 355.8h0M45.5 373.9h0M48.4 371.7h0M69.9 368.3h0M61.7 338.3h0M77.1 374.6h0M53.1 368.0h0M85.8 343.7h0M59.5 370.3h0M88.0 342.0h0M89.1 341.4h0M60.5 366.9h0M61.5 348.8h0M46.9 364.1h0M55.0 372.8h0M57.1 359.5h0M60.8 361.0h0M55.5 359.1h0M87.7 335.4h0M52.7 372.3h0M54.9 370.7h0M62.7 368.7h0M57.7 369.2h0M61.1 352.3h0M53.3 362.7h0M44.1 363.9h0M59.4 361.8h0M87.0 337.1h0M48.4 359.4h0M87.4 337.7h0M58.0 382.5h0M63.5 335.4h0M88.6 339.3h0M60.5 348.6h0M57.7 364.6h0M64.0 328.8h0M55.0 373.1h0M51.6 372.1h0M85.8 341.3h0M61.0 374.4h0M109.8 350.4h0M63.4 340.1h0M59.4 344.5h0M93.9 343.7h0M48.9 333.0h0M113.0 346.0h0M55.2 373.8h0M63.1 362.8h0M43.6 377.1h0M85.9 338.8h0M56.0 370.8h0M63.5 347.5h0M58.9 365.3h0M51.6 350.5h0M45.3 365.3h0M86.8 341.2h0M64.7 365.7h0M50.4 380.2h0M49.7 367.4h0M61.0 345.5h0M89.1 336.8h0M56.9 339.9h0M65.1 352.2h0M70.9 367.0h0M65.8 336.9h0M89.5 342.8h0M50.8 368.3h0M72.3 361.3h0M80.4 331.0h0M60.0 331.9h0M58.5 344.9h0M88.2 338.6h0M88.5 341.5h0M57.3 373.9h0M86.4 344.1h0M56.6 361.1h0M54.5 357.7h0M63.5 367.3h0M46.6 381.7h0M60.4 344.7h0M63.6 339.3h0M62.0 363.7h0M56.7 374.1h0M46.1 334.7h0M88.5 340.2h0M92.3 343.4h0M83.7 336.1h0M65.6 340.3h0M59.7 382.4h0M84.8 341.0h0M64.6 337.4h0M83.8 335.1h0M53.4 367.2h0M43.5 365.3h0M51.6 334.4h0M70.7 361.4h0M56.2 339.6h0M61.7 360.6h0M55.6 365.6h0M47.1 383.3h0M64.0 342.4h0M57.3 338.1h0M52.9 366.7h0M43.3 373.6h0M85.9 337.8h0M83.7 336.4h0M107.7 357.1h0M60.4 345.0h0M51.6 362.3h0M54.3 345.0h0M52.1 373.2h0M64.8 340.0h0M54.2 335.2h0M88.8 336.7h0M54.8 364.1h0M91.8 338.6h0M44.2 331.4h0M51.9 374.9h0M50.8 374.2h0M88.2 347.0h0M58.8 351.4h0M52.9 367.1h0M64.9 350.2h0M48.0 371.2h0M58.3 338.4h0M49.3 363.2h0M57.1 370.5h0M46.7 375.2h0M61.6 343.2h0M53.3 364.3h0M65.6 337.1h0M61.8 337.7h0M54.3 361.7h0M83.0 347.1h0M88.0 336.1h0M56.8 363.1h0M64.9 367.0h0M62.1 359.8h0M47.6 369.3h0M58.5 376.9h0M61.7 367.6h0M58.3 330.6h0M57.4 335.7h0M59.0 358.1h0M83.5 338.5h0M57.6 362.9h0M62.1 346.7h0M58.5 366.1h0M69.7 365.9h0M58.6 335.9h0M65.3 337.0h0M44.1 374.8h0M45.5 340.6h0M85.5 341.3h0M63.5 373.8h0M49.2 368.0h0M83.1 340.9h0M57.7 373.9h0M55.3 373.6h0M46.5 360.8h0M61.1 332.8h0M56.8 359.9h0M63.5 334.6h0M83.7 345.1h0M85.1 338.4h0M62.0 331.6h0M55.5 346.5h0M61.1 374.9h0M68.4 371.1h0M87.1 336.5h0M85.9 342.6h0M84.7 339.4h0M57.8 344.2h0M56.7 360.7h0M59.5 340.0h0M48.1 369.5h0M83.9 339.9h0M43.7 333.5h0M61.0 373.0h0M47.7 368.7h0M92.9 338.8h0M60.3 364.2h0M59.8 360.4h0M87.9 335.4h0M47.0 366.4h0M57.1 348.8h0M45.0 367.0h0M108.9 331.1h0M62.2 367.4h0M88.7 345.3h0M44.4 373.7h0M83.6 336.4h0M70.3 337.2h0M89.5 335.7h0M62.3 361.8h0M85.7 340.8h0M55.7 374.8h0M63.1 335.7h0M83.0 345.7h0M88.7 339.6h0M87.2 336.6h0M90.8 336.3h0M45.8 377.2h0M98.2 352.3h0M64.0 335.0h0M88.4 339.5h0M49.4 337.5h0M58.0 371.0h0M68.1 337.4h0M60.8 340.7h0M85.1 344.0h0M86.3 342.2h0M58.8 338.8h0M55.8 333.5h0M63.1 366.5h0M56.8 368.4h0M75.9 356.1h0M64.9 341.7h0M108.4 361.1h0M54.4 373.3h0M72.9 335.7h0M54.0 334.7h0M67.6 361.5h0M57.0 369.2h0M51.6 360.0h0M43.0 377.7h0M55.8 351.5h0M57.0 338.8h0M59.6 368.8h0M51.3 339.1h0M74.8 360.1h0M85.8 340.2h0M57.7 364.5h0M83.5 344.2h0M55.4 348.9h0M49.4 363.4h0M84.9 336.3h0M57.3 367.9h0M59.3 372.2h0M56.9 360.1h0M59.1 375.0h0M87.7 340.1h0M85.5 339.4h0M58.1 358.7h0M86.5 342.1h0M66.8 338.6h0M52.5 373.3h0M55.9 362.4h0M52.9 382.8h0M83.7 347.7h0M63.3 341.4h0M92.9 344.8h0M48.7 354.1h0M44.1 376.3h0M64.6 341.8h0M56.8 365.3h0M44.1 382.8h0M58.2 363.8h0M61.5 350.1h0M60.2 366.4h0M59.2 374.8h0M44.3 369.9h0M76.3 355.0h0M87.5 340.3h0M58.0 379.8h0M59.9 360.2h0M87.0 340.9h0M56.2 343.9h0M47.1 363.9h0M55.9 361.3h0M59.1 368.3h0M56.8 375.4h0M67.3 365.7h0M91.6 335.7h0M67.7 337.1h0M44.7 357.6h0M54.7 366.0h0M57.8 354.3h0M60.8 368.3h0M60.4 364.4h0M84.9 342.0h0M56.5 367.4h0M64.2 371.5h0M66.7 380.2h0M83.6 334.1h0M45.9 368.3h0M108.7 364.7h0M50.4 370.8h0M106.4 362.9h0M86.3 342.7h0M54.7 370.0h0M59.2 333.8h0M59.6 365.3h0M58.8 381.5h0M61.5 366.5h0M53.3 377.4h0M57.4 336.0h0M55.7 365.4h0M49.8 370.1h0M56.7 366.0h0M67.1 333.9h0M90.5 341.4h0M64.6 334.1h0M52.0 370.3h0M52.0 360.6h0M55.9 367.2h0M61.2 335.9h0M50.5 357.2h0M55.0 335.6h0M89.5 343.1h0M70.6 330.9h0M53.8 367.3h0M59.9 361.3h0M91.7 341.3h0M89.4 343.1h0M54.9 369.1h0M44.5 370.3h0M59.7 361.9h0M60.9 349.3h0M61.7 333.2h0M58.9 335.4h0M62.0 372.6h0M42.8 367.4h0M57.0 374.5h0M67.6 353.9h0M87.3 337.2h0M85.5 339.3h0M66.0 375.6h0" stroke="#2440ff" stroke-width="0.7" stroke-linecap="round" opacity="0.85"/>
<ellipse cx="86.9" cy="340.2" rx="5.6" ry="6.8" fill="url(#gcore)" filter="url(#b05)"/>
<ellipse cx="58.8" cy="367" rx="8" ry="10" fill="url(#ggreen)" filter="url(#b05)"/>
</g>
<path d="M42.35 303.3 V384.2 H123.7 V303.3" fill="none" stroke="#222" stroke-width="1.2"/>
<line x1="42.95" y1="384.2" x2="101.75" y2="384.2" stroke="url(#axg)" stroke-width="1.2"/>
<rect x="75" y="326" width="23.1" height="26.3" fill="none" stroke="#111" stroke-width="1.2"/>
<text x="101.5" y="344.7" font-size="9.3" text-anchor="start" fill="#222">21%</text>
<rect x="108.4" y="369.2" width="9.6" height="10.6" fill="#0000ff" stroke="#111" stroke-width="1.2"/>
<line x1="39.35" y1="308.7" x2="41.75" y2="308.7" stroke="#222" stroke-width="0.9"/>
<line x1="39.35" y1="333" x2="41.75" y2="333" stroke="#222" stroke-width="0.9"/>
<line x1="39.35" y1="358.6" x2="41.75" y2="358.6" stroke="#222" stroke-width="0.9"/>
<line x1="39.35" y1="383.3" x2="41.75" y2="383.3" stroke="#222" stroke-width="0.9"/>
<line x1="40.45" y1="312.43" x2="41.75" y2="312.43" stroke="#555" stroke-width="0.6"/>
<line x1="40.45" y1="315.17" x2="41.75" y2="315.17" stroke="#555" stroke-width="0.6"/>
<line x1="40.45" y1="317.4" x2="41.75" y2="317.4" stroke="#555" stroke-width="0.6"/>
<line x1="40.45" y1="319.27" x2="41.75" y2="319.27" stroke="#555" stroke-width="0.6"/>
<line x1="40.45" y1="324.86" x2="41.75" y2="324.86" stroke="#555" stroke-width="0.6"/>
<line x1="40.45" y1="327.6" x2="41.75" y2="327.6" stroke="#555" stroke-width="0.6"/>
<line x1="40.45" y1="329.84" x2="41.75" y2="329.84" stroke="#555" stroke-width="0.6"/>
<line x1="40.45" y1="331.7" x2="41.75" y2="331.7" stroke="#555" stroke-width="0.6"/>
<line x1="40.45" y1="337.3" x2="41.75" y2="337.3" stroke="#555" stroke-width="0.6"/>
<line x1="40.45" y1="340.03" x2="41.75" y2="340.03" stroke="#555" stroke-width="0.6"/>
<line x1="40.45" y1="342.27" x2="41.75" y2="342.27" stroke="#555" stroke-width="0.6"/>
<line x1="40.45" y1="344.13" x2="41.75" y2="344.13" stroke="#555" stroke-width="0.6"/>
<line x1="40.45" y1="349.73" x2="41.75" y2="349.73" stroke="#555" stroke-width="0.6"/>
<line x1="40.45" y1="352.47" x2="41.75" y2="352.47" stroke="#555" stroke-width="0.6"/>
<line x1="40.45" y1="354.7" x2="41.75" y2="354.7" stroke="#555" stroke-width="0.6"/>
<line x1="40.45" y1="356.57" x2="41.75" y2="356.57" stroke="#555" stroke-width="0.6"/>
<line x1="40.45" y1="362.16" x2="41.75" y2="362.16" stroke="#555" stroke-width="0.6"/>
<line x1="40.45" y1="364.9" x2="41.75" y2="364.9" stroke="#555" stroke-width="0.6"/>
<line x1="40.45" y1="367.14" x2="41.75" y2="367.14" stroke="#555" stroke-width="0.6"/>
<line x1="40.45" y1="369" x2="41.75" y2="369" stroke="#555" stroke-width="0.6"/>
<line x1="40.45" y1="374.6" x2="41.75" y2="374.6" stroke="#555" stroke-width="0.6"/>
<line x1="40.45" y1="377.33" x2="41.75" y2="377.33" stroke="#555" stroke-width="0.6"/>
<line x1="40.45" y1="379.57" x2="41.75" y2="379.57" stroke="#555" stroke-width="0.6"/>
<line x1="40.45" y1="381.44" x2="41.75" y2="381.44" stroke="#555" stroke-width="0.6"/>
<text x="35.2" y="311.6" font-size="8" text-anchor="end" fill="#1a1a1a">10</text>
<text x="35.3" y="309.6" font-size="4.6" fill="#1a1a1a">7</text>
<text x="35.2" y="336.47" font-size="8" text-anchor="end" fill="#1a1a1a">10</text>
<text x="35.3" y="334.47" font-size="4.6" fill="#1a1a1a">5</text>
<text x="35.2" y="361.33" font-size="8" text-anchor="end" fill="#1a1a1a">10</text>
<text x="35.3" y="359.33" font-size="4.6" fill="#1a1a1a">3</text>
<text x="35.2" y="385.1" font-size="8" text-anchor="end" fill="#1a1a1a">10</text>
<text x="35.3" y="383.1" font-size="4.6" fill="#1a1a1a">1</text>
<text x="45.5" y="395.4" font-size="8.4" text-anchor="middle" fill="#1a1a1a">10<tspan font-size="4.6" dy="-2.4">1</tspan></text>
<text x="68.3" y="395.4" font-size="8.4" text-anchor="middle" fill="#1a1a1a">10<tspan font-size="4.6" dy="-2.4">3</tspan></text>
<text x="94.9" y="395.4" font-size="8.4" text-anchor="middle" fill="#1a1a1a">10<tspan font-size="4.6" dy="-2.4">5</tspan></text>
<text x="121.5" y="395.4" font-size="8.4" text-anchor="middle" fill="#1a1a1a">10<tspan font-size="4.6" dy="-2.4">7</tspan></text>
<line x1="44.5" y1="384.8" x2="44.5" y2="387" stroke="#222" stroke-width="0.9"/>
<line x1="48.3" y1="384.8" x2="48.3" y2="386" stroke="#555" stroke-width="0.6"/>
<line x1="51.09" y1="384.8" x2="51.09" y2="386" stroke="#555" stroke-width="0.6"/>
<line x1="53.37" y1="384.8" x2="53.37" y2="386" stroke="#555" stroke-width="0.6"/>
<line x1="55.27" y1="384.8" x2="55.27" y2="386" stroke="#555" stroke-width="0.6"/>
<line x1="57.17" y1="384.8" x2="57.17" y2="387" stroke="#222" stroke-width="0.9"/>
<line x1="60.97" y1="384.8" x2="60.97" y2="386" stroke="#555" stroke-width="0.6"/>
<line x1="63.75" y1="384.8" x2="63.75" y2="386" stroke="#555" stroke-width="0.6"/>
<line x1="66.03" y1="384.8" x2="66.03" y2="386" stroke="#555" stroke-width="0.6"/>
<line x1="67.93" y1="384.8" x2="67.93" y2="386" stroke="#555" stroke-width="0.6"/>
<line x1="69.83" y1="384.8" x2="69.83" y2="387" stroke="#222" stroke-width="0.9"/>
<line x1="73.63" y1="384.8" x2="73.63" y2="386" stroke="#555" stroke-width="0.6"/>
<line x1="76.42" y1="384.8" x2="76.42" y2="386" stroke="#555" stroke-width="0.6"/>
<line x1="78.7" y1="384.8" x2="78.7" y2="386" stroke="#555" stroke-width="0.6"/>
<line x1="80.6" y1="384.8" x2="80.6" y2="386" stroke="#555" stroke-width="0.6"/>
<line x1="82.5" y1="384.8" x2="82.5" y2="387" stroke="#222" stroke-width="0.9"/>
<line x1="86.3" y1="384.8" x2="86.3" y2="386" stroke="#555" stroke-width="0.6"/>
<line x1="89.09" y1="384.8" x2="89.09" y2="386" stroke="#555" stroke-width="0.6"/>
<line x1="91.37" y1="384.8" x2="91.37" y2="386" stroke="#555" stroke-width="0.6"/>
<line x1="93.27" y1="384.8" x2="93.27" y2="386" stroke="#555" stroke-width="0.6"/>
<line x1="95.17" y1="384.8" x2="95.17" y2="387" stroke="#222" stroke-width="0.9"/>
<line x1="98.97" y1="384.8" x2="98.97" y2="386" stroke="#555" stroke-width="0.6"/>
<line x1="101.75" y1="384.8" x2="101.75" y2="386" stroke="#555" stroke-width="0.6"/>
<line x1="104.03" y1="384.8" x2="104.03" y2="386" stroke="#555" stroke-width="0.6"/>
<line x1="105.93" y1="384.8" x2="105.93" y2="386" stroke="#555" stroke-width="0.6"/>
<line x1="107.83" y1="384.8" x2="107.83" y2="387" stroke="#222" stroke-width="0.9"/>
<line x1="111.63" y1="384.8" x2="111.63" y2="386" stroke="#555" stroke-width="0.6"/>
<line x1="114.42" y1="384.8" x2="114.42" y2="386" stroke="#555" stroke-width="0.6"/>
<line x1="116.7" y1="384.8" x2="116.7" y2="386" stroke="#555" stroke-width="0.6"/>
<line x1="118.6" y1="384.8" x2="118.6" y2="386" stroke="#555" stroke-width="0.6"/>
<line x1="120.5" y1="384.8" x2="120.5" y2="387" stroke="#222" stroke-width="0.9"/>
<text x="64.5" y="405.1" font-size="9.5" text-anchor="start" fill="#111">Ly6G-PE</text>
<text x="22.6" y="360.5" font-size="9.95" text-anchor="middle" fill="#111" transform="rotate(-90 22.6 360.5)">CD11b-APC</text>
<line x1="18.8" y1="329.6" x2="18.8" y2="297.6" stroke="#111" stroke-width="0.9"/>
<path d="M17.1 298.3 L18.8 294.7 L20.5 298.3z" fill="#111"/>
<text x="0" y="21" font-size="12.3" text-anchor="start" font-weight="bold" fill="#000">a</text>
<text x="253.6" y="23.2" font-size="12.3" text-anchor="start" font-weight="bold" fill="#000">b</text>
<text x="0" y="219.5" font-size="12.3" text-anchor="start" font-weight="bold" fill="#000">c</text>
<text x="254" y="222.7" font-size="12.3" text-anchor="start" font-weight="bold" fill="#000">d</text>
<text x="72.8" y="429.2" font-size="12.3" text-anchor="start" font-weight="bold" fill="#000">e</text>
<text x="249.6" y="429" font-size="12.3" text-anchor="start" font-weight="bold" fill="#000">f</text>
<text x="436.3" y="427.3" font-size="12.3" text-anchor="start" font-weight="bold" fill="#000">g</text>
<text x="72.4" y="608.9" font-size="12.3" text-anchor="start" font-weight="bold" fill="#000">h</text>
<text x="249.3" y="608.7" font-size="12.3" text-anchor="start" font-weight="bold" fill="#000">i</text>
<text x="507.4" y="605.4" font-size="12.3" text-anchor="start" font-weight="bold" fill="#000">j</text>
<text x="0" y="821.2" font-size="12.3" text-anchor="start" font-weight="bold" fill="#000">k</text>
<text x="203" y="821.5" font-size="12.3" text-anchor="start" font-weight="bold" fill="#000">l</text>
<text x="407" y="821.8" font-size="12.3" text-anchor="start" font-weight="bold" fill="#000">m</text>
<text x="570" y="821.2" font-size="12.3" text-anchor="start" font-weight="bold" fill="#000">n</text>
<line x1="191.4" y1="41.6" x2="191.4" y2="170.25" stroke="#111" stroke-width="1.3"/>
<line x1="187.8" y1="169.6" x2="242.7" y2="169.6" stroke="#111" stroke-width="1.3"/>
<line x1="187.6" y1="169.6" x2="191.4" y2="169.6" stroke="#111" stroke-width="1.3"/>
<text x="185.6" y="173.97" font-size="12.5" text-anchor="end" fill="#1a1a1a">0.0</text>
<line x1="187.6" y1="151.4" x2="191.4" y2="151.4" stroke="#111" stroke-width="1.3"/>
<text x="185.6" y="155.78" font-size="12.5" text-anchor="end" fill="#1a1a1a">0.5</text>
<line x1="187.6" y1="133.2" x2="191.4" y2="133.2" stroke="#111" stroke-width="1.3"/>
<text x="185.6" y="137.57" font-size="12.5" text-anchor="end" fill="#1a1a1a">1.0</text>
<line x1="187.6" y1="115" x2="191.4" y2="115" stroke="#111" stroke-width="1.3"/>
<text x="185.6" y="119.38" font-size="12.5" text-anchor="end" fill="#1a1a1a">1.5</text>
<line x1="187.6" y1="96.8" x2="191.4" y2="96.8" stroke="#111" stroke-width="1.3"/>
<text x="185.6" y="101.17" font-size="12.5" text-anchor="end" fill="#1a1a1a">2.0</text>
<line x1="187.6" y1="78.6" x2="191.4" y2="78.6" stroke="#111" stroke-width="1.3"/>
<text x="185.6" y="82.97" font-size="12.5" text-anchor="end" fill="#1a1a1a">2.5</text>
<line x1="187.6" y1="60.4" x2="191.4" y2="60.4" stroke="#111" stroke-width="1.3"/>
<text x="185.6" y="64.78" font-size="12.5" text-anchor="end" fill="#1a1a1a">3.0</text>
<line x1="187.6" y1="42.2" x2="191.4" y2="42.2" stroke="#111" stroke-width="1.3"/>
<text x="185.6" y="46.58" font-size="12.5" text-anchor="end" fill="#1a1a1a">3.5</text>
<rect x="197.15" y="143.39" width="17.8" height="26.21" fill="#ffa0a0" stroke="#111" stroke-width="1.3"/>
<rect x="219.15" y="114.64" width="17" height="54.96" fill="#fff" stroke="#111" stroke-width="1.3"/>
<line x1="206" y1="143.39" x2="206" y2="137.57" stroke="#111" stroke-width="1.1"/>
<line x1="201.2" y1="137.57" x2="210.8" y2="137.57" stroke="#111" stroke-width="1.1"/>
<line x1="227.7" y1="114.64" x2="227.7" y2="103.35" stroke="#111" stroke-width="1.1"/>
<line x1="222.9" y1="103.35" x2="232.5" y2="103.35" stroke="#111" stroke-width="1.1"/>
<circle cx="206" cy="125.92" r="1.55" fill="#fff" stroke="#333" stroke-width="0.75"/>
<circle cx="206" cy="137.57" r="1.55" fill="#fff" stroke="#333" stroke-width="0.75"/>
<circle cx="206" cy="143.76" r="1.55" fill="#fff" stroke="#333" stroke-width="0.75"/>
<circle cx="206" cy="148.85" r="1.55" fill="#fff" stroke="#333" stroke-width="0.75"/>
<circle cx="206" cy="159.04" r="1.55" fill="#fff" stroke="#333" stroke-width="0.75"/>
<circle cx="227.7" cy="93.89" r="1.55" fill="#fff" stroke="#333" stroke-width="0.75"/>
<circle cx="227.7" cy="100.44" r="1.55" fill="#fff" stroke="#333" stroke-width="0.75"/>
<circle cx="227.7" cy="119.73" r="1.55" fill="#fff" stroke="#333" stroke-width="0.75"/>
<circle cx="227.7" cy="141.94" r="1.55" fill="#fff" stroke="#333" stroke-width="0.75"/>
<polyline points="202.4,78.6 202.4,42.2 224.1,42.2 224.1,47.5" fill="none" stroke="#111" stroke-width="1.2" stroke-linejoin="miter"/>
<polygon points="213.5,32.77 214.23,34.61 216.21,34.74 214.69,36.01 215.18,37.93 213.5,36.87 211.82,37.93 212.31,36.01 210.79,34.74 212.77,34.61" fill="#111" stroke="#111" stroke-width="0.35" stroke-linejoin="round"/>
<text x="158.26" y="96.5" font-size="12.7" text-anchor="middle" fill="#1a1a1a" transform="rotate(-90 158.26 96.5)">Blood neutrophils (x10<tspan dy="-4.6" font-size="8.8">6</tspan><tspan dy="4.6">/mL)</tspan></text>
<line x1="410.5" y1="32.7" x2="410.5" y2="176.15" stroke="#111" stroke-width="1.3"/>
<line x1="406.3" y1="175.5" x2="467.6" y2="175.5" stroke="#111" stroke-width="1.3"/>
<line x1="406.7" y1="175.5" x2="410.5" y2="175.5" stroke="#111" stroke-width="1.3"/>
<text x="404.7" y="179.88" font-size="12.5" text-anchor="end" fill="#1a1a1a">0</text>
<line x1="406.7" y1="151.8" x2="410.5" y2="151.8" stroke="#111" stroke-width="1.3"/>
<text x="404.7" y="156.18" font-size="12.5" text-anchor="end" fill="#1a1a1a">10</text>
<line x1="406.7" y1="128.1" x2="410.5" y2="128.1" stroke="#111" stroke-width="1.3"/>
<text x="404.7" y="132.47" font-size="12.5" text-anchor="end" fill="#1a1a1a">20</text>
<line x1="406.7" y1="104.4" x2="410.5" y2="104.4" stroke="#111" stroke-width="1.3"/>
<text x="404.7" y="108.77" font-size="12.5" text-anchor="end" fill="#1a1a1a">30</text>
<line x1="406.7" y1="80.7" x2="410.5" y2="80.7" stroke="#111" stroke-width="1.3"/>
<text x="404.7" y="85.07" font-size="12.5" text-anchor="end" fill="#1a1a1a">40</text>
<line x1="406.7" y1="57" x2="410.5" y2="57" stroke="#111" stroke-width="1.3"/>
<text x="404.7" y="61.38" font-size="12.5" text-anchor="end" fill="#1a1a1a">50</text>
<line x1="406.7" y1="33.3" x2="410.5" y2="33.3" stroke="#111" stroke-width="1.3"/>
<text x="404.7" y="37.67" font-size="12.5" text-anchor="end" fill="#1a1a1a">60</text>
<line x1="408.3" y1="163.65" x2="410.5" y2="163.65" stroke="#111" stroke-width="1.3"/>
<line x1="408.3" y1="139.95" x2="410.5" y2="139.95" stroke="#111" stroke-width="1.3"/>
<line x1="408.3" y1="116.25" x2="410.5" y2="116.25" stroke="#111" stroke-width="1.3"/>
<line x1="408.3" y1="92.55" x2="410.5" y2="92.55" stroke="#111" stroke-width="1.3"/>
<line x1="408.3" y1="68.85" x2="410.5" y2="68.85" stroke="#111" stroke-width="1.3"/>
<line x1="408.3" y1="45.15" x2="410.5" y2="45.15" stroke="#111" stroke-width="1.3"/>
<rect x="416.85" y="65.53" width="19.4" height="109.97" fill="#ffa0a0" stroke="#111" stroke-width="1.3"/>
<rect x="440.55" y="61.5" width="19.8" height="114" fill="#fff" stroke="#111" stroke-width="1.3"/>
<line x1="426.5" y1="65.53" x2="426.5" y2="62.21" stroke="#111" stroke-width="1.1"/>
<line x1="421.3" y1="62.21" x2="431.7" y2="62.21" stroke="#111" stroke-width="1.1"/>
<line x1="450.6" y1="61.5" x2="450.6" y2="56.76" stroke="#111" stroke-width="1.1"/>
<line x1="445.1" y1="56.76" x2="456.1" y2="56.76" stroke="#111" stroke-width="1.1"/>
<circle cx="426.3" cy="50.84" r="1.55" fill="#fff" stroke="#333" stroke-width="0.75"/>
<circle cx="426.3" cy="53.68" r="1.55" fill="#fff" stroke="#333" stroke-width="0.75"/>
<circle cx="423.4" cy="58.9" r="1.55" fill="#fff" stroke="#333" stroke-width="0.75"/>
<circle cx="426.6" cy="58.18" r="1.55" fill="#fff" stroke="#333" stroke-width="0.75"/>
<circle cx="429.4" cy="58.66" r="1.55" fill="#fff" stroke="#333" stroke-width="0.75"/>
<circle cx="423.9" cy="66.01" r="1.55" fill="#fff" stroke="#333" stroke-width="0.75"/>
<circle cx="429.4" cy="66.95" r="1.55" fill="#fff" stroke="#333" stroke-width="0.75"/>
<circle cx="426.3" cy="73.12" r="1.55" fill="#fff" stroke="#333" stroke-width="0.75"/>
<circle cx="423.9" cy="77.86" r="1.55" fill="#fff" stroke="#333" stroke-width="0.75"/>
<circle cx="429.4" cy="77.86" r="1.55" fill="#fff" stroke="#333" stroke-width="0.75"/>
<circle cx="450.7" cy="42.54" r="1.55" fill="#fff" stroke="#333" stroke-width="0.75"/>
<circle cx="450.7" cy="51.79" r="1.55" fill="#fff" stroke="#333" stroke-width="0.75"/>
<circle cx="447.5" cy="59.37" r="1.55" fill="#fff" stroke="#333" stroke-width="0.75"/>
<circle cx="453.1" cy="61.03" r="1.55" fill="#fff" stroke="#333" stroke-width="0.75"/>
<circle cx="447.5" cy="66.72" r="1.55" fill="#fff" stroke="#333" stroke-width="0.75"/>
<circle cx="451.1" cy="66.72" r="1.55" fill="#fff" stroke="#333" stroke-width="0.75"/>
<circle cx="454.4" cy="66.72" r="1.55" fill="#fff" stroke="#333" stroke-width="0.75"/>
<circle cx="450.7" cy="77.14" r="1.55" fill="#fff" stroke="#333" stroke-width="0.75"/>
<text x="376.43" y="102.8" font-size="14" text-anchor="middle" fill="#1a1a1a" transform="rotate(-90 376.43 102.8)">Area at risk (% of LV)</text>
<line x1="542.8" y1="35.1" x2="542.8" y2="175.65" stroke="#111" stroke-width="1.3"/>
<line x1="538.4" y1="175" x2="598.8" y2="175" stroke="#111" stroke-width="1.3"/>
<line x1="539" y1="175" x2="542.8" y2="175" stroke="#111" stroke-width="1.3"/>
<text x="537" y="179.38" font-size="12.5" text-anchor="end" fill="#1a1a1a">0</text>
<line x1="539" y1="155.1" x2="542.8" y2="155.1" stroke="#111" stroke-width="1.3"/>
<text x="537" y="159.47" font-size="12.5" text-anchor="end" fill="#1a1a1a">5</text>
<line x1="539" y1="135.2" x2="542.8" y2="135.2" stroke="#111" stroke-width="1.3"/>
<text x="537" y="139.57" font-size="12.5" text-anchor="end" fill="#1a1a1a">10</text>
<line x1="539" y1="115.3" x2="542.8" y2="115.3" stroke="#111" stroke-width="1.3"/>
<text x="537" y="119.67" font-size="12.5" text-anchor="end" fill="#1a1a1a">15</text>
<line x1="539" y1="95.4" x2="542.8" y2="95.4" stroke="#111" stroke-width="1.3"/>
<text x="537" y="99.78" font-size="12.5" text-anchor="end" fill="#1a1a1a">20</text>
<line x1="539" y1="75.5" x2="542.8" y2="75.5" stroke="#111" stroke-width="1.3"/>
<text x="537" y="79.88" font-size="12.5" text-anchor="end" fill="#1a1a1a">25</text>
<line x1="539" y1="55.6" x2="542.8" y2="55.6" stroke="#111" stroke-width="1.3"/>
<text x="537" y="59.97" font-size="12.5" text-anchor="end" fill="#1a1a1a">30</text>
<line x1="539" y1="35.7" x2="542.8" y2="35.7" stroke="#111" stroke-width="1.3"/>
<text x="537" y="40.07" font-size="12.5" text-anchor="end" fill="#1a1a1a">35</text>
<line x1="540.6" y1="165.05" x2="542.8" y2="165.05" stroke="#111" stroke-width="1.3"/>
<line x1="540.6" y1="145.15" x2="542.8" y2="145.15" stroke="#111" stroke-width="1.3"/>
<line x1="540.6" y1="125.25" x2="542.8" y2="125.25" stroke="#111" stroke-width="1.3"/>
<line x1="540.6" y1="105.35" x2="542.8" y2="105.35" stroke="#111" stroke-width="1.3"/>
<line x1="540.6" y1="85.45" x2="542.8" y2="85.45" stroke="#111" stroke-width="1.3"/>
<line x1="540.6" y1="65.55" x2="542.8" y2="65.55" stroke="#111" stroke-width="1.3"/>
<line x1="540.6" y1="45.65" x2="542.8" y2="45.65" stroke="#111" stroke-width="1.3"/>
<rect x="549.25" y="110.92" width="18.7" height="64.08" fill="#ffa0a0" stroke="#111" stroke-width="1.3"/>
<rect x="573.05" y="65.15" width="18.9" height="109.85" fill="#fff" stroke="#111" stroke-width="1.3"/>
<line x1="558.6" y1="110.92" x2="558.6" y2="105.75" stroke="#111" stroke-width="1.1"/>
<line x1="554.1" y1="105.75" x2="563.1" y2="105.75" stroke="#111" stroke-width="1.1"/>
<line x1="582.6" y1="65.15" x2="582.6" y2="60.77" stroke="#111" stroke-width="1.1"/>
<line x1="578.35" y1="60.77" x2="586.85" y2="60.77" stroke="#111" stroke-width="1.1"/>
<circle cx="558.7" cy="88.63" r="1.55" fill="#fff" stroke="#333" stroke-width="0.75"/>
<circle cx="558.7" cy="93.01" r="1.55" fill="#fff" stroke="#333" stroke-width="0.75"/>
<circle cx="561.7" cy="101.37" r="1.55" fill="#fff" stroke="#333" stroke-width="0.75"/>
<circle cx="555.8" cy="103.76" r="1.55" fill="#fff" stroke="#333" stroke-width="0.75"/>
<circle cx="558.7" cy="105.75" r="1.55" fill="#fff" stroke="#333" stroke-width="0.75"/>
<circle cx="555.5" cy="114.5" r="1.55" fill="#fff" stroke="#333" stroke-width="0.75"/>
<circle cx="561.8" cy="115.3" r="1.55" fill="#fff" stroke="#333" stroke-width="0.75"/>
<circle cx="558.7" cy="119.28" r="1.55" fill="#fff" stroke="#333" stroke-width="0.75"/>
<circle cx="558.7" cy="123.26" r="1.55" fill="#fff" stroke="#333" stroke-width="0.75"/>
<circle cx="558.5" cy="134.01" r="1.55" fill="#fff" stroke="#333" stroke-width="0.75"/>
<circle cx="582.6" cy="47.24" r="1.55" fill="#fff" stroke="#333" stroke-width="0.75"/>
<circle cx="579.1" cy="58.39" r="1.55" fill="#fff" stroke="#333" stroke-width="0.75"/>
<circle cx="585.5" cy="57.99" r="1.55" fill="#fff" stroke="#333" stroke-width="0.75"/>
<circle cx="582.6" cy="62.37" r="1.55" fill="#fff" stroke="#333" stroke-width="0.75"/>
<circle cx="582.6" cy="66.74" r="1.55" fill="#fff" stroke="#333" stroke-width="0.75"/>
<circle cx="579.4" cy="78.29" r="1.55" fill="#fff" stroke="#333" stroke-width="0.75"/>
<circle cx="585.5" cy="77.09" r="1.55" fill="#fff" stroke="#333" stroke-width="0.75"/>
<polyline points="557.6,70.3 557.6,35.3 581.1,35.3 581.1,40" fill="none" stroke="#111" stroke-width="1.2" stroke-linejoin="miter"/>
<polygon points="562.4,23.92 563.13,25.76 565.11,25.89 563.59,27.16 564.08,29.08 562.4,28.02 560.72,29.08 561.21,27.16 559.69,25.89 561.67,25.76" fill="#111" stroke="#111" stroke-width="0.35" stroke-linejoin="round"/>
<polygon points="569.2,23.92 569.93,25.76 571.91,25.89 570.39,27.16 570.88,29.08 569.2,28.02 567.52,29.08 568.01,27.16 566.49,25.89 568.47,25.76" fill="#111" stroke="#111" stroke-width="0.35" stroke-linejoin="round"/>
<polygon points="576,23.92 576.73,25.76 578.71,25.89 577.19,27.16 577.68,29.08 576,28.02 574.32,29.08 574.81,27.16 573.29,25.89 575.27,25.76" fill="#111" stroke="#111" stroke-width="0.35" stroke-linejoin="round"/>
<text x="507.01" y="104.1" font-size="13.7" text-anchor="middle" fill="#1a1a1a" transform="rotate(-90 507.01 104.1)">MI size (% of AAR)</text>
<rect x="607.45" y="35.75" width="23.9" height="9.9" fill="#ffa0a0" stroke="#111" stroke-width="1.3"/>
<rect x="607.45" y="53.55" width="23.9" height="9.5" fill="#fff" stroke="#111" stroke-width="1.3"/>
<text x="639.4" y="44.3" font-size="13.6" text-anchor="start" fill="#1a1a1a">Female</text>
<text x="639.4" y="62.3" font-size="13.6" text-anchor="start" fill="#1a1a1a">Male</text>
<line x1="193.1" y1="247.65" x2="193.1" y2="377.35" stroke="#111" stroke-width="1.3"/>
<line x1="189.8" y1="376.7" x2="244.4" y2="376.7" stroke="#111" stroke-width="1.3"/>
<line x1="189.3" y1="376.7" x2="193.1" y2="376.7" stroke="#111" stroke-width="1.3"/>
<text x="187.3" y="381.07" font-size="12.5" text-anchor="end" fill="#1a1a1a">0.0</text>
<line x1="189.3" y1="358.35" x2="193.1" y2="358.35" stroke="#111" stroke-width="1.3"/>
<text x="187.3" y="362.72" font-size="12.5" text-anchor="end" fill="#1a1a1a">0.5</text>
<line x1="189.3" y1="340" x2="193.1" y2="340" stroke="#111" stroke-width="1.3"/>
<text x="187.3" y="344.38" font-size="12.5" text-anchor="end" fill="#1a1a1a">1.0</text>
<line x1="189.3" y1="321.65" x2="193.1" y2="321.65" stroke="#111" stroke-width="1.3"/>
<text x="187.3" y="326.02" font-size="12.5" text-anchor="end" fill="#1a1a1a">1.5</text>
<line x1="189.3" y1="303.3" x2="193.1" y2="303.3" stroke="#111" stroke-width="1.3"/>
<text x="187.3" y="307.67" font-size="12.5" text-anchor="end" fill="#1a1a1a">2.0</text>
<line x1="189.3" y1="284.95" x2="193.1" y2="284.95" stroke="#111" stroke-width="1.3"/>
<text x="187.3" y="289.32" font-size="12.5" text-anchor="end" fill="#1a1a1a">2.5</text>
<line x1="189.3" y1="266.6" x2="193.1" y2="266.6" stroke="#111" stroke-width="1.3"/>
<text x="187.3" y="270.97" font-size="12.5" text-anchor="end" fill="#1a1a1a">3.0</text>
<line x1="189.3" y1="248.25" x2="193.1" y2="248.25" stroke="#111" stroke-width="1.3"/>
<text x="187.3" y="252.62" font-size="12.5" text-anchor="end" fill="#1a1a1a">3.5</text>
<rect x="198.75" y="323.85" width="17.4" height="52.85" fill="#fff" stroke="#111" stroke-width="1.3"/>
<rect x="220.95" y="355.78" width="17.2" height="20.92" fill="#0000ff" stroke="#111" stroke-width="1.3"/>
<line x1="207.4" y1="323.85" x2="207.4" y2="279.08" stroke="#111" stroke-width="0.9"/>
<line x1="202.4" y1="279.08" x2="212.4" y2="279.08" stroke="#111" stroke-width="0.9"/>
<line x1="229.1" y1="355.78" x2="229.1" y2="337.43" stroke="#111" stroke-width="0.9"/>
<line x1="224.3" y1="337.43" x2="233.9" y2="337.43" stroke="#111" stroke-width="0.9"/>
<circle cx="207.4" cy="264.03" r="1.55" fill="#fff" stroke="#333" stroke-width="0.75"/>
<circle cx="207.4" cy="321.65" r="1.55" fill="#fff" stroke="#333" stroke-width="0.75"/>
<circle cx="207.4" cy="326.42" r="1.55" fill="#fff" stroke="#333" stroke-width="0.75"/>
<circle cx="207.4" cy="334.5" r="1.55" fill="#fff" stroke="#333" stroke-width="0.75"/>
<circle cx="229.4" cy="332.66" r="1.55" fill="#fff" stroke="#333" stroke-width="0.75"/>
<circle cx="229.4" cy="351.38" r="1.55" fill="#fff" stroke="#333" stroke-width="0.75"/>
<circle cx="229.4" cy="360.19" r="1.55" fill="#fff" stroke="#333" stroke-width="0.75"/>
<circle cx="229.4" cy="364.22" r="1.55" fill="#fff" stroke="#333" stroke-width="0.75"/>
<polyline points="207.4,251.7 207.4,244.6 229.1,244.6 229.1,301.5" fill="none" stroke="#111" stroke-width="1.2" stroke-linejoin="miter"/>
<text x="220.4" y="237.3" font-size="10.7" text-anchor="middle" fill="#1a1a1a">p = 0.057</text>
<text x="158.46" y="304.8" font-size="12.7" text-anchor="middle" fill="#1a1a1a" transform="rotate(-90 158.46 304.8)">Blood neutrophils (x10<tspan dy="-4.6" font-size="8.8">6</tspan><tspan dy="4.6">/mL)</tspan></text>
<line x1="410.5" y1="241" x2="410.5" y2="383.25" stroke="#111" stroke-width="1.3"/>
<line x1="406.3" y1="382.6" x2="467.6" y2="382.6" stroke="#111" stroke-width="1.3"/>
<line x1="406.7" y1="382.6" x2="410.5" y2="382.6" stroke="#111" stroke-width="1.3"/>
<text x="404.7" y="386.98" font-size="12.5" text-anchor="end" fill="#1a1a1a">0</text>
<line x1="406.7" y1="359.1" x2="410.5" y2="359.1" stroke="#111" stroke-width="1.3"/>
<text x="404.7" y="363.48" font-size="12.5" text-anchor="end" fill="#1a1a1a">10</text>
<line x1="406.7" y1="335.6" x2="410.5" y2="335.6" stroke="#111" stroke-width="1.3"/>
<text x="404.7" y="339.98" font-size="12.5" text-anchor="end" fill="#1a1a1a">20</text>
<line x1="406.7" y1="312.1" x2="410.5" y2="312.1" stroke="#111" stroke-width="1.3"/>
<text x="404.7" y="316.48" font-size="12.5" text-anchor="end" fill="#1a1a1a">30</text>
<line x1="406.7" y1="288.6" x2="410.5" y2="288.6" stroke="#111" stroke-width="1.3"/>
<text x="404.7" y="292.98" font-size="12.5" text-anchor="end" fill="#1a1a1a">40</text>
<line x1="406.7" y1="265.1" x2="410.5" y2="265.1" stroke="#111" stroke-width="1.3"/>
<text x="404.7" y="269.48" font-size="12.5" text-anchor="end" fill="#1a1a1a">50</text>
<line x1="406.7" y1="241.6" x2="410.5" y2="241.6" stroke="#111" stroke-width="1.3"/>
<text x="404.7" y="245.98" font-size="12.5" text-anchor="end" fill="#1a1a1a">60</text>
<line x1="408.3" y1="370.85" x2="410.5" y2="370.85" stroke="#111" stroke-width="1.3"/>
<line x1="408.3" y1="347.35" x2="410.5" y2="347.35" stroke="#111" stroke-width="1.3"/>
<line x1="408.3" y1="323.85" x2="410.5" y2="323.85" stroke="#111" stroke-width="1.3"/>
<line x1="408.3" y1="300.35" x2="410.5" y2="300.35" stroke="#111" stroke-width="1.3"/>
<line x1="408.3" y1="276.85" x2="410.5" y2="276.85" stroke="#111" stroke-width="1.3"/>
<line x1="408.3" y1="253.35" x2="410.5" y2="253.35" stroke="#111" stroke-width="1.3"/>
<rect x="416.05" y="265.34" width="19.9" height="117.26" fill="#fff" stroke="#111" stroke-width="1.3"/>
<rect x="440.45" y="273.33" width="19.8" height="109.27" fill="#0000ff" stroke="#111" stroke-width="1.3"/>
<line x1="426" y1="265.34" x2="426" y2="257.58" stroke="#111" stroke-width="1.1"/>
<line x1="420.6" y1="257.58" x2="431.4" y2="257.58" stroke="#111" stroke-width="1.1"/>
<line x1="450.3" y1="273.33" x2="450.3" y2="269.8" stroke="#111" stroke-width="1.1"/>
<line x1="445.8" y1="269.8" x2="454.8" y2="269.8" stroke="#111" stroke-width="1.1"/>
<circle cx="426" cy="251.71" r="1.55" fill="#fff" stroke="#333" stroke-width="0.75"/>
<circle cx="426" cy="254.29" r="1.55" fill="#fff" stroke="#333" stroke-width="0.75"/>
<circle cx="423.1" cy="278.5" r="1.55" fill="#fff" stroke="#333" stroke-width="0.75"/>
<circle cx="429" cy="276.38" r="1.55" fill="#fff" stroke="#333" stroke-width="0.75"/>
<circle cx="450.3" cy="260.4" r="1.55" fill="#fff" stroke="#333" stroke-width="0.75"/>
<circle cx="446.5" cy="267.45" r="1.55" fill="#fff" stroke="#333" stroke-width="0.75"/>
<circle cx="453" cy="268.86" r="1.55" fill="#fff" stroke="#333" stroke-width="0.75"/>
<circle cx="444.5" cy="281.31" r="1.55" fill="#fff" stroke="#333" stroke-width="0.75"/>
<circle cx="450.3" cy="278.97" r="1.55" fill="#fff" stroke="#333" stroke-width="0.75"/>
<circle cx="456" cy="281.08" r="1.55" fill="#fff" stroke="#333" stroke-width="0.75"/>
<text x="376.23" y="311.3" font-size="14" text-anchor="middle" fill="#1a1a1a" transform="rotate(-90 376.23 311.3)">Area at risk (% of LV)</text>
<line x1="539.8" y1="250.3" x2="539.8" y2="384.15" stroke="#111" stroke-width="1.3"/>
<line x1="535.6" y1="383.5" x2="593" y2="383.5" stroke="#111" stroke-width="1.3"/>
<line x1="536" y1="383.5" x2="539.8" y2="383.5" stroke="#111" stroke-width="1.3"/>
<text x="534" y="387.88" font-size="12.5" text-anchor="end" fill="#1a1a1a">0</text>
<line x1="536" y1="361.4" x2="539.8" y2="361.4" stroke="#111" stroke-width="1.3"/>
<text x="534" y="365.77" font-size="12.5" text-anchor="end" fill="#1a1a1a">5</text>
<line x1="536" y1="339.3" x2="539.8" y2="339.3" stroke="#111" stroke-width="1.3"/>
<text x="534" y="343.68" font-size="12.5" text-anchor="end" fill="#1a1a1a">10</text>
<line x1="536" y1="317.2" x2="539.8" y2="317.2" stroke="#111" stroke-width="1.3"/>
<text x="534" y="321.57" font-size="12.5" text-anchor="end" fill="#1a1a1a">15</text>
<line x1="536" y1="295.1" x2="539.8" y2="295.1" stroke="#111" stroke-width="1.3"/>
<text x="534" y="299.48" font-size="12.5" text-anchor="end" fill="#1a1a1a">20</text>
<line x1="536" y1="273" x2="539.8" y2="273" stroke="#111" stroke-width="1.3"/>
<text x="534" y="277.38" font-size="12.5" text-anchor="end" fill="#1a1a1a">25</text>
<line x1="536" y1="250.9" x2="539.8" y2="250.9" stroke="#111" stroke-width="1.3"/>
<text x="534" y="255.28" font-size="12.5" text-anchor="end" fill="#1a1a1a">30</text>
<line x1="537.6" y1="372.45" x2="539.8" y2="372.45" stroke="#111" stroke-width="1.3"/>
<line x1="537.6" y1="350.35" x2="539.8" y2="350.35" stroke="#111" stroke-width="1.3"/>
<line x1="537.6" y1="328.25" x2="539.8" y2="328.25" stroke="#111" stroke-width="1.3"/>
<line x1="537.6" y1="306.15" x2="539.8" y2="306.15" stroke="#111" stroke-width="1.3"/>
<line x1="537.6" y1="284.05" x2="539.8" y2="284.05" stroke="#111" stroke-width="1.3"/>
<line x1="537.6" y1="261.95" x2="539.8" y2="261.95" stroke="#111" stroke-width="1.3"/>
<rect x="545.65" y="266.81" width="18.2" height="116.69" fill="#fff" stroke="#111" stroke-width="1.3"/>
<rect x="568.35" y="306.59" width="17.8" height="76.91" fill="#0000ff" stroke="#111" stroke-width="1.3"/>
<line x1="554.8" y1="266.81" x2="554.8" y2="255.76" stroke="#111" stroke-width="1.1"/>
<line x1="550" y1="255.76" x2="559.6" y2="255.76" stroke="#111" stroke-width="1.1"/>
<line x1="577.3" y1="306.59" x2="577.3" y2="300.85" stroke="#111" stroke-width="1.1"/>
<line x1="573.3" y1="300.85" x2="581.3" y2="300.85" stroke="#111" stroke-width="1.1"/>
<circle cx="554.3" cy="257.09" r="1.55" fill="#fff" stroke="#333" stroke-width="0.75"/>
<circle cx="554.3" cy="261.95" r="1.55" fill="#fff" stroke="#333" stroke-width="0.75"/>
<circle cx="554.3" cy="273.88" r="1.55" fill="#fff" stroke="#333" stroke-width="0.75"/>
<circle cx="554.3" cy="283.17" r="1.55" fill="#fff" stroke="#333" stroke-width="0.75"/>
<circle cx="574.5" cy="299.96" r="1.55" fill="#fff" stroke="#333" stroke-width="0.75"/>
<circle cx="580" cy="299.08" r="1.55" fill="#fff" stroke="#333" stroke-width="0.75"/>
<circle cx="579.5" cy="302.17" r="1.55" fill="#fff" stroke="#333" stroke-width="0.75"/>
<circle cx="577.3" cy="309.69" r="1.55" fill="#fff" stroke="#333" stroke-width="0.75"/>
<circle cx="577.3" cy="314.11" r="1.55" fill="#fff" stroke="#333" stroke-width="0.75"/>
<circle cx="577.3" cy="326.48" r="1.55" fill="#fff" stroke="#333" stroke-width="0.75"/>
<polyline points="554.3,248.5 554.3,242.5 577.3,242.5 577.3,273.4" fill="none" stroke="#111" stroke-width="1.2" stroke-linejoin="miter"/>
<polygon points="562.7,230.42 563.43,232.26 565.41,232.39 563.89,233.66 564.38,235.58 562.7,234.52 561.02,235.58 561.51,233.66 559.99,232.39 561.97,232.26" fill="#111" stroke="#111" stroke-width="0.35" stroke-linejoin="round"/>
<polygon points="569.5,230.42 570.23,232.26 572.21,232.39 570.69,233.66 571.18,235.58 569.5,234.52 567.82,235.58 568.31,233.66 566.79,232.39 568.77,232.26" fill="#111" stroke="#111" stroke-width="0.35" stroke-linejoin="round"/>
<text x="506.49" y="316.5" font-size="13" text-anchor="middle" fill="#1a1a1a" transform="rotate(-90 506.49 316.5)">MI size (% of AAR)</text>
<rect x="602.45" y="249.15" width="22.8" height="8.6" fill="#fff" stroke="#111" stroke-width="1.3"/>
<rect x="602.45" y="265.85" width="22.8" height="9" fill="#0000ff" stroke="#111" stroke-width="1.3"/>
<text x="633.1" y="257.1" font-size="12.8" text-anchor="start" fill="#1a1a1a">Control</text>
<text x="633.1" y="274.4" font-size="12.8" text-anchor="start" fill="#1a1a1a">ORX</text>
<line x1="120.1" y1="438.8" x2="120.1" y2="564.85" stroke="#111" stroke-width="1.3"/>
<line x1="116.1" y1="564.2" x2="219.6" y2="564.2" stroke="#111" stroke-width="1.3"/>
<line x1="116.3" y1="564.2" x2="120.1" y2="564.2" stroke="#111" stroke-width="1.3"/>
<text x="114.3" y="568.58" font-size="12.5" text-anchor="end" fill="#1a1a1a">0</text>
<line x1="116.3" y1="533" x2="120.1" y2="533" stroke="#111" stroke-width="1.3"/>
<text x="114.3" y="537.38" font-size="12.5" text-anchor="end" fill="#1a1a1a">1</text>
<line x1="116.3" y1="501.8" x2="120.1" y2="501.8" stroke="#111" stroke-width="1.3"/>
<text x="114.3" y="506.18" font-size="12.5" text-anchor="end" fill="#1a1a1a">2</text>
<line x1="116.3" y1="470.6" x2="120.1" y2="470.6" stroke="#111" stroke-width="1.3"/>
<text x="114.3" y="474.98" font-size="12.5" text-anchor="end" fill="#1a1a1a">3</text>
<line x1="116.3" y1="439.4" x2="120.1" y2="439.4" stroke="#111" stroke-width="1.3"/>
<text x="114.3" y="443.78" font-size="12.5" text-anchor="end" fill="#1a1a1a">4</text>
<line x1="117.9" y1="548.6" x2="120.1" y2="548.6" stroke="#111" stroke-width="1.3"/>
<line x1="117.9" y1="517.4" x2="120.1" y2="517.4" stroke="#111" stroke-width="1.3"/>
<line x1="117.9" y1="486.2" x2="120.1" y2="486.2" stroke="#111" stroke-width="1.3"/>
<line x1="117.9" y1="455" x2="120.1" y2="455" stroke="#111" stroke-width="1.3"/>
<rect x="124.95" y="552.34" width="15.2" height="11.86" fill="#fff" stroke="#111" stroke-width="1.3"/>
<rect x="143.95" y="558.27" width="15.2" height="5.93" fill="#0000ff" stroke="#111" stroke-width="1.3"/>
<rect x="179.05" y="491.5" width="15.2" height="72.7" fill="#fff" stroke="#111" stroke-width="1.3"/>
<rect x="198.35" y="524.58" width="14.9" height="39.62" fill="#0000ff" stroke="#111" stroke-width="1.3"/>
<line x1="132.5" y1="552.34" x2="132.5" y2="549.54" stroke="#111" stroke-width="1.1"/>
<line x1="128.5" y1="549.54" x2="136.5" y2="549.54" stroke="#111" stroke-width="1.1"/>
<line x1="151.5" y1="558.27" x2="151.5" y2="557.02" stroke="#111" stroke-width="1.1"/>
<line x1="147.5" y1="557.02" x2="155.5" y2="557.02" stroke="#111" stroke-width="1.1"/>
<line x1="186.6" y1="491.5" x2="186.6" y2="484.33" stroke="#111" stroke-width="1.1"/>
<line x1="182.6" y1="484.33" x2="190.6" y2="484.33" stroke="#111" stroke-width="1.1"/>
<line x1="205.8" y1="524.58" x2="205.8" y2="516.78" stroke="#111" stroke-width="1.1"/>
<line x1="201.8" y1="516.78" x2="209.8" y2="516.78" stroke="#111" stroke-width="1.1"/>
<line x1="169.1" y1="440" x2="169.1" y2="564" stroke="#111" stroke-width="1.3" stroke-dasharray="3.2 2.2"/>
<circle cx="132.5" cy="546.1" r="1.55" fill="#fff" stroke="#333" stroke-width="0.75"/>
<circle cx="132.5" cy="547.98" r="1.55" fill="#fff" stroke="#333" stroke-width="0.75"/>
<circle cx="129.5" cy="551.1" r="1.55" fill="#fff" stroke="#333" stroke-width="0.75"/>
<circle cx="135.5" cy="551.1" r="1.55" fill="#fff" stroke="#333" stroke-width="0.75"/>
<circle cx="132.5" cy="554.84" r="1.55" fill="#fff" stroke="#333" stroke-width="0.75"/>
<circle cx="129.5" cy="555.46" r="1.55" fill="#fff" stroke="#333" stroke-width="0.75"/>
<circle cx="135.5" cy="555.46" r="1.55" fill="#fff" stroke="#333" stroke-width="0.75"/>
<circle cx="151.5" cy="554.84" r="1.55" fill="#fff" stroke="#333" stroke-width="0.75"/>
<circle cx="146.5" cy="557.96" r="1.55" fill="#fff" stroke="#333" stroke-width="0.75"/>
<circle cx="151.5" cy="557.65" r="1.55" fill="#fff" stroke="#333" stroke-width="0.75"/>
<circle cx="156.5" cy="557.96" r="1.55" fill="#fff" stroke="#333" stroke-width="0.75"/>
<circle cx="186.6" cy="462.49" r="1.55" fill="#fff" stroke="#333" stroke-width="0.75"/>
<circle cx="186.6" cy="475.9" r="1.55" fill="#fff" stroke="#333" stroke-width="0.75"/>
<circle cx="186.6" cy="479.34" r="1.55" fill="#fff" stroke="#333" stroke-width="0.75"/>
<circle cx="183.8" cy="492.44" r="1.55" fill="#fff" stroke="#333" stroke-width="0.75"/>
<circle cx="186.6" cy="487.76" r="1.55" fill="#fff" stroke="#333" stroke-width="0.75"/>
<circle cx="189.6" cy="492.44" r="1.55" fill="#fff" stroke="#333" stroke-width="0.75"/>
<circle cx="186.6" cy="500.24" r="1.55" fill="#fff" stroke="#333" stroke-width="0.75"/>
<circle cx="186.6" cy="504.92" r="1.55" fill="#fff" stroke="#333" stroke-width="0.75"/>
<circle cx="186.6" cy="531.13" r="1.55" fill="#fff" stroke="#333" stroke-width="0.75"/>
<circle cx="202.8" cy="489.94" r="1.55" fill="#fff" stroke="#333" stroke-width="0.75"/>
<circle cx="208.8" cy="489.32" r="1.55" fill="#fff" stroke="#333" stroke-width="0.75"/>
<circle cx="205.8" cy="517.4" r="1.55" fill="#fff" stroke="#333" stroke-width="0.75"/>
<circle cx="205.8" cy="526.76" r="1.55" fill="#fff" stroke="#333" stroke-width="0.75"/>
<circle cx="203.5" cy="529.88" r="1.55" fill="#fff" stroke="#333" stroke-width="0.75"/>
<circle cx="208" cy="529.88" r="1.55" fill="#fff" stroke="#333" stroke-width="0.75"/>
<circle cx="205.8" cy="537.68" r="1.55" fill="#fff" stroke="#333" stroke-width="0.75"/>
<circle cx="203" cy="548.6" r="1.55" fill="#fff" stroke="#333" stroke-width="0.75"/>
<circle cx="208.6" cy="548.6" r="1.55" fill="#fff" stroke="#333" stroke-width="0.75"/>
<polyline points="132.3,530.2 132.3,522.6 151.6,522.6 151.6,537.1" fill="none" stroke="#111" stroke-width="1.2" stroke-linejoin="miter"/>
<polygon points="142.1,513 142.83,514.64 144.62,514.83 143.29,516.04 143.66,517.8 142.1,516.9 140.54,517.8 140.91,516.04 139.58,514.83 141.37,514.64" fill="#111" stroke="#111" stroke-width="0.35" stroke-linejoin="round"/>
<polyline points="186.3,450.7 186.3,444.5 205.4,444.5 205.4,474" fill="none" stroke="#111" stroke-width="1.2" stroke-linejoin="miter"/>
<polygon points="192.5,435.09 193.23,436.63 194.93,436.85 193.69,438.03 194,439.71 192.5,438.89 191,439.71 191.31,438.03 190.07,436.85 191.77,436.63" fill="#111" stroke="#111" stroke-width="0.35" stroke-linejoin="round"/>
<polygon points="198.7,435.09 199.43,436.63 201.13,436.85 199.89,438.03 200.2,439.71 198.7,438.89 197.2,439.71 197.51,438.03 196.27,436.85 197.97,436.63" fill="#111" stroke="#111" stroke-width="0.35" stroke-linejoin="round"/>
<line x1="123.3" y1="569.8" x2="159.8" y2="569.8" stroke="#333" stroke-width="1.4"/>
<line x1="178.8" y1="569.8" x2="214.3" y2="569.8" stroke="#333" stroke-width="1.4"/>
<text x="140.3" y="581.4" font-size="12.1" text-anchor="middle" fill="#1a1a1a">S-MI</text>
<text x="196.6" y="581.4" font-size="12.1" text-anchor="middle" fill="#1a1a1a">MI</text>
<text x="94.76" y="499.5" font-size="12.3" text-anchor="middle" fill="#1a1a1a" transform="rotate(-90 94.76 499.5)">Neutrophils in LV (10<tspan dy="-4.6" font-size="8.8">6</tspan><tspan dy="4.6">/g)</tspan></text>
<line x1="307.5" y1="439.1" x2="307.5" y2="565.15" stroke="#111" stroke-width="1.3"/>
<line x1="303.8" y1="564.5" x2="407.8" y2="564.5" stroke="#111" stroke-width="1.3"/>
<line x1="303.7" y1="564.5" x2="307.5" y2="564.5" stroke="#111" stroke-width="1.3"/>
<text x="301.7" y="568.88" font-size="12.5" text-anchor="end" fill="#1a1a1a">0</text>
<line x1="303.7" y1="533.3" x2="307.5" y2="533.3" stroke="#111" stroke-width="1.3"/>
<text x="301.7" y="537.67" font-size="12.5" text-anchor="end" fill="#1a1a1a">2</text>
<line x1="303.7" y1="502.1" x2="307.5" y2="502.1" stroke="#111" stroke-width="1.3"/>
<text x="301.7" y="506.48" font-size="12.5" text-anchor="end" fill="#1a1a1a">4</text>
<line x1="303.7" y1="470.9" x2="307.5" y2="470.9" stroke="#111" stroke-width="1.3"/>
<text x="301.7" y="475.27" font-size="12.5" text-anchor="end" fill="#1a1a1a">6</text>
<line x1="303.7" y1="439.7" x2="307.5" y2="439.7" stroke="#111" stroke-width="1.3"/>
<text x="301.7" y="444.07" font-size="12.5" text-anchor="end" fill="#1a1a1a">8</text>
<line x1="305.3" y1="548.9" x2="307.5" y2="548.9" stroke="#111" stroke-width="1.3"/>
<line x1="305.3" y1="517.7" x2="307.5" y2="517.7" stroke="#111" stroke-width="1.3"/>
<line x1="305.3" y1="486.5" x2="307.5" y2="486.5" stroke="#111" stroke-width="1.3"/>
<line x1="305.3" y1="455.3" x2="307.5" y2="455.3" stroke="#111" stroke-width="1.3"/>
<rect x="313.65" y="514.89" width="15.3" height="49.61" fill="#fff" stroke="#111" stroke-width="1.3"/>
<rect x="333.35" y="520.82" width="14.7" height="43.68" fill="#0000ff" stroke="#111" stroke-width="1.3"/>
<rect x="367.95" y="480.73" width="14.7" height="83.77" fill="#fff" stroke="#111" stroke-width="1.3"/>
<rect x="387.25" y="472.77" width="14.9" height="91.73" fill="#0000ff" stroke="#111" stroke-width="1.3"/>
<line x1="321.5" y1="514.89" x2="321.5" y2="509.28" stroke="#111" stroke-width="1.1"/>
<line x1="317.5" y1="509.28" x2="325.5" y2="509.28" stroke="#111" stroke-width="1.1"/>
<line x1="340.7" y1="520.82" x2="340.7" y2="518.95" stroke="#111" stroke-width="1.1"/>
<line x1="336.7" y1="518.95" x2="344.7" y2="518.95" stroke="#111" stroke-width="1.1"/>
<line x1="375.3" y1="480.73" x2="375.3" y2="473.24" stroke="#111" stroke-width="1.1"/>
<line x1="371.3" y1="473.24" x2="379.3" y2="473.24" stroke="#111" stroke-width="1.1"/>
<line x1="394.7" y1="472.77" x2="394.7" y2="467.16" stroke="#111" stroke-width="1.1"/>
<line x1="390.7" y1="467.16" x2="398.7" y2="467.16" stroke="#111" stroke-width="1.1"/>
<line x1="358.1" y1="440" x2="358.1" y2="564.5" stroke="#111" stroke-width="1.3" stroke-dasharray="3.2 2.2"/>
<circle cx="321.5" cy="497.26" r="1.55" fill="#fff" stroke="#333" stroke-width="0.75"/>
<circle cx="321.5" cy="511.93" r="1.55" fill="#fff" stroke="#333" stroke-width="0.75"/>
<circle cx="321.5" cy="518.95" r="1.55" fill="#fff" stroke="#333" stroke-width="0.75"/>
<circle cx="321.5" cy="528.78" r="1.55" fill="#fff" stroke="#333" stroke-width="0.75"/>
<circle cx="340.7" cy="515.2" r="1.55" fill="#fff" stroke="#333" stroke-width="0.75"/>
<circle cx="336.5" cy="521.6" r="1.55" fill="#fff" stroke="#333" stroke-width="0.75"/>
<circle cx="341" cy="521.13" r="1.55" fill="#fff" stroke="#333" stroke-width="0.75"/>
<circle cx="345.5" cy="521.91" r="1.55" fill="#fff" stroke="#333" stroke-width="0.75"/>
<circle cx="375.3" cy="452.34" r="1.55" fill="#fff" stroke="#333" stroke-width="0.75"/>
<circle cx="375.3" cy="459.36" r="1.55" fill="#fff" stroke="#333" stroke-width="0.75"/>
<circle cx="375.3" cy="467.78" r="1.55" fill="#fff" stroke="#333" stroke-width="0.75"/>
<circle cx="372.3" cy="472.62" r="1.55" fill="#fff" stroke="#333" stroke-width="0.75"/>
<circle cx="378.3" cy="472.62" r="1.55" fill="#fff" stroke="#333" stroke-width="0.75"/>
<circle cx="375.3" cy="486.81" r="1.55" fill="#fff" stroke="#333" stroke-width="0.75"/>
<circle cx="375.3" cy="492.9" r="1.55" fill="#fff" stroke="#333" stroke-width="0.75"/>
<circle cx="375.3" cy="499.92" r="1.55" fill="#fff" stroke="#333" stroke-width="0.75"/>
<circle cx="375.3" cy="516.3" r="1.55" fill="#fff" stroke="#333" stroke-width="0.75"/>
<circle cx="394.7" cy="452.34" r="1.55" fill="#fff" stroke="#333" stroke-width="0.75"/>
<circle cx="394.7" cy="458.73" r="1.55" fill="#fff" stroke="#333" stroke-width="0.75"/>
<circle cx="391.2" cy="463.88" r="1.55" fill="#fff" stroke="#333" stroke-width="0.75"/>
<circle cx="397.5" cy="463.88" r="1.55" fill="#fff" stroke="#333" stroke-width="0.75"/>
<circle cx="394.7" cy="468.56" r="1.55" fill="#fff" stroke="#333" stroke-width="0.75"/>
<circle cx="391.5" cy="480.88" r="1.55" fill="#fff" stroke="#333" stroke-width="0.75"/>
<circle cx="397.5" cy="480.88" r="1.55" fill="#fff" stroke="#333" stroke-width="0.75"/>
<circle cx="396.8" cy="483.85" r="1.55" fill="#fff" stroke="#333" stroke-width="0.75"/>
<circle cx="394.7" cy="499.92" r="1.55" fill="#fff" stroke="#333" stroke-width="0.75"/>
<line x1="311.5" y1="570.2" x2="346.5" y2="570.2" stroke="#333" stroke-width="1.4"/>
<line x1="367.3" y1="570.2" x2="401.9" y2="570.2" stroke="#333" stroke-width="1.4"/>
<text x="329" y="581.6" font-size="12.1" text-anchor="middle" fill="#1a1a1a">S-MI</text>
<text x="384.6" y="581.6" font-size="12.1" text-anchor="middle" fill="#1a1a1a">MI</text>
<text x="283.16" y="496" font-size="12.3" text-anchor="middle" fill="#1a1a1a" transform="rotate(-90 283.16 496)">Monocytes in LV (10<tspan dy="-4.6" font-size="8.8">6</tspan><tspan dy="4.6">/g)</tspan></text>
<line x1="506" y1="439.3" x2="506" y2="565.65" stroke="#111" stroke-width="1.3"/>
<line x1="502" y1="565" x2="603" y2="565" stroke="#111" stroke-width="1.3"/>
<line x1="502.2" y1="565" x2="506" y2="565" stroke="#111" stroke-width="1.3"/>
<text x="500.2" y="569.38" font-size="12.5" text-anchor="end" fill="#1a1a1a">0.0</text>
<line x1="502.2" y1="523.3" x2="506" y2="523.3" stroke="#111" stroke-width="1.3"/>
<text x="500.2" y="527.67" font-size="12.5" text-anchor="end" fill="#1a1a1a">0.5</text>
<line x1="502.2" y1="481.6" x2="506" y2="481.6" stroke="#111" stroke-width="1.3"/>
<text x="500.2" y="485.98" font-size="12.5" text-anchor="end" fill="#1a1a1a">1.0</text>
<line x1="502.2" y1="439.9" x2="506" y2="439.9" stroke="#111" stroke-width="1.3"/>
<text x="500.2" y="444.27" font-size="12.5" text-anchor="end" fill="#1a1a1a">1.5</text>
<line x1="503.8" y1="556.66" x2="506" y2="556.66" stroke="#111" stroke-width="1.3"/>
<line x1="503.8" y1="548.32" x2="506" y2="548.32" stroke="#111" stroke-width="1.3"/>
<line x1="503.8" y1="539.98" x2="506" y2="539.98" stroke="#111" stroke-width="1.3"/>
<line x1="503.8" y1="531.64" x2="506" y2="531.64" stroke="#111" stroke-width="1.3"/>
<line x1="503.8" y1="514.96" x2="506" y2="514.96" stroke="#111" stroke-width="1.3"/>
<line x1="503.8" y1="506.62" x2="506" y2="506.62" stroke="#111" stroke-width="1.3"/>
<line x1="503.8" y1="498.28" x2="506" y2="498.28" stroke="#111" stroke-width="1.3"/>
<line x1="503.8" y1="489.94" x2="506" y2="489.94" stroke="#111" stroke-width="1.3"/>
<line x1="503.8" y1="473.26" x2="506" y2="473.26" stroke="#111" stroke-width="1.3"/>
<line x1="503.8" y1="464.92" x2="506" y2="464.92" stroke="#111" stroke-width="1.3"/>
<line x1="503.8" y1="456.58" x2="506" y2="456.58" stroke="#111" stroke-width="1.3"/>
<line x1="503.8" y1="448.24" x2="506" y2="448.24" stroke="#111" stroke-width="1.3"/>
<rect x="511.45" y="539.98" width="15.8" height="25.02" fill="#fff" stroke="#111" stroke-width="1.3"/>
<rect x="531.15" y="551.41" width="15.2" height="13.59" fill="#0000ff" stroke="#111" stroke-width="1.3"/>
<rect x="566.25" y="539.98" width="15.1" height="25.02" fill="#fff" stroke="#111" stroke-width="1.3"/>
<rect x="585.25" y="530.81" width="15.1" height="34.19" fill="#0000ff" stroke="#111" stroke-width="1.3"/>
<line x1="519.4" y1="539.98" x2="519.4" y2="535.39" stroke="#111" stroke-width="1.1"/>
<line x1="515.4" y1="535.39" x2="523.4" y2="535.39" stroke="#111" stroke-width="1.1"/>
<line x1="538.7" y1="551.41" x2="538.7" y2="549.15" stroke="#111" stroke-width="1.1"/>
<line x1="534.7" y1="549.15" x2="542.7" y2="549.15" stroke="#111" stroke-width="1.1"/>
<line x1="573.8" y1="539.98" x2="573.8" y2="535.81" stroke="#111" stroke-width="1.1"/>
<line x1="569.8" y1="535.81" x2="577.8" y2="535.81" stroke="#111" stroke-width="1.1"/>
<line x1="592.8" y1="530.81" x2="592.8" y2="522.47" stroke="#111" stroke-width="1.1"/>
<line x1="588.8" y1="522.47" x2="596.8" y2="522.47" stroke="#111" stroke-width="1.1"/>
<line x1="556.2" y1="440" x2="556.2" y2="565" stroke="#111" stroke-width="1.3" stroke-dasharray="3.2 2.2"/>
<circle cx="519.4" cy="526.64" r="1.55" fill="#fff" stroke="#333" stroke-width="0.75"/>
<circle cx="514.3" cy="546.65" r="1.55" fill="#fff" stroke="#333" stroke-width="0.75"/>
<circle cx="520.2" cy="546.65" r="1.55" fill="#fff" stroke="#333" stroke-width="0.75"/>
<circle cx="525.2" cy="546.65" r="1.55" fill="#fff" stroke="#333" stroke-width="0.75"/>
<circle cx="535.8" cy="544.98" r="1.55" fill="#fff" stroke="#333" stroke-width="0.75"/>
<circle cx="541" cy="544.98" r="1.55" fill="#fff" stroke="#333" stroke-width="0.75"/>
<circle cx="538.7" cy="553.57" r="1.55" fill="#fff" stroke="#333" stroke-width="0.75"/>
<circle cx="538.7" cy="557.99" r="1.55" fill="#fff" stroke="#333" stroke-width="0.75"/>
<circle cx="573.8" cy="519.63" r="1.55" fill="#fff" stroke="#333" stroke-width="0.75"/>
<circle cx="573.8" cy="522.47" r="1.55" fill="#fff" stroke="#333" stroke-width="0.75"/>
<circle cx="573.8" cy="530.81" r="1.55" fill="#fff" stroke="#333" stroke-width="0.75"/>
<circle cx="571.2" cy="535.81" r="1.55" fill="#fff" stroke="#333" stroke-width="0.75"/>
<circle cx="577" cy="535.81" r="1.55" fill="#fff" stroke="#333" stroke-width="0.75"/>
<circle cx="568.6" cy="551.41" r="1.55" fill="#fff" stroke="#333" stroke-width="0.75"/>
<circle cx="573.8" cy="551.41" r="1.55" fill="#fff" stroke="#333" stroke-width="0.75"/>
<circle cx="579.2" cy="551.41" r="1.55" fill="#fff" stroke="#333" stroke-width="0.75"/>
<circle cx="573.8" cy="557.99" r="1.55" fill="#fff" stroke="#333" stroke-width="0.75"/>
<circle cx="592.5" cy="470.76" r="1.55" fill="#fff" stroke="#333" stroke-width="0.75"/>
<circle cx="592.5" cy="514.96" r="1.55" fill="#fff" stroke="#333" stroke-width="0.75"/>
<circle cx="592.5" cy="532.81" r="1.55" fill="#fff" stroke="#333" stroke-width="0.75"/>
<circle cx="587.5" cy="539.98" r="1.55" fill="#fff" stroke="#333" stroke-width="0.75"/>
<circle cx="597.8" cy="539.98" r="1.55" fill="#fff" stroke="#333" stroke-width="0.75"/>
<circle cx="592.5" cy="545.82" r="1.55" fill="#fff" stroke="#333" stroke-width="0.75"/>
<circle cx="592.5" cy="556.66" r="1.55" fill="#fff" stroke="#333" stroke-width="0.75"/>
<line x1="509.7" y1="569.8" x2="545.2" y2="569.8" stroke="#333" stroke-width="1.4"/>
<line x1="565.6" y1="569.8" x2="600.6" y2="569.8" stroke="#333" stroke-width="1.4"/>
<text x="527.5" y="581.4" font-size="12.1" text-anchor="middle" fill="#1a1a1a">S-MI</text>
<text x="583.1" y="581.4" font-size="12.1" text-anchor="middle" fill="#1a1a1a">MI</text>
<text x="471.56" y="501.9" font-size="12.3" text-anchor="middle" fill="#1a1a1a" transform="rotate(-90 471.56 501.9)">Macrophages in LV (10<tspan dy="-4.6" font-size="8.8">6</tspan><tspan dy="4.6">/g)</tspan></text>
<line x1="141.8" y1="615.5" x2="141.8" y2="758.35" stroke="#111" stroke-width="1.3"/>
<line x1="136" y1="757.7" x2="198.8" y2="757.7" stroke="#111" stroke-width="1.3"/>
<line x1="138" y1="757.7" x2="141.8" y2="757.7" stroke="#111" stroke-width="1.3"/>
<text x="136" y="762.08" font-size="12.5" text-anchor="end" fill="#1a1a1a">0</text>
<line x1="138" y1="710.5" x2="141.8" y2="710.5" stroke="#111" stroke-width="1.3"/>
<text x="136" y="714.88" font-size="12.5" text-anchor="end" fill="#1a1a1a">20</text>
<line x1="138" y1="663.3" x2="141.8" y2="663.3" stroke="#111" stroke-width="1.3"/>
<text x="136" y="667.68" font-size="12.5" text-anchor="end" fill="#1a1a1a">40</text>
<line x1="138" y1="616.1" x2="141.8" y2="616.1" stroke="#111" stroke-width="1.3"/>
<text x="136" y="620.48" font-size="12.5" text-anchor="end" fill="#1a1a1a">60</text>
<line x1="139.6" y1="734.1" x2="141.8" y2="734.1" stroke="#111" stroke-width="1.3"/>
<line x1="139.6" y1="686.9" x2="141.8" y2="686.9" stroke="#111" stroke-width="1.3"/>
<line x1="139.6" y1="639.7" x2="141.8" y2="639.7" stroke="#111" stroke-width="1.3"/>
<rect x="147.85" y="644.42" width="18.4" height="113.28" fill="#fff" stroke="#111" stroke-width="1.3"/>
<rect x="174.15" y="647.25" width="17.7" height="110.45" fill="#0000ff" stroke="#111" stroke-width="1.3"/>
<line x1="156.8" y1="644.42" x2="156.8" y2="639.23" stroke="#111" stroke-width="1.1"/>
<line x1="151.8" y1="639.23" x2="161.8" y2="639.23" stroke="#111" stroke-width="1.1"/>
<line x1="183.1" y1="647.25" x2="183.1" y2="642.53" stroke="#111" stroke-width="1.1"/>
<line x1="178.1" y1="642.53" x2="188.1" y2="642.53" stroke="#111" stroke-width="1.1"/>
<circle cx="156.8" cy="620.11" r="1.55" fill="#fff" stroke="#333" stroke-width="0.75"/>
<circle cx="147.6" cy="625.3" r="1.55" fill="#fff" stroke="#333" stroke-width="0.75"/>
<circle cx="165.5" cy="625.3" r="1.55" fill="#fff" stroke="#333" stroke-width="0.75"/>
<circle cx="153.1" cy="627.43" r="1.55" fill="#fff" stroke="#333" stroke-width="0.75"/>
<circle cx="161.2" cy="627.43" r="1.55" fill="#fff" stroke="#333" stroke-width="0.75"/>
<circle cx="153.1" cy="631.2" r="1.55" fill="#fff" stroke="#333" stroke-width="0.75"/>
<circle cx="161.2" cy="631.2" r="1.55" fill="#fff" stroke="#333" stroke-width="0.75"/>
<circle cx="156.8" cy="639.23" r="1.55" fill="#fff" stroke="#333" stroke-width="0.75"/>
<circle cx="147.6" cy="643.48" r="1.55" fill="#fff" stroke="#333" stroke-width="0.75"/>
<circle cx="166.2" cy="643.48" r="1.55" fill="#fff" stroke="#333" stroke-width="0.75"/>
<circle cx="153.1" cy="646.78" r="1.55" fill="#fff" stroke="#333" stroke-width="0.75"/>
<circle cx="161.2" cy="646.78" r="1.55" fill="#fff" stroke="#333" stroke-width="0.75"/>
<circle cx="147.6" cy="650.79" r="1.55" fill="#fff" stroke="#333" stroke-width="0.75"/>
<circle cx="166.2" cy="650.79" r="1.55" fill="#fff" stroke="#333" stroke-width="0.75"/>
<circle cx="153.1" cy="654.57" r="1.55" fill="#fff" stroke="#333" stroke-width="0.75"/>
<circle cx="161.2" cy="654.57" r="1.55" fill="#fff" stroke="#333" stroke-width="0.75"/>
<circle cx="156.8" cy="659.05" r="1.55" fill="#fff" stroke="#333" stroke-width="0.75"/>
<circle cx="156.8" cy="672.74" r="1.55" fill="#fff" stroke="#333" stroke-width="0.75"/>
<circle cx="156.8" cy="677.7" r="1.55" fill="#fff" stroke="#333" stroke-width="0.75"/>
<circle cx="183.1" cy="620.11" r="1.55" fill="#fff" stroke="#333" stroke-width="0.75"/>
<circle cx="183.1" cy="624.6" r="1.55" fill="#fff" stroke="#333" stroke-width="0.75"/>
<circle cx="177.1" cy="631.68" r="1.55" fill="#fff" stroke="#333" stroke-width="0.75"/>
<circle cx="183.1" cy="634.98" r="1.55" fill="#fff" stroke="#333" stroke-width="0.75"/>
<circle cx="180" cy="638.52" r="1.55" fill="#fff" stroke="#333" stroke-width="0.75"/>
<circle cx="186.6" cy="638.52" r="1.55" fill="#fff" stroke="#333" stroke-width="0.75"/>
<circle cx="183.1" cy="642.53" r="1.55" fill="#fff" stroke="#333" stroke-width="0.75"/>
<circle cx="183.1" cy="647.49" r="1.55" fill="#fff" stroke="#333" stroke-width="0.75"/>
<circle cx="183.1" cy="653.86" r="1.55" fill="#fff" stroke="#333" stroke-width="0.75"/>
<circle cx="177.1" cy="660.47" r="1.55" fill="#fff" stroke="#333" stroke-width="0.75"/>
<circle cx="188.7" cy="660.47" r="1.55" fill="#fff" stroke="#333" stroke-width="0.75"/>
<circle cx="183.1" cy="659.05" r="1.55" fill="#fff" stroke="#333" stroke-width="0.75"/>
<circle cx="183.1" cy="665.66" r="1.55" fill="#fff" stroke="#333" stroke-width="0.75"/>
<circle cx="183.1" cy="669.2" r="1.55" fill="#fff" stroke="#333" stroke-width="0.75"/>
<text x="106.16" y="686.6" font-size="13.9" text-anchor="middle" fill="#1a1a1a" transform="rotate(-90 106.16 686.6)">Area at risk (% of LV)</text>
<line x1="278.3" y1="620.3" x2="278.3" y2="755.5" stroke="#111" stroke-width="1.4"/>
<line x1="273.5" y1="750.8" x2="408.58" y2="750.8" stroke="#111" stroke-width="1.4"/>
<line x1="273.5" y1="750.8" x2="278.3" y2="750.8" stroke="#111" stroke-width="1.4"/>
<text x="269.4" y="754.51" font-size="10.6" text-anchor="end" fill="#1a1a1a">0</text>
<line x1="273.5" y1="721.35" x2="278.3" y2="721.35" stroke="#111" stroke-width="1.4"/>
<text x="269.4" y="725.06" font-size="10.6" text-anchor="end" fill="#1a1a1a">25</text>
<line x1="273.5" y1="691.9" x2="278.3" y2="691.9" stroke="#111" stroke-width="1.4"/>
<text x="269.4" y="695.61" font-size="10.6" text-anchor="end" fill="#1a1a1a">50</text>
<line x1="273.5" y1="662.45" x2="278.3" y2="662.45" stroke="#111" stroke-width="1.4"/>
<text x="269.4" y="666.16" font-size="10.6" text-anchor="end" fill="#1a1a1a">75</text>
<line x1="273.5" y1="633" x2="278.3" y2="633" stroke="#111" stroke-width="1.4"/>
<text x="269.4" y="636.71" font-size="10.6" text-anchor="end" fill="#1a1a1a">100</text>
<line x1="278.3" y1="750.8" x2="278.3" y2="755.5" stroke="#111" stroke-width="1.4"/>
<line x1="284.48" y1="750.8" x2="284.48" y2="753.7" stroke="#111" stroke-width="1.4"/>
<line x1="290.66" y1="750.8" x2="290.66" y2="753.7" stroke="#111" stroke-width="1.4"/>
<line x1="296.84" y1="750.8" x2="296.84" y2="753.7" stroke="#111" stroke-width="1.4"/>
<line x1="303.02" y1="750.8" x2="303.02" y2="753.7" stroke="#111" stroke-width="1.4"/>
<line x1="309.2" y1="750.8" x2="309.2" y2="755.5" stroke="#111" stroke-width="1.4"/>
<line x1="315.38" y1="750.8" x2="315.38" y2="753.7" stroke="#111" stroke-width="1.4"/>
<line x1="321.56" y1="750.8" x2="321.56" y2="753.7" stroke="#111" stroke-width="1.4"/>
<line x1="327.74" y1="750.8" x2="327.74" y2="753.7" stroke="#111" stroke-width="1.4"/>
<line x1="333.92" y1="750.8" x2="333.92" y2="753.7" stroke="#111" stroke-width="1.4"/>
<line x1="340.1" y1="750.8" x2="340.1" y2="755.5" stroke="#111" stroke-width="1.4"/>
<line x1="346.28" y1="750.8" x2="346.28" y2="753.7" stroke="#111" stroke-width="1.4"/>
<line x1="352.46" y1="750.8" x2="352.46" y2="753.7" stroke="#111" stroke-width="1.4"/>
<line x1="358.64" y1="750.8" x2="358.64" y2="753.7" stroke="#111" stroke-width="1.4"/>
<line x1="364.82" y1="750.8" x2="364.82" y2="753.7" stroke="#111" stroke-width="1.4"/>
<line x1="371" y1="750.8" x2="371" y2="755.5" stroke="#111" stroke-width="1.4"/>
<line x1="377.18" y1="750.8" x2="377.18" y2="753.7" stroke="#111" stroke-width="1.4"/>
<line x1="383.36" y1="750.8" x2="383.36" y2="753.7" stroke="#111" stroke-width="1.4"/>
<line x1="389.54" y1="750.8" x2="389.54" y2="753.7" stroke="#111" stroke-width="1.4"/>
<line x1="395.72" y1="750.8" x2="395.72" y2="753.7" stroke="#111" stroke-width="1.4"/>
<line x1="401.9" y1="750.8" x2="401.9" y2="755.5" stroke="#111" stroke-width="1.4"/>
<line x1="408.08" y1="750.8" x2="408.08" y2="753.7" stroke="#111" stroke-width="1.4"/>
<text x="278.3" y="767.9" font-size="11.2" text-anchor="middle" fill="#1a1a1a">0</text>
<text x="309.2" y="767.9" font-size="11.2" text-anchor="middle" fill="#1a1a1a">5</text>
<text x="340.1" y="767.9" font-size="11.2" text-anchor="middle" fill="#1a1a1a">10</text>
<text x="371" y="767.9" font-size="11.2" text-anchor="middle" fill="#1a1a1a">15</text>
<text x="401.9" y="767.9" font-size="11.2" text-anchor="middle" fill="#1a1a1a">20</text>
<polyline points="278.3,633 327.74,633 327.74,641.36 352.46,641.36 352.46,649.85 408.08,649.85" fill="none" stroke="#0000ff" stroke-width="1.6" stroke-linejoin="miter"/>
<polyline points="278.3,633 290.66,633 290.66,639.6 296.84,639.6 296.84,652.67 303.02,652.67 303.02,665.75 309.2,665.75 309.2,672.23 315.38,672.23 315.38,678.82 327.74,678.82 327.74,685.3 408.08,685.3" fill="none" stroke="#111" stroke-width="1.6" stroke-linejoin="miter"/>
<text x="373.2" y="670.7" font-size="11.3" text-anchor="middle" fill="#1a1a1a">p = 0.050</text>
<text x="345" y="783.5" font-size="13.5" text-anchor="middle" fill="#1a1a1a">Days post MI</text>
<text x="247.84" y="681.6" font-size="13.75" text-anchor="middle" fill="#1a1a1a" transform="rotate(-90 247.84 681.6)">Survival rate (%)</text>
<line x1="426.3" y1="624.8" x2="443.4" y2="624.8" stroke="#111" stroke-width="1.6"/>
<line x1="426.3" y1="641" x2="443.4" y2="641" stroke="#0000ff" stroke-width="1.6"/>
<text x="447.9" y="627.8" font-size="11.2" text-anchor="start" fill="#1a1a1a">Control</text>
<text x="447.9" y="645.9" font-size="11.2" text-anchor="start" fill="#1a1a1a">ORX</text>
<line x1="556" y1="624.15" x2="556" y2="758.65" stroke="#111" stroke-width="1.3"/>
<line x1="552.2" y1="758" x2="609.7" y2="758" stroke="#111" stroke-width="1.3"/>
<line x1="552.2" y1="758" x2="556" y2="758" stroke="#111" stroke-width="1.3"/>
<text x="550.2" y="762.38" font-size="12.5" text-anchor="end" fill="#1a1a1a">0</text>
<line x1="552.2" y1="731.35" x2="556" y2="731.35" stroke="#111" stroke-width="1.3"/>
<text x="550.2" y="735.73" font-size="12.5" text-anchor="end" fill="#1a1a1a">10</text>
<line x1="552.2" y1="704.7" x2="556" y2="704.7" stroke="#111" stroke-width="1.3"/>
<text x="550.2" y="709.08" font-size="12.5" text-anchor="end" fill="#1a1a1a">20</text>
<line x1="552.2" y1="678.05" x2="556" y2="678.05" stroke="#111" stroke-width="1.3"/>
<text x="550.2" y="682.42" font-size="12.5" text-anchor="end" fill="#1a1a1a">30</text>
<line x1="552.2" y1="651.4" x2="556" y2="651.4" stroke="#111" stroke-width="1.3"/>
<text x="550.2" y="655.77" font-size="12.5" text-anchor="end" fill="#1a1a1a">40</text>
<line x1="552.2" y1="624.75" x2="556" y2="624.75" stroke="#111" stroke-width="1.3"/>
<text x="550.2" y="629.12" font-size="12.5" text-anchor="end" fill="#1a1a1a">50</text>
<line x1="553.8" y1="744.67" x2="556" y2="744.67" stroke="#111" stroke-width="1.3"/>
<line x1="553.8" y1="718.02" x2="556" y2="718.02" stroke="#111" stroke-width="1.3"/>
<line x1="553.8" y1="691.38" x2="556" y2="691.38" stroke="#111" stroke-width="1.3"/>
<line x1="553.8" y1="664.73" x2="556" y2="664.73" stroke="#111" stroke-width="1.3"/>
<line x1="553.8" y1="638.08" x2="556" y2="638.08" stroke="#111" stroke-width="1.3"/>
<rect x="561.35" y="639.67" width="17.1" height="118.33" fill="#fff" stroke="#111" stroke-width="1.3"/>
<rect x="586.05" y="740.01" width="16.7" height="17.99" fill="#0000ff" stroke="#111" stroke-width="1.3"/>
<text x="570.5" y="637.1" font-size="11" text-anchor="middle" fill="#1a1a1a">8/18</text>
<text x="595.9" y="736.7" font-size="11" text-anchor="middle" fill="#1a1a1a">1/14</text>
<polyline points="569.3,624.2 569.3,617.1 594.5,617.1 594.5,712.4" fill="none" stroke="#111" stroke-width="1.2" stroke-linejoin="miter"/>
<polygon points="581.6,605.62 582.33,607.46 584.31,607.59 582.79,608.86 583.28,610.78 581.6,609.72 579.92,610.78 580.41,608.86 578.89,607.59 580.87,607.46" fill="#111" stroke="#111" stroke-width="0.35" stroke-linejoin="round"/>
<text x="524.03" y="689.2" font-size="13.2" text-anchor="middle" fill="#1a1a1a" transform="rotate(-90 524.03 689.2)">Rupture rate (%)</text>
<line x1="47.6" y1="843.4" x2="47.6" y2="979.65" stroke="#111" stroke-width="1.3"/>
<line x1="43.6" y1="979" x2="183.1" y2="979" stroke="#111" stroke-width="1.3"/>
<line x1="43.8" y1="979" x2="47.6" y2="979" stroke="#111" stroke-width="1.3"/>
<text x="40.6" y="983.38" font-size="12.5" text-anchor="end" fill="#1a1a1a">0</text>
<line x1="43.8" y1="945.25" x2="47.6" y2="945.25" stroke="#111" stroke-width="1.3"/>
<text x="40.6" y="949.62" font-size="12.5" text-anchor="end" fill="#1a1a1a">100</text>
<line x1="43.8" y1="911.5" x2="47.6" y2="911.5" stroke="#111" stroke-width="1.3"/>
<text x="40.6" y="915.88" font-size="12.5" text-anchor="end" fill="#1a1a1a">200</text>
<line x1="43.8" y1="877.75" x2="47.6" y2="877.75" stroke="#111" stroke-width="1.3"/>
<text x="40.6" y="882.12" font-size="12.5" text-anchor="end" fill="#1a1a1a">300</text>
<line x1="43.8" y1="844" x2="47.6" y2="844" stroke="#111" stroke-width="1.3"/>
<text x="40.6" y="848.38" font-size="12.5" text-anchor="end" fill="#1a1a1a">400</text>
<line x1="45.4" y1="962.12" x2="47.6" y2="962.12" stroke="#111" stroke-width="1.3"/>
<line x1="45.4" y1="928.38" x2="47.6" y2="928.38" stroke="#111" stroke-width="1.3"/>
<line x1="45.4" y1="894.62" x2="47.6" y2="894.62" stroke="#111" stroke-width="1.3"/>
<line x1="45.4" y1="860.88" x2="47.6" y2="860.88" stroke="#111" stroke-width="1.3"/>
<rect x="56.65" y="960.44" width="13.7" height="18.56" fill="#fff" stroke="#111" stroke-width="1.3"/>
<rect x="74.45" y="961.79" width="13.6" height="17.21" fill="#0000ff" stroke="#111" stroke-width="1.3"/>
<rect x="99.45" y="952.67" width="13.6" height="26.32" fill="#fff" stroke="#111" stroke-width="1.3"/>
<rect x="116.75" y="952.34" width="14.2" height="26.66" fill="#0000ff" stroke="#111" stroke-width="1.3"/>
<rect x="142.15" y="904.08" width="14" height="74.92" fill="#fff" stroke="#111" stroke-width="1.3"/>
<rect x="159.95" y="927.02" width="13.6" height="51.97" fill="#0000ff" stroke="#111" stroke-width="1.3"/>
<line x1="63.5" y1="960.44" x2="63.5" y2="959.42" stroke="#111" stroke-width="1.1"/>
<line x1="59.5" y1="959.42" x2="67.5" y2="959.42" stroke="#111" stroke-width="1.1"/>
<line x1="81.2" y1="961.79" x2="81.2" y2="960.77" stroke="#111" stroke-width="1.1"/>
<line x1="77.2" y1="960.77" x2="85.2" y2="960.77" stroke="#111" stroke-width="1.1"/>
<line x1="106.2" y1="952.67" x2="106.2" y2="950.99" stroke="#111" stroke-width="1.1"/>
<line x1="102.2" y1="950.99" x2="110.2" y2="950.99" stroke="#111" stroke-width="1.1"/>
<line x1="123.8" y1="952.34" x2="123.8" y2="950.65" stroke="#111" stroke-width="1.1"/>
<line x1="119.8" y1="950.65" x2="127.8" y2="950.65" stroke="#111" stroke-width="1.1"/>
<line x1="149.1" y1="904.08" x2="149.1" y2="894.29" stroke="#111" stroke-width="1.1"/>
<line x1="145.1" y1="894.29" x2="153.1" y2="894.29" stroke="#111" stroke-width="1.1"/>
<line x1="166.8" y1="927.02" x2="166.8" y2="924.66" stroke="#111" stroke-width="1.1"/>
<line x1="162.8" y1="924.66" x2="170.8" y2="924.66" stroke="#111" stroke-width="1.1"/>
<circle cx="57.5" cy="957.74" r="1.55" fill="#fff" stroke="#333" stroke-width="0.75"/>
<circle cx="63.5" cy="955.71" r="1.55" fill="#fff" stroke="#333" stroke-width="0.75"/>
<circle cx="70" cy="955.71" r="1.55" fill="#fff" stroke="#333" stroke-width="0.75"/>
<circle cx="57.5" cy="961.11" r="1.55" fill="#fff" stroke="#333" stroke-width="0.75"/>
<circle cx="60" cy="962.46" r="1.55" fill="#fff" stroke="#333" stroke-width="0.75"/>
<circle cx="63.5" cy="961.79" r="1.55" fill="#fff" stroke="#333" stroke-width="0.75"/>
<circle cx="57.5" cy="965.84" r="1.55" fill="#fff" stroke="#333" stroke-width="0.75"/>
<circle cx="70" cy="959.76" r="1.55" fill="#fff" stroke="#333" stroke-width="0.75"/>
<circle cx="66.8" cy="960.44" r="1.55" fill="#fff" stroke="#333" stroke-width="0.75"/>
<circle cx="81" cy="952.67" r="1.55" fill="#fff" stroke="#333" stroke-width="0.75"/>
<circle cx="75" cy="961.11" r="1.55" fill="#fff" stroke="#333" stroke-width="0.75"/>
<circle cx="81" cy="961.11" r="1.55" fill="#fff" stroke="#333" stroke-width="0.75"/>
<circle cx="87.5" cy="961.11" r="1.55" fill="#fff" stroke="#333" stroke-width="0.75"/>
<circle cx="75" cy="963.81" r="1.55" fill="#fff" stroke="#333" stroke-width="0.75"/>
<circle cx="81" cy="963.81" r="1.55" fill="#fff" stroke="#333" stroke-width="0.75"/>
<circle cx="87.5" cy="963.81" r="1.55" fill="#fff" stroke="#333" stroke-width="0.75"/>
<circle cx="105.8" cy="945.92" r="1.55" fill="#fff" stroke="#333" stroke-width="0.75"/>
<circle cx="102.2" cy="946.94" r="1.55" fill="#fff" stroke="#333" stroke-width="0.75"/>
<circle cx="109.8" cy="946.94" r="1.55" fill="#fff" stroke="#333" stroke-width="0.75"/>
<circle cx="99.8" cy="950.99" r="1.55" fill="#fff" stroke="#333" stroke-width="0.75"/>
<circle cx="104.8" cy="950.99" r="1.55" fill="#fff" stroke="#333" stroke-width="0.75"/>
<circle cx="108.8" cy="950.99" r="1.55" fill="#fff" stroke="#333" stroke-width="0.75"/>
<circle cx="112.2" cy="950.99" r="1.55" fill="#fff" stroke="#333" stroke-width="0.75"/>
<circle cx="99.8" cy="953.69" r="1.55" fill="#fff" stroke="#333" stroke-width="0.75"/>
<circle cx="106.8" cy="953.69" r="1.55" fill="#fff" stroke="#333" stroke-width="0.75"/>
<circle cx="111.8" cy="953.69" r="1.55" fill="#fff" stroke="#333" stroke-width="0.75"/>
<circle cx="123.6" cy="943.9" r="1.55" fill="#fff" stroke="#333" stroke-width="0.75"/>
<circle cx="119.7" cy="950.99" r="1.55" fill="#fff" stroke="#333" stroke-width="0.75"/>
<circle cx="124.6" cy="950.99" r="1.55" fill="#fff" stroke="#333" stroke-width="0.75"/>
<circle cx="130.6" cy="950.99" r="1.55" fill="#fff" stroke="#333" stroke-width="0.75"/>
<circle cx="120.7" cy="953.69" r="1.55" fill="#fff" stroke="#333" stroke-width="0.75"/>
<circle cx="126.6" cy="953.69" r="1.55" fill="#fff" stroke="#333" stroke-width="0.75"/>
<circle cx="129.6" cy="953.69" r="1.55" fill="#fff" stroke="#333" stroke-width="0.75"/>
<circle cx="120.7" cy="957.4" r="1.55" fill="#fff" stroke="#333" stroke-width="0.75"/>
<circle cx="126.6" cy="957.4" r="1.55" fill="#fff" stroke="#333" stroke-width="0.75"/>
<circle cx="149" cy="849.74" r="1.55" fill="#fff" stroke="#333" stroke-width="0.75"/>
<circle cx="146.4" cy="888.55" r="1.55" fill="#fff" stroke="#333" stroke-width="0.75"/>
<circle cx="151.8" cy="887.2" r="1.55" fill="#fff" stroke="#333" stroke-width="0.75"/>
<circle cx="146.4" cy="902.05" r="1.55" fill="#fff" stroke="#333" stroke-width="0.75"/>
<circle cx="151.4" cy="900.36" r="1.55" fill="#fff" stroke="#333" stroke-width="0.75"/>
<circle cx="149" cy="908.8" r="1.55" fill="#fff" stroke="#333" stroke-width="0.75"/>
<circle cx="149" cy="919.94" r="1.55" fill="#fff" stroke="#333" stroke-width="0.75"/>
<circle cx="149" cy="927.02" r="1.55" fill="#fff" stroke="#333" stroke-width="0.75"/>
<circle cx="149" cy="949.98" r="1.55" fill="#fff" stroke="#333" stroke-width="0.75"/>
<circle cx="166.7" cy="909.31" r="1.55" fill="#fff" stroke="#333" stroke-width="0.75"/>
<circle cx="164.3" cy="918.25" r="1.55" fill="#fff" stroke="#333" stroke-width="0.75"/>
<circle cx="169.3" cy="917.58" r="1.55" fill="#fff" stroke="#333" stroke-width="0.75"/>
<circle cx="166.7" cy="920.95" r="1.55" fill="#fff" stroke="#333" stroke-width="0.75"/>
<circle cx="160.3" cy="929.05" r="1.55" fill="#fff" stroke="#333" stroke-width="0.75"/>
<circle cx="163.3" cy="929.05" r="1.55" fill="#fff" stroke="#333" stroke-width="0.75"/>
<circle cx="167.3" cy="929.05" r="1.55" fill="#fff" stroke="#333" stroke-width="0.75"/>
<circle cx="172.6" cy="929.05" r="1.55" fill="#fff" stroke="#333" stroke-width="0.75"/>
<circle cx="161.3" cy="931.08" r="1.55" fill="#fff" stroke="#333" stroke-width="0.75"/>
<circle cx="166.3" cy="931.08" r="1.55" fill="#fff" stroke="#333" stroke-width="0.75"/>
<circle cx="171.6" cy="931.08" r="1.55" fill="#fff" stroke="#333" stroke-width="0.75"/>
<circle cx="166.7" cy="940.86" r="1.55" fill="#fff" stroke="#333" stroke-width="0.75"/>
<polyline points="149,841.6 149,831.9 167.3,831.9 167.3,877.4" fill="none" stroke="#111" stroke-width="1.2" stroke-linejoin="miter"/>
<polygon points="158.3,820.52 159.03,822.36 161.01,822.49 159.49,823.76 159.98,825.68 158.3,824.62 156.62,825.68 157.11,823.76 155.59,822.49 157.57,822.36" fill="#111" stroke="#111" stroke-width="0.35" stroke-linejoin="round"/>
<line x1="56.5" y1="983.5" x2="87.3" y2="983.5" stroke="#333" stroke-width="1.4"/>
<line x1="101.8" y1="983.5" x2="132.6" y2="983.5" stroke="#333" stroke-width="1.4"/>
<line x1="144.5" y1="983.5" x2="175.2" y2="983.5" stroke="#333" stroke-width="1.4"/>
<text x="73.3" y="996.4" font-size="12.3" text-anchor="middle" fill="#1a1a1a">BL</text>
<text x="116.5" y="996.4" font-size="12.3" text-anchor="middle" fill="#1a1a1a">24h</text>
<text x="159.2" y="996.4" font-size="12.3" text-anchor="middle" fill="#1a1a1a">3w</text>
<text x="11.91" y="911.8" font-size="13.3" text-anchor="middle" fill="#1a1a1a" transform="rotate(-90 11.91 911.8)">LV volume diastole (µL)</text>
<line x1="492.6" y1="851.3" x2="492.6" y2="987.05" stroke="#111" stroke-width="1.3"/>
<line x1="488.6" y1="986.4" x2="541.6" y2="986.4" stroke="#111" stroke-width="1.3"/>
<line x1="488.8" y1="986.4" x2="492.6" y2="986.4" stroke="#111" stroke-width="1.3"/>
<text x="486.8" y="990.77" font-size="12.5" text-anchor="end" fill="#1a1a1a">0</text>
<line x1="488.8" y1="952.77" x2="492.6" y2="952.77" stroke="#111" stroke-width="1.3"/>
<text x="486.8" y="957.15" font-size="12.5" text-anchor="end" fill="#1a1a1a">500</text>
<line x1="488.8" y1="919.15" x2="492.6" y2="919.15" stroke="#111" stroke-width="1.3"/>
<text x="486.8" y="923.52" font-size="12.5" text-anchor="end" fill="#1a1a1a">1000</text>
<line x1="488.8" y1="885.52" x2="492.6" y2="885.52" stroke="#111" stroke-width="1.3"/>
<text x="486.8" y="889.9" font-size="12.5" text-anchor="end" fill="#1a1a1a">1500</text>
<line x1="488.8" y1="851.9" x2="492.6" y2="851.9" stroke="#111" stroke-width="1.3"/>
<text x="486.8" y="856.27" font-size="12.5" text-anchor="end" fill="#1a1a1a">2000</text>
<line x1="490.4" y1="969.59" x2="492.6" y2="969.59" stroke="#111" stroke-width="1.3"/>
<line x1="490.4" y1="935.96" x2="492.6" y2="935.96" stroke="#111" stroke-width="1.3"/>
<line x1="490.4" y1="902.34" x2="492.6" y2="902.34" stroke="#111" stroke-width="1.3"/>
<line x1="490.4" y1="868.71" x2="492.6" y2="868.71" stroke="#111" stroke-width="1.3"/>
<rect x="497.75" y="948.54" width="18.5" height="37.86" fill="#0000ff" stroke="#111" stroke-width="1.3"/>
<rect x="521.25" y="926.28" width="18.1" height="60.12" fill="#d5d5d5" stroke="#111" stroke-width="1.3"/>
<line x1="507.1" y1="948.54" x2="507.1" y2="924.33" stroke="#111" stroke-width="1.1"/>
<line x1="502.1" y1="924.33" x2="512.1" y2="924.33" stroke="#111" stroke-width="1.1"/>
<line x1="530.3" y1="926.28" x2="530.3" y2="913.3" stroke="#111" stroke-width="1.1"/>
<line x1="525.3" y1="913.3" x2="535.3" y2="913.3" stroke="#111" stroke-width="1.1"/>
<circle cx="507" cy="891.38" r="1.55" fill="#fff" stroke="#333" stroke-width="0.75"/>
<circle cx="507" cy="919.62" r="1.55" fill="#fff" stroke="#333" stroke-width="0.75"/>
<circle cx="504" cy="942.69" r="1.55" fill="#fff" stroke="#333" stroke-width="0.75"/>
<circle cx="510" cy="940.6" r="1.55" fill="#fff" stroke="#333" stroke-width="0.75"/>
<circle cx="504" cy="955.73" r="1.55" fill="#fff" stroke="#333" stroke-width="0.75"/>
<circle cx="510" cy="953.72" r="1.55" fill="#fff" stroke="#333" stroke-width="0.75"/>
<circle cx="507" cy="959.03" r="1.55" fill="#fff" stroke="#333" stroke-width="0.75"/>
<circle cx="507" cy="964.14" r="1.55" fill="#fff" stroke="#333" stroke-width="0.75"/>
<circle cx="530" cy="860.91" r="1.55" fill="#fff" stroke="#333" stroke-width="0.75"/>
<circle cx="530" cy="911.42" r="1.55" fill="#fff" stroke="#333" stroke-width="0.75"/>
<circle cx="530" cy="914.44" r="1.55" fill="#fff" stroke="#333" stroke-width="0.75"/>
<circle cx="527.5" cy="924.73" r="1.55" fill="#fff" stroke="#333" stroke-width="0.75"/>
<circle cx="533" cy="924.73" r="1.55" fill="#fff" stroke="#333" stroke-width="0.75"/>
<circle cx="530" cy="933.94" r="1.55" fill="#fff" stroke="#333" stroke-width="0.75"/>
<circle cx="527.5" cy="945.51" r="1.55" fill="#fff" stroke="#333" stroke-width="0.75"/>
<circle cx="533" cy="945.51" r="1.55" fill="#fff" stroke="#333" stroke-width="0.75"/>
<polyline points="507.3,874 507.3,846 529.6,846 529.6,852.1" fill="none" stroke="#111" stroke-width="1.2" stroke-linejoin="miter"/>
<polygon points="518.1,836.22 518.83,838.06 520.81,838.19 519.29,839.46 519.78,841.38 518.1,840.32 516.42,841.38 516.91,839.46 515.39,838.19 517.37,838.06" fill="#111" stroke="#111" stroke-width="0.35" stroke-linejoin="round"/>
<text x="445.33" y="918.2" font-size="13.2" text-anchor="middle" fill="#1a1a1a" transform="rotate(-90 445.33 918.2)">MPO in plasma (ng/mL)</text>
<line x1="620.4" y1="848.75" x2="620.4" y2="983.75" stroke="#111" stroke-width="1.3"/>
<line x1="616.4" y1="983.1" x2="673.7" y2="983.1" stroke="#111" stroke-width="1.3"/>
<line x1="616.6" y1="983.1" x2="620.4" y2="983.1" stroke="#111" stroke-width="1.3"/>
<text x="614" y="987.48" font-size="12.5" text-anchor="end" fill="#1a1a1a">0</text>
<line x1="616.6" y1="956.35" x2="620.4" y2="956.35" stroke="#111" stroke-width="1.3"/>
<text x="614" y="960.73" font-size="12.5" text-anchor="end" fill="#1a1a1a">5</text>
<line x1="616.6" y1="929.6" x2="620.4" y2="929.6" stroke="#111" stroke-width="1.3"/>
<text x="614" y="933.98" font-size="12.5" text-anchor="end" fill="#1a1a1a">10</text>
<line x1="616.6" y1="902.85" x2="620.4" y2="902.85" stroke="#111" stroke-width="1.3"/>
<text x="614" y="907.23" font-size="12.5" text-anchor="end" fill="#1a1a1a">15</text>
<line x1="616.6" y1="876.1" x2="620.4" y2="876.1" stroke="#111" stroke-width="1.3"/>
<text x="614" y="880.48" font-size="12.5" text-anchor="end" fill="#1a1a1a">20</text>
<line x1="616.6" y1="849.35" x2="620.4" y2="849.35" stroke="#111" stroke-width="1.3"/>
<text x="614" y="853.73" font-size="12.5" text-anchor="end" fill="#1a1a1a">25</text>
<line x1="618.2" y1="969.73" x2="620.4" y2="969.73" stroke="#111" stroke-width="1.3"/>
<line x1="618.2" y1="942.98" x2="620.4" y2="942.98" stroke="#111" stroke-width="1.3"/>
<line x1="618.2" y1="916.23" x2="620.4" y2="916.23" stroke="#111" stroke-width="1.3"/>
<line x1="618.2" y1="889.48" x2="620.4" y2="889.48" stroke="#111" stroke-width="1.3"/>
<line x1="618.2" y1="862.73" x2="620.4" y2="862.73" stroke="#111" stroke-width="1.3"/>
<rect x="626.25" y="946.19" width="18.4" height="36.91" fill="#0000ff" stroke="#111" stroke-width="1.3"/>
<rect x="649.15" y="909.81" width="18" height="73.29" fill="#d5d5d5" stroke="#111" stroke-width="1.3"/>
<line x1="635.4" y1="946.19" x2="635.4" y2="936.82" stroke="#111" stroke-width="1.1"/>
<line x1="630.4" y1="936.82" x2="640.4" y2="936.82" stroke="#111" stroke-width="1.1"/>
<line x1="658" y1="909.81" x2="658" y2="899.64" stroke="#111" stroke-width="1.1"/>
<line x1="653" y1="899.64" x2="663" y2="899.64" stroke="#111" stroke-width="1.1"/>
<circle cx="635.4" cy="909.81" r="1.55" fill="#fff" stroke="#333" stroke-width="0.75"/>
<circle cx="632.8" cy="924.79" r="1.55" fill="#fff" stroke="#333" stroke-width="0.75"/>
<circle cx="638.7" cy="925.32" r="1.55" fill="#fff" stroke="#333" stroke-width="0.75"/>
<circle cx="635.4" cy="937.09" r="1.55" fill="#fff" stroke="#333" stroke-width="0.75"/>
<circle cx="632.8" cy="962.24" r="1.55" fill="#fff" stroke="#333" stroke-width="0.75"/>
<circle cx="638.2" cy="959.56" r="1.55" fill="#fff" stroke="#333" stroke-width="0.75"/>
<circle cx="635.4" cy="968.12" r="1.55" fill="#fff" stroke="#333" stroke-width="0.75"/>
<circle cx="635.4" cy="972.4" r="1.55" fill="#fff" stroke="#333" stroke-width="0.75"/>
<circle cx="658" cy="863.8" r="1.55" fill="#fff" stroke="#333" stroke-width="0.75"/>
<circle cx="658" cy="882.52" r="1.55" fill="#fff" stroke="#333" stroke-width="0.75"/>
<circle cx="658" cy="893.75" r="1.55" fill="#fff" stroke="#333" stroke-width="0.75"/>
<circle cx="658" cy="905.53" r="1.55" fill="#fff" stroke="#333" stroke-width="0.75"/>
<circle cx="658" cy="911.95" r="1.55" fill="#fff" stroke="#333" stroke-width="0.75"/>
<circle cx="658" cy="928" r="1.55" fill="#fff" stroke="#333" stroke-width="0.75"/>
<circle cx="658" cy="932.27" r="1.55" fill="#fff" stroke="#333" stroke-width="0.75"/>
<circle cx="658" cy="963.31" r="1.55" fill="#fff" stroke="#333" stroke-width="0.75"/>
<polyline points="634.6,896.8 634.6,846.2 657.9,846.2 657.9,853.2" fill="none" stroke="#111" stroke-width="1.2" stroke-linejoin="miter"/>
<polygon points="646.4,834.62 647.13,836.46 649.11,836.59 647.59,837.86 648.08,839.78 646.4,838.72 644.72,839.78 645.21,837.86 643.69,836.59 645.67,836.46" fill="#111" stroke="#111" stroke-width="0.35" stroke-linejoin="round"/>
<text x="592.43" y="915.7" font-size="13.2" text-anchor="middle" fill="#1a1a1a" transform="rotate(-90 592.43 915.7)">cTnI in plasma (ng/mL)</text>
<rect x="600.05" y="788.95" width="24.5" height="9.6" fill="#0000ff" stroke="#111" stroke-width="1.3"/>
<rect x="600.05" y="805.75" width="24.5" height="9.2" fill="#d5d5d5" stroke="#111" stroke-width="1.3"/>
<text x="629.5" y="798.6" font-size="12.1" text-anchor="start" fill="#1a1a1a">ORX+V</text>
<text x="629.5" y="814.5" font-size="12.1" text-anchor="start" fill="#1a1a1a">ORX+T</text>
<defs><filter id="hf" x="-20%" y="-20%" width="140%" height="140%"><feTurbulence type="fractalNoise" baseFrequency="0.3" numOctaves="2" seed="3" result="t"/><feDisplacementMap in="SourceGraphic" in2="t" scale="2.0" xChannelSelector="R" yChannelSelector="G" result="d"/><feGaussianBlur in="d" stdDeviation="0.35"/></filter><filter id="hs1" x="-50%" y="-50%" width="200%" height="200%"><feGaussianBlur stdDeviation="1.2"/></filter><filter id="hs2" x="-50%" y="-50%" width="200%" height="200%"><feGaussianBlur stdDeviation="2.2"/></filter><filter id="mottW" x="0" y="0" width="100%" height="100%"><feTurbulence type="fractalNoise" baseFrequency="0.35" numOctaves="2" seed="8"/><feColorMatrix type="matrix" values="0 0 0 0 1  0 0 0 0 1  0 0 0 0 1  1.6 0 0 0 -0.85"/></filter><filter id="mottD" x="0" y="0" width="100%" height="100%"><feTurbulence type="fractalNoise" baseFrequency="0.3" numOctaves="2" seed="21"/><feColorMatrix type="matrix" values="0 0 0 0 0.18  0 0 0 0 0.26  0 0 0 0 0.4  2.6 0 0 0 -1.25"/></filter></defs>
<clipPath id="hc1"><path d="M304.5 51.1 C317 51.1 327.5 61 327.5 73.9 C327.5 86.5 317 96.7 304.5 96.7 C292 96.7 281.6 86.5 281.6 73.9 C281.6 61 292 51.1 304.5 51.1 Z"/></clipPath>
<g filter="url(#hf)"><g clip-path="url(#hc1)">
<rect x="278" y="48" width="53" height="52" fill="#2f58a6"/>
<path d="M304.5 51.1 C317 51.1 327.5 61 327.5 73.9 C327.5 86.5 317 96.7 304.5 96.7 C292 96.7 281.6 86.5 281.6 73.9 C281.6 61 292 51.1 304.5 51.1 Z" fill="none" stroke="#3f7ff0" stroke-width="3" opacity="0.55" filter="url(#b05)"/>
<g filter="url(#hs1)"><path d="M312 48 C322 50 332 62 331 76 C330 90 320 100 312 100 Z" fill="#d9cbc0"/><path d="M297 48 C304 50 318 50 324 60 C327 70 326 84 320 92 C316 96 312 98 310 98 C309 90 308 82 308 75 C306 68 300 60 297 48 Z" fill="#bd4f3c"/><ellipse cx="302" cy="64" rx="4" ry="6" fill="#6a3a70"/></g>
<g filter="url(#hs2)"><ellipse cx="292" cy="82" rx="7" ry="9" fill="#2a4aa0" opacity="0.7"/><ellipse cx="287" cy="62" rx="5" ry="5" fill="#4a80d8" opacity="0.6"/></g>
<rect x="278" y="48" width="53" height="52" filter="url(#mottD)" opacity="0.55"/>
<rect x="278" y="48" width="53" height="52" filter="url(#mottW)" opacity="0.22"/>
</g></g>
<path d="M298.3 74.4 C300 72.6 302.6 73.2 303.4 75.2 L307.5 74.6 L307.3 75.8 L303.3 77.3 C302.6 79.2 299.6 79.6 298.2 77.6 Z" fill="#fff" filter="url(#b05)"/>
<ellipse cx="303" cy="72" rx="2.5" ry="1.5" fill="#1b2a80" opacity="0.6" filter="url(#b05)"/>
<clipPath id="hc2"><path d="M290.8 116.8 C294 113 298 111.5 301.3 112.2 C305 113 308 114 311.8 115 C317 117 321 120 322.3 122.9 C325 127 326.7 132 326.7 137 C326.7 151 316 162.3 301 162.3 C289 162 281.1 151 281.1 137 C281.1 128 285 121 290.8 116.8 Z"/></clipPath>
<g filter="url(#hf)"><g clip-path="url(#hc2)">
<rect x="278" y="108" width="52" height="58" fill="#2f58a6"/>
<path d="M290.8 116.8 C294 113 298 111.5 301.3 112.2 C305 113 308 114 311.8 115 C317 117 321 120 322.3 122.9 C325 127 326.7 132 326.7 137 C326.7 151 316 162.3 301 162.3 C289 162 281.1 151 281.1 137 C281.1 128 285 121 290.8 116.8 Z" fill="none" stroke="#3f7ff0" stroke-width="3" opacity="0.55" filter="url(#b05)"/>
<g filter="url(#hs1)"><ellipse cx="311" cy="152" rx="9" ry="5.5" fill="#d9cbc0"/><path d="M292 127 C296 123 306 122 314 126 C321 130 324 138 322 146 C320 152 314 154 310 152 C308 146 306 140 300 136 C296 133 292 131 292 127 Z" fill="#bd4f3c"/></g>
<rect x="278" y="108" width="52" height="58" filter="url(#mottD)" opacity="0.55"/>
<rect x="278" y="108" width="52" height="58" filter="url(#mottW)" opacity="0.22"/>
</g></g>
<path d="M297.5 124 L302.5 118 L314.5 125.6 C310 124 302 123.4 297.5 124 Z" fill="#fff" filter="url(#b05)"/>
<path d="M303.5 137.5 L312.2 145 L310.8 146.6 L302.6 139.5 Z" fill="#fff" filter="url(#b05)"/>
<ellipse cx="298" cy="135.6" rx="2.6" ry="1.4" fill="#101c60" transform="rotate(35 298 135.6)" filter="url(#b05)"/>
<clipPath id="hc3"><path d="M284 268 C290 263 300 262.5 310 262.9 C318 264 324 270 327 277 C328.5 282 328.2 289 326 295 C322 303 313 307.5 304 307.5 C293 307.5 284 302 280 295 C278 292 276.9 288 276.9 284.8 C277.5 278 280 272 284 268 Z"/></clipPath>
<g filter="url(#hf)"><g clip-path="url(#hc3)">
<rect x="274" y="260" width="57" height="50" fill="#2f58a6"/>
<path d="M284 268 C290 263 300 262.5 310 262.9 C318 264 324 270 327 277 C328.5 282 328.2 289 326 295 C322 303 313 307.5 304 307.5 C293 307.5 284 302 280 295 C278 292 276.9 288 276.9 284.8 C277.5 278 280 272 284 268 Z" fill="none" stroke="#3f7ff0" stroke-width="3" opacity="0.55" filter="url(#b05)"/>
<g filter="url(#hs1)"><ellipse cx="318.5" cy="283" rx="6.5" ry="10" fill="#d2bfae"/><ellipse cx="294" cy="275.5" rx="6" ry="6.2" fill="#bd4f3c"/><ellipse cx="289" cy="269" rx="3" ry="2.5" fill="#bd4f3c"/><ellipse cx="303.6" cy="298" rx="9" ry="5.8" fill="#bd4f3c"/><ellipse cx="313.5" cy="289" rx="6" ry="6.5" fill="#bd4f3c"/><ellipse cx="305" cy="281.5" rx="3.5" ry="4" fill="#bd4f3c"/><ellipse cx="302" cy="287" rx="13" ry="12" fill="none" stroke="#bd4f3c" stroke-width="5" opacity="0.8"/><ellipse cx="321" cy="293" rx="3" ry="4" fill="#c06a55"/></g>
<rect x="274" y="260" width="57" height="50" filter="url(#mottD)" opacity="0.55"/>
<rect x="274" y="260" width="57" height="50" filter="url(#mottW)" opacity="0.22"/>
</g></g>
<path d="M301.9 277.3 C299.5 279 298 282 299.3 284.8 C301 287.5 304 289.5 306.7 291.3 L305 287.5 C303 286 302 284 302.3 282 C302.8 280 303.5 279 304 278.2 Z" fill="#fff" filter="url(#b05)"/>
<path d="M309.5 283 L312 279.5" stroke="#1b2a80" stroke-width="1.2" opacity="0.8"/>
<clipPath id="hc4"><path d="M285 332 C290 327 297 324.5 305 324.5 C308 322.5 312 322.8 314.5 325 C322 329 327.7 337 327.7 347 C327.7 360 317 370.5 304 370.5 C291 370.5 280.9 360 280.9 347 C280.9 341 282.5 336 285 332 Z"/></clipPath>
<g filter="url(#hf)"><g clip-path="url(#hc4)">
<rect x="278" y="320" width="53" height="54" fill="#2f58a6"/>
<path d="M285 332 C290 327 297 324.5 305 324.5 C308 322.5 312 322.8 314.5 325 C322 329 327.7 337 327.7 347 C327.7 360 317 370.5 304 370.5 C291 370.5 280.9 360 280.9 347 C280.9 341 282.5 336 285 332 Z" fill="none" stroke="#3f7ff0" stroke-width="3" opacity="0.55" filter="url(#b05)"/>
<g filter="url(#hs2)"><ellipse cx="309" cy="351" rx="16" ry="17" fill="#bd4f3c"/><ellipse cx="298" cy="343" rx="8" ry="8" fill="#a8463a"/><ellipse cx="318" cy="356" rx="7" ry="9" fill="#c65a44"/><ellipse cx="306" cy="327" rx="14" ry="3.5" fill="#2f58a6"/></g>
<rect x="278" y="320" width="53" height="54" filter="url(#mottD)" opacity="0.55"/>
<rect x="278" y="320" width="53" height="54" filter="url(#mottW)" opacity="0.22"/>
</g></g>
<path d="M299.5 349 C300.5 345.5 305.5 344.5 308 347.5" fill="none" stroke="#f4f4f4" stroke-width="0.9"/>
<rect x="270.6" y="42.9" width="68.3" height="129.8" fill="none" stroke="#111" stroke-width="1.2"/>
<line x1="270" y1="104.8" x2="339.5" y2="104.8" stroke="#111" stroke-width="1.2"/>
<rect x="327.15" y="48.15" width="7.6" height="8.1" fill="#ffa0a0" stroke="#111" stroke-width="1.1"/>
<rect x="327.15" y="110.05" width="7.6" height="8.4" fill="#fff" stroke="#111" stroke-width="1.1"/>
<line x1="323.9" y1="165.7" x2="331.9" y2="165.7" stroke="#111" stroke-width="1.6"/>
<rect x="270.6" y="252" width="67.4" height="128.4" fill="none" stroke="#111" stroke-width="1.2"/>
<line x1="270" y1="315.6" x2="338.6" y2="315.6" stroke="#111" stroke-width="1.2"/>
<rect x="325.75" y="258.65" width="8.1" height="8.4" fill="#fff" stroke="#111" stroke-width="1.1"/>
<rect x="325.75" y="320.55" width="8.1" height="8.4" fill="#0000ff" stroke="#111" stroke-width="1.1"/>
<line x1="323" y1="373.7" x2="331" y2="373.7" stroke="#111" stroke-width="1.6"/>
<text x="258.6" y="849.8" font-size="11.4" text-anchor="middle" fill="#1a1a1a">Control</text>
<text x="340.5" y="850.3" font-size="11.4" text-anchor="middle" fill="#1a1a1a">ORX</text>
<text x="196.4" y="894.7" font-size="11" text-anchor="start" fill="#1a1a1a">24h</text>
<text x="201.5" y="963.3" font-size="11.2" text-anchor="start" fill="#1a1a1a">3w</text>
<defs><filter id="usf" x="0" y="0" width="100%" height="100%" color-interpolation-filters="sRGB"><feGaussianBlur in="SourceGraphic" stdDeviation="2.1" result="bl"/><feTurbulence type="fractalNoise" baseFrequency="0.55 0.3" numOctaves="3" seed="4" result="n"/><feColorMatrix in="n" type="matrix" values="0.6 0 0 0 0.2  0.6 0 0 0 0.2  0.6 0 0 0 0.2  0 0 0 0 1" result="g"/><feComposite in="bl" in2="g" operator="arithmetic" k1="1.95" k2="0" k3="0" k4="0"/></filter></defs>
<rect x="219" y="854" width="175.6" height="140.6" fill="#000"/>
<clipPath id="ec1"><rect x="221" y="857" width="68" height="67.89999999999998"/></clipPath>
<g clip-path="url(#ec1)"><g filter="url(#usf)">
<rect x="213" y="849" width="84" height="83.89999999999998" fill="#242424"/>
<ellipse cx="258" cy="865" rx="30" ry="8" fill="#4e4e4e"/>
<ellipse cx="247" cy="863" rx="14" ry="2.5" fill="#9a9a9a"/>
<ellipse cx="232" cy="866" rx="9" ry="3" fill="#8a8a8a"/>
<ellipse cx="276" cy="869" rx="10" ry="3" fill="#8c8c8c"/>
<ellipse cx="283" cy="884" rx="6" ry="10" fill="#707070"/>
<ellipse cx="254" cy="890" rx="21" ry="23" fill="#1c1c1c"/>
<ellipse cx="254" cy="890" rx="15.5" ry="18.5" fill="#545454"/>
<ellipse cx="254" cy="890" rx="4" ry="16" fill="#6c6c6c"/>
<ellipse cx="256" cy="920" rx="21" ry="5" fill="#d8d8d8"/>
<ellipse cx="250" cy="922" rx="10" ry="3" fill="#f0f0f0"/>
<ellipse cx="230" cy="911" rx="9" ry="3" fill="#a8a8a8"/>
<ellipse cx="281" cy="913" rx="8" ry="3" fill="#9a9a9a"/>
<ellipse cx="266.5" cy="903.5" rx="3.2" ry="2.6" fill="#c8c8c8"/>
</g></g>
<path d="M254.3,871.3 C257.08,871.35 260.08,872.65 262,873.5 C263.92,874.35 265.53,875.38 265.8,876.4 C266.07,877.42 263.7,878.53 263.6,879.6 C263.5,880.67 264.15,881.65 265.2,882.8 C266.25,883.95 269.18,884.57 269.9,886.5 C270.62,888.43 270.85,892.27 269.5,894.4 C268.15,896.53 262.8,897.17 261.8,899.3 C260.8,901.43 264.12,905.33 263.5,907.2 C262.88,909.07 260.72,910.17 258.1,910.5 C255.48,910.83 250.8,910.6 247.8,909.2 C244.8,907.8 241.8,905.22 240.1,902.1 C238.4,898.98 237.7,894.13 237.6,890.5 C237.5,886.87 238.22,883.18 239.5,880.3 C240.78,877.42 242.83,874.7 245.3,873.2 C247.77,871.7 251.52,871.25 254.3,871.3Z" fill="none" stroke="#22c8cc" stroke-width="1.0" opacity="0.85"/>
<path d="M254.3,871.3 C257.08,871.35 260.08,872.65 262,873.5 C263.92,874.35 265.53,875.38 265.8,876.4 C266.07,877.42 263.7,878.53 263.6,879.6 C263.5,880.67 264.15,881.65 265.2,882.8 C266.25,883.95 269.18,884.57 269.9,886.5 C270.62,888.43 270.85,892.27 269.5,894.4 C268.15,896.53 262.8,897.17 261.8,899.3 C260.8,901.43 264.12,905.33 263.5,907.2 C262.88,909.07 260.72,910.17 258.1,910.5 C255.48,910.83 250.8,910.6 247.8,909.2 C244.8,907.8 241.8,905.22 240.1,902.1 C238.4,898.98 237.7,894.13 237.6,890.5 C237.5,886.87 238.22,883.18 239.5,880.3 C240.78,877.42 242.83,874.7 245.3,873.2 C247.77,871.7 251.52,871.25 254.3,871.3Z" fill="none" stroke="#2ad8d8" stroke-width="1.6" stroke-dasharray="0.01 2.0" stroke-linecap="round"/>
<rect x="222.2" y="858.4" width="9" height="1.3" fill="#1fa8b0" opacity="0.8"/>
<path d="M281 860 l3 3 M285.5 860.5 l1.5 -1.5" stroke="#fff" stroke-width="1.3"/>
<clipPath id="ec2"><rect x="302.8" y="857" width="75.59999999999997" height="67.89999999999998"/></clipPath>
<g clip-path="url(#ec2)"><g filter="url(#usf)">
<rect x="294.8" y="849" width="91.59999999999997" height="83.89999999999998" fill="#3a3a3a"/>
<ellipse cx="338" cy="861" rx="38" ry="7" fill="#e4e4e4"/>
<ellipse cx="308" cy="870" rx="6" ry="10" fill="#bdbdbd"/>
<path d="M311 878 C324 869 356 869 371 878 L368 882 C354 874 326 874 314 882 Z" fill="#1a1a1a"/>
<ellipse cx="341" cy="893" rx="19" ry="21" fill="#a6a6a6"/>
<ellipse cx="368" cy="892" rx="8" ry="15" fill="#e0e0e0"/>
<path d="M312 916 C324 921 352 923 372 913 L376 926 L308 926 Z" fill="#e8e8e8"/>
<ellipse cx="312" cy="898" rx="8" ry="15" fill="#2a2a2a"/>
<ellipse cx="341" cy="893" rx="13.5" ry="16.5" fill="#4e4e4e"/>
<ellipse cx="337" cy="893" rx="3" ry="13" fill="#262626"/>
<ellipse cx="352" cy="900" rx="3" ry="5" fill="#6a6a6a"/>
</g></g>
<path d="M340.2,875.3 C341.93,875.33 343.47,876.23 344.4,877.2 C345.33,878.17 344.42,880.22 345.8,881.1 C347.18,881.98 350.97,881.33 352.7,882.5 C354.43,883.67 355.73,886.02 356.2,888.1 C356.67,890.18 356.05,892.93 355.5,895 C354.95,897.07 353.25,898.77 352.9,900.5 C352.55,902.23 354.58,903.77 353.4,905.4 C352.22,907.03 348.47,909.6 345.8,910.3 C343.13,911 340.07,910.77 337.4,909.6 C334.73,908.43 331.63,906.2 329.8,903.3 C327.97,900.4 326.63,895.78 326.4,892.2 C326.17,888.62 327.13,884.33 328.4,881.8 C329.67,879.27 332.03,878.08 334,877 C335.97,875.92 338.47,875.27 340.2,875.3Z" fill="none" stroke="#22c8cc" stroke-width="1.0" opacity="0.85"/>
<path d="M340.2,875.3 C341.93,875.33 343.47,876.23 344.4,877.2 C345.33,878.17 344.42,880.22 345.8,881.1 C347.18,881.98 350.97,881.33 352.7,882.5 C354.43,883.67 355.73,886.02 356.2,888.1 C356.67,890.18 356.05,892.93 355.5,895 C354.95,897.07 353.25,898.77 352.9,900.5 C352.55,902.23 354.58,903.77 353.4,905.4 C352.22,907.03 348.47,909.6 345.8,910.3 C343.13,911 340.07,910.77 337.4,909.6 C334.73,908.43 331.63,906.2 329.8,903.3 C327.97,900.4 326.63,895.78 326.4,892.2 C326.17,888.62 327.13,884.33 328.4,881.8 C329.67,879.27 332.03,878.08 334,877 C335.97,875.92 338.47,875.27 340.2,875.3Z" fill="none" stroke="#2ad8d8" stroke-width="1.6" stroke-dasharray="0.01 2.0" stroke-linecap="round"/>
<rect x="304.0" y="858.4" width="9" height="1.3" fill="#1fa8b0" opacity="0.8"/>
<path d="M370.4 860 l3 3 M374.9 860.5 l1.5 -1.5" stroke="#fff" stroke-width="1.3"/>
<clipPath id="ec3"><rect x="221" y="926.9" width="68" height="66.39999999999998"/></clipPath>
<g clip-path="url(#ec3)"><g filter="url(#usf)">
<rect x="213" y="918.9" width="84" height="82.39999999999998" fill="#2a2a2a"/>
<ellipse cx="255" cy="931" rx="34" ry="5" fill="#7c7c7c"/>
<ellipse cx="257" cy="934" rx="22" ry="3" fill="#9a9a9a"/>
<path d="M221 936 C227 940 230 955 228 968 L221 970 Z" fill="#d0d0d0"/>
<path d="M221 974 C230 979 238 986 244 994 L221 994 Z" fill="#b4b4b4"/>
<ellipse cx="257" cy="961" rx="27" ry="30" fill="#686868"/>
<ellipse cx="284" cy="962" rx="4" ry="20" fill="#8e8e8e"/>
<ellipse cx="257" cy="961" rx="22" ry="25" fill="#4e4e4e"/>
<ellipse cx="258" cy="962" rx="6" ry="18" fill="#5c5c5c"/>
<ellipse cx="262" cy="992" rx="18" ry="3" fill="#8a8a8a"/>
</g></g>
<path d="M245.3,936.1 C248.62,935.02 254.92,934.27 259.4,934.8 C263.88,935.33 268.77,937.27 272.2,939.3 C275.63,941.33 278.6,943.88 280,947 C281.4,950.12 281.03,955.32 280.6,958 C280.17,960.68 277.93,961.4 277.4,963.1 C276.87,964.8 277.83,966.05 277.4,968.2 C276.97,970.35 276.3,973.53 274.8,976 C273.3,978.47 271.18,981.08 268.4,983 C265.62,984.92 261.95,987.17 258.1,987.5 C254.25,987.83 248.72,986.92 245.3,985 C241.88,983.08 239.58,980.08 237.6,976 C235.62,971.92 233.83,964.9 233.4,960.5 C232.97,956.1 233.98,952.8 235,949.6 C236.02,946.4 237.78,943.55 239.5,941.3 C241.22,939.05 241.98,937.18 245.3,936.1Z" fill="none" stroke="#22c8cc" stroke-width="1.0" opacity="0.85"/>
<path d="M245.3,936.1 C248.62,935.02 254.92,934.27 259.4,934.8 C263.88,935.33 268.77,937.27 272.2,939.3 C275.63,941.33 278.6,943.88 280,947 C281.4,950.12 281.03,955.32 280.6,958 C280.17,960.68 277.93,961.4 277.4,963.1 C276.87,964.8 277.83,966.05 277.4,968.2 C276.97,970.35 276.3,973.53 274.8,976 C273.3,978.47 271.18,981.08 268.4,983 C265.62,984.92 261.95,987.17 258.1,987.5 C254.25,987.83 248.72,986.92 245.3,985 C241.88,983.08 239.58,980.08 237.6,976 C235.62,971.92 233.83,964.9 233.4,960.5 C232.97,956.1 233.98,952.8 235,949.6 C236.02,946.4 237.78,943.55 239.5,941.3 C241.22,939.05 241.98,937.18 245.3,936.1Z" fill="none" stroke="#2ad8d8" stroke-width="1.6" stroke-dasharray="0.01 2.0" stroke-linecap="round"/>
<rect x="222.2" y="928.3" width="9" height="1.3" fill="#1fa8b0" opacity="0.8"/>
<path d="M281 929.9 l3 3 M285.5 930.4 l1.5 -1.5" stroke="#fff" stroke-width="1.3"/>
<clipPath id="ec4"><rect x="302.8" y="927.3" width="75.59999999999997" height="66.10000000000002"/></clipPath>
<g clip-path="url(#ec4)"><g filter="url(#usf)">
<rect x="294.8" y="919.3" width="91.59999999999997" height="82.10000000000002" fill="#2c2c2c"/>
<ellipse cx="340" cy="931" rx="36" ry="4" fill="#787878"/>
<ellipse cx="370" cy="948" rx="9" ry="14" fill="#dcdcdc"/>
<ellipse cx="372" cy="978" rx="6" ry="12" fill="#8c8c8c"/>
<path d="M320 985 C332 979 352 979 364 985 L364 995 L320 995 Z" fill="#e0e0e0"/>
<ellipse cx="310" cy="962" rx="7" ry="22" fill="#262626"/>
<path d="M303 962 C307 966 311 972 313 980 L309 981 C306 974 304 968 303 966 Z" fill="#a0a0a0"/>
<ellipse cx="339" cy="955" rx="18" ry="21" fill="#454545"/>
<ellipse cx="351" cy="973" rx="6" ry="4" fill="#8a8a8a"/>
<ellipse cx="313" cy="938" rx="8" ry="4" fill="#6a6a6a"/>
</g></g>
<path d="M327.7,935.9 C330.35,934.93 336.27,934.32 340.2,934.2 C344.13,934.08 348.63,934.23 351.3,935.2 C353.97,936.17 355.03,937.58 356.2,940 C357.37,942.42 357.95,946.23 358.3,949.7 C358.65,953.17 359,958.02 358.3,960.8 C357.6,963.58 355.95,965 354.1,966.4 C352.25,967.8 348.82,967.82 347.2,969.2 C345.58,970.58 345.57,973.08 344.4,974.7 C343.23,976.32 342.05,978.32 340.2,978.9 C338.35,979.48 335.83,979.37 333.3,978.2 C330.77,977.03 327.2,975.03 325,971.9 C322.8,968.77 320.8,963.55 320.1,959.4 C319.4,955.25 320.1,950.23 320.8,947 C321.5,943.77 323.15,941.85 324.3,940 C325.45,938.15 325.05,936.87 327.7,935.9Z" fill="none" stroke="#22c8cc" stroke-width="1.0" opacity="0.85"/>
<path d="M327.7,935.9 C330.35,934.93 336.27,934.32 340.2,934.2 C344.13,934.08 348.63,934.23 351.3,935.2 C353.97,936.17 355.03,937.58 356.2,940 C357.37,942.42 357.95,946.23 358.3,949.7 C358.65,953.17 359,958.02 358.3,960.8 C357.6,963.58 355.95,965 354.1,966.4 C352.25,967.8 348.82,967.82 347.2,969.2 C345.58,970.58 345.57,973.08 344.4,974.7 C343.23,976.32 342.05,978.32 340.2,978.9 C338.35,979.48 335.83,979.37 333.3,978.2 C330.77,977.03 327.2,975.03 325,971.9 C322.8,968.77 320.8,963.55 320.1,959.4 C319.4,955.25 320.1,950.23 320.8,947 C321.5,943.77 323.15,941.85 324.3,940 C325.45,938.15 325.05,936.87 327.7,935.9Z" fill="none" stroke="#2ad8d8" stroke-width="1.6" stroke-dasharray="0.01 2.0" stroke-linecap="round"/>
<rect x="304.0" y="928.6999999999999" width="9" height="1.3" fill="#1fa8b0" opacity="0.8"/>
<path d="M370.4 930.3 l3 3 M374.9 930.8 l1.5 -1.5" stroke="#fff" stroke-width="1.3"/>
<line x1="290.8" y1="858" x2="290.8" y2="923.9" stroke="#555" stroke-width="0.6" stroke-dasharray="0.8 1.6"/>
<rect x="296.5" y="859" width="2.2" height="1.0" fill="#777"/>
<rect x="296.5" y="871.38" width="2.2" height="1.0" fill="#777"/>
<rect x="296.5" y="883.76" width="2.2" height="1.0" fill="#777"/>
<rect x="296.5" y="896.14" width="2.2" height="1.0" fill="#777"/>
<rect x="296.5" y="908.52" width="2.2" height="1.0" fill="#777"/>
<rect x="296.5" y="920.9" width="2.2" height="1.0" fill="#777"/>
<path d="M295.5 858 Q300.5 890.95 297.5 923.9" stroke="#666" stroke-width="0.5" fill="none"/>
<path d="M292.5 899.8 l3 -1.8 v3.6z" fill="#ffe000"/>
<line x1="380.2" y1="858" x2="380.2" y2="923.9" stroke="#555" stroke-width="0.6" stroke-dasharray="0.8 1.6"/>
<rect x="385.9" y="859" width="2.2" height="1.0" fill="#777"/>
<rect x="385.9" y="871.38" width="2.2" height="1.0" fill="#777"/>
<rect x="385.9" y="883.76" width="2.2" height="1.0" fill="#777"/>
<rect x="385.9" y="896.14" width="2.2" height="1.0" fill="#777"/>
<rect x="385.9" y="908.52" width="2.2" height="1.0" fill="#777"/>
<rect x="385.9" y="920.9" width="2.2" height="1.0" fill="#777"/>
<path d="M387 858 Q392 890.95 389 923.9" stroke="#666" stroke-width="0.5" fill="none"/>
<path d="M381.9 891.5 l3 -1.8 v3.6z" fill="#ffe000"/>
<line x1="290.8" y1="927.9" x2="290.8" y2="992.3" stroke="#555" stroke-width="0.6" stroke-dasharray="0.8 1.6"/>
<rect x="296.5" y="928.9" width="2.2" height="1.0" fill="#777"/>
<rect x="296.5" y="940.98" width="2.2" height="1.0" fill="#777"/>
<rect x="296.5" y="953.06" width="2.2" height="1.0" fill="#777"/>
<rect x="296.5" y="965.14" width="2.2" height="1.0" fill="#777"/>
<rect x="296.5" y="977.22" width="2.2" height="1.0" fill="#777"/>
<rect x="296.5" y="989.3" width="2.2" height="1.0" fill="#777"/>
<path d="M295.5 927.9 Q300.5 960.0999999999999 297.5 992.3" stroke="#666" stroke-width="0.5" fill="none"/>
<path d="M292.5 967.9 l3 -1.8 v3.6z" fill="#ffe000"/>
<line x1="380.2" y1="928.3" x2="380.2" y2="992.4" stroke="#555" stroke-width="0.6" stroke-dasharray="0.8 1.6"/>
<rect x="385.9" y="929.3" width="2.2" height="1.0" fill="#777"/>
<rect x="385.9" y="941.32" width="2.2" height="1.0" fill="#777"/>
<rect x="385.9" y="953.34" width="2.2" height="1.0" fill="#777"/>
<rect x="385.9" y="965.36" width="2.2" height="1.0" fill="#777"/>
<rect x="385.9" y="977.38" width="2.2" height="1.0" fill="#777"/>
<rect x="385.9" y="989.4" width="2.2" height="1.0" fill="#777"/>
<path d="M387 928.3 Q392 960.3499999999999 389 992.4" stroke="#666" stroke-width="0.5" fill="none"/>
<path d="M381.9 960.8 l3 -1.8 v3.6z" fill="#ffe000"/>
<rect x="279.3" y="989.2" width="7.7" height="1.1" fill="#1fb8c0"/>
</g></svg></body></html>
